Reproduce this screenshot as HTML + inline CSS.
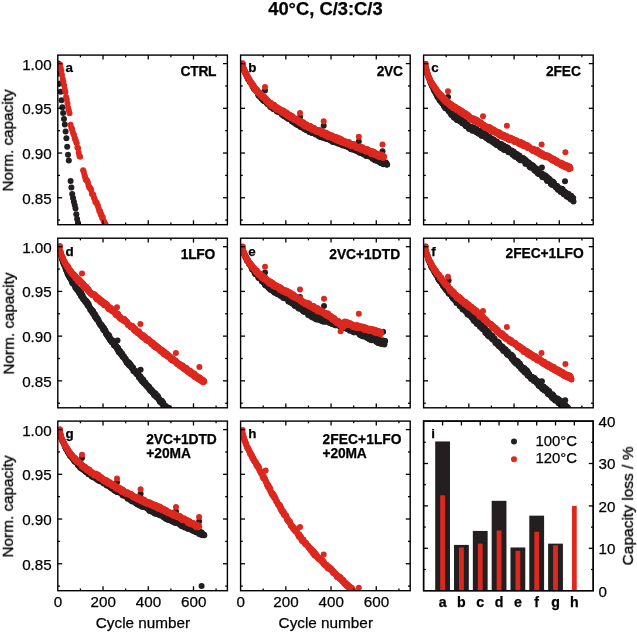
<!DOCTYPE html>
<html><head><meta charset="utf-8"><style>
html,body{margin:0;padding:0;background:#fff;}
svg{display:block;filter:blur(0.35px);}
text{will-change:transform;}
text{font-family:"Liberation Sans",sans-serif;fill:#000;stroke:#000;stroke-width:0.25px;}
</style></head><body>
<svg width="637" height="632" viewBox="0 0 637 632">
<rect width="637" height="632" fill="#fff"/>
<defs><clipPath id="cp00"><rect x="57.80" y="55.10" width="169.60" height="169.60"/></clipPath><clipPath id="cp01"><rect x="240.60" y="55.10" width="169.60" height="169.60"/></clipPath><clipPath id="cp02"><rect x="423.60" y="55.10" width="169.60" height="169.60"/></clipPath><clipPath id="cp10"><rect x="57.80" y="238.20" width="169.60" height="169.60"/></clipPath><clipPath id="cp11"><rect x="240.60" y="238.20" width="169.60" height="169.60"/></clipPath><clipPath id="cp12"><rect x="423.60" y="238.20" width="169.60" height="169.60"/></clipPath><clipPath id="cp20"><rect x="57.80" y="421.10" width="169.60" height="169.60"/></clipPath><clipPath id="cp21"><rect x="240.60" y="421.10" width="169.60" height="169.60"/></clipPath><clipPath id="cp22"><rect x="423.60" y="421.10" width="169.60" height="169.60"/></clipPath></defs>
<g clip-path="url(#cp00)"><g fill="#231f20"><circle cx="58.3" cy="63.6" r="3.00"/><circle cx="59.1" cy="73.4" r="3.00"/><circle cx="59.9" cy="83.4" r="3.00"/><circle cx="60.7" cy="91.7" r="3.00"/><circle cx="61.5" cy="100.2" r="3.00"/><circle cx="62.3" cy="107.3" r="3.00"/><circle cx="63.1" cy="113.0" r="3.00"/><circle cx="64.0" cy="119.1" r="3.00"/><circle cx="64.8" cy="124.6" r="3.00"/><circle cx="65.6" cy="131.6" r="3.00"/><circle cx="66.4" cy="138.3" r="3.00"/><circle cx="67.2" cy="146.7" r="3.00"/><circle cx="68.0" cy="154.7" r="3.00"/><circle cx="68.8" cy="160.5" r="3.00"/><circle cx="70.6" cy="180.9" r="3.00"/><circle cx="71.4" cy="187.5" r="3.00"/><circle cx="72.2" cy="193.9" r="3.00"/><circle cx="73.0" cy="197.9" r="3.00"/><circle cx="73.9" cy="201.8" r="3.00"/><circle cx="74.7" cy="205.1" r="3.00"/><circle cx="75.5" cy="208.5" r="3.00"/><circle cx="76.3" cy="214.3" r="3.00"/><circle cx="77.1" cy="219.0" r="3.00"/><circle cx="77.9" cy="222.8" r="3.00"/><circle cx="78.7" cy="227.5" r="3.00"/><circle cx="79.6" cy="232.7" r="3.00"/><circle cx="80.4" cy="237.6" r="3.00"/></g><g fill="#dc2920"><circle cx="60.0" cy="64.4" r="3.00"/><circle cx="60.7" cy="68.1" r="3.00"/><circle cx="61.4" cy="70.8" r="3.00"/><circle cx="62.0" cy="74.9" r="3.00"/><circle cx="62.7" cy="78.9" r="3.00"/><circle cx="63.4" cy="81.8" r="3.00"/><circle cx="64.1" cy="85.2" r="3.00"/><circle cx="64.7" cy="88.9" r="3.00"/><circle cx="65.4" cy="92.0" r="3.00"/><circle cx="66.1" cy="97.0" r="3.00"/><circle cx="66.8" cy="99.7" r="3.00"/><circle cx="67.5" cy="103.4" r="3.00"/><circle cx="68.1" cy="107.7" r="3.00"/><circle cx="68.8" cy="110.2" r="3.00"/><circle cx="69.5" cy="113.3" r="3.00"/><circle cx="70.6" cy="124.7" r="3.00"/><circle cx="71.3" cy="127.7" r="3.00"/><circle cx="72.0" cy="128.7" r="3.00"/><circle cx="72.6" cy="131.6" r="3.00"/><circle cx="73.3" cy="133.7" r="3.00"/><circle cx="74.0" cy="135.0" r="3.00"/><circle cx="74.7" cy="138.4" r="3.00"/><circle cx="75.3" cy="138.7" r="3.00"/><circle cx="76.0" cy="141.2" r="3.00"/><circle cx="76.7" cy="143.3" r="3.00"/><circle cx="77.4" cy="147.4" r="3.00"/><circle cx="78.1" cy="148.3" r="3.00"/><circle cx="78.7" cy="152.8" r="3.00"/><circle cx="79.4" cy="156.0" r="3.00"/><circle cx="80.1" cy="156.7" r="3.00"/><circle cx="83.1" cy="170.2" r="3.00"/><circle cx="83.8" cy="172.0" r="3.00"/><circle cx="84.5" cy="175.0" r="3.00"/><circle cx="85.1" cy="177.3" r="3.00"/><circle cx="85.8" cy="179.8" r="3.00"/><circle cx="86.5" cy="179.7" r="3.00"/><circle cx="87.2" cy="181.1" r="3.00"/><circle cx="87.9" cy="182.5" r="3.00"/><circle cx="88.5" cy="185.6" r="3.00"/><circle cx="89.2" cy="187.4" r="3.00"/><circle cx="89.9" cy="187.7" r="3.00"/><circle cx="90.6" cy="188.8" r="3.00"/><circle cx="91.2" cy="189.9" r="3.00"/><circle cx="91.9" cy="193.8" r="3.00"/><circle cx="92.6" cy="194.4" r="3.00"/><circle cx="93.3" cy="194.8" r="3.00"/><circle cx="94.0" cy="197.7" r="3.00"/><circle cx="94.6" cy="198.9" r="3.00"/><circle cx="95.3" cy="202.1" r="3.00"/><circle cx="96.0" cy="201.9" r="3.00"/><circle cx="96.7" cy="202.8" r="3.00"/><circle cx="97.4" cy="204.8" r="3.00"/><circle cx="98.0" cy="206.2" r="3.00"/><circle cx="98.7" cy="208.5" r="3.00"/><circle cx="99.4" cy="211.2" r="3.00"/><circle cx="100.1" cy="211.3" r="3.00"/><circle cx="100.7" cy="214.4" r="3.00"/><circle cx="101.4" cy="214.2" r="3.00"/><circle cx="102.1" cy="217.9" r="3.00"/><circle cx="102.8" cy="217.3" r="3.00"/><circle cx="103.5" cy="220.7" r="3.00"/><circle cx="104.1" cy="221.7" r="3.00"/><circle cx="104.8" cy="223.5" r="3.00"/><circle cx="105.5" cy="224.1" r="3.00"/><circle cx="106.2" cy="227.3" r="3.00"/><circle cx="106.8" cy="228.4" r="3.00"/><circle cx="107.5" cy="231.3" r="3.00"/></g></g>
<g clip-path="url(#cp01)"><g fill="#231f20"><circle cx="242.6" cy="63.9" r="3.00"/><circle cx="243.0" cy="66.6" r="3.00"/><circle cx="243.3" cy="68.3" r="3.00"/><circle cx="243.7" cy="68.6" r="3.00"/><circle cx="244.0" cy="69.9" r="3.00"/><circle cx="244.3" cy="70.2" r="3.00"/><circle cx="244.7" cy="71.1" r="3.00"/><circle cx="245.0" cy="72.1" r="3.00"/><circle cx="245.3" cy="72.2" r="3.00"/><circle cx="245.7" cy="73.2" r="3.00"/><circle cx="246.0" cy="73.6" r="3.00"/><circle cx="246.4" cy="75.1" r="3.00"/><circle cx="246.7" cy="75.4" r="3.00"/><circle cx="247.0" cy="76.6" r="3.00"/><circle cx="247.4" cy="75.9" r="3.00"/><circle cx="247.7" cy="77.9" r="3.00"/><circle cx="248.1" cy="78.5" r="3.00"/><circle cx="248.4" cy="79.4" r="3.00"/><circle cx="248.7" cy="79.7" r="3.00"/><circle cx="249.1" cy="79.3" r="3.00"/><circle cx="249.4" cy="80.0" r="3.00"/><circle cx="249.8" cy="81.8" r="3.00"/><circle cx="250.1" cy="81.9" r="3.00"/><circle cx="250.4" cy="82.3" r="3.00"/><circle cx="250.8" cy="82.4" r="3.00"/><circle cx="251.1" cy="83.4" r="3.00"/><circle cx="251.5" cy="83.6" r="3.00"/><circle cx="251.8" cy="83.6" r="3.00"/><circle cx="252.1" cy="84.4" r="3.00"/><circle cx="252.5" cy="85.8" r="3.00"/><circle cx="252.8" cy="86.1" r="3.00"/><circle cx="253.2" cy="86.9" r="3.00"/><circle cx="253.5" cy="88.0" r="3.00"/><circle cx="253.8" cy="88.3" r="3.00"/><circle cx="254.2" cy="88.6" r="3.00"/><circle cx="254.5" cy="89.1" r="3.00"/><circle cx="254.8" cy="89.6" r="3.00"/><circle cx="255.2" cy="89.3" r="3.00"/><circle cx="255.5" cy="88.7" r="3.00"/><circle cx="255.9" cy="89.7" r="3.00"/><circle cx="256.2" cy="90.1" r="3.00"/><circle cx="256.5" cy="90.7" r="3.00"/><circle cx="256.9" cy="91.6" r="3.00"/><circle cx="257.2" cy="91.1" r="3.00"/><circle cx="257.6" cy="92.2" r="3.00"/><circle cx="257.9" cy="93.2" r="3.00"/><circle cx="258.2" cy="95.0" r="3.00"/><circle cx="258.6" cy="94.1" r="3.00"/><circle cx="258.9" cy="95.5" r="3.00"/><circle cx="259.3" cy="96.2" r="3.00"/><circle cx="259.6" cy="95.3" r="3.00"/><circle cx="259.9" cy="94.7" r="3.00"/><circle cx="260.3" cy="96.8" r="3.00"/><circle cx="260.6" cy="95.5" r="3.00"/><circle cx="261.0" cy="96.8" r="3.00"/><circle cx="261.3" cy="98.5" r="3.00"/><circle cx="261.6" cy="95.9" r="3.00"/><circle cx="262.0" cy="98.3" r="3.00"/><circle cx="262.3" cy="99.0" r="3.00"/><circle cx="262.6" cy="97.4" r="3.00"/><circle cx="263.0" cy="100.3" r="3.00"/><circle cx="263.3" cy="98.5" r="3.00"/><circle cx="263.7" cy="100.7" r="3.00"/><circle cx="264.0" cy="100.3" r="3.00"/><circle cx="264.3" cy="101.2" r="3.00"/><circle cx="264.7" cy="99.4" r="3.00"/><circle cx="265.0" cy="101.3" r="3.00"/><circle cx="265.4" cy="99.5" r="3.00"/><circle cx="265.7" cy="101.0" r="3.00"/><circle cx="266.0" cy="101.1" r="3.00"/><circle cx="266.4" cy="102.0" r="3.00"/><circle cx="266.7" cy="103.0" r="3.00"/><circle cx="267.1" cy="103.0" r="3.00"/><circle cx="267.4" cy="101.3" r="3.00"/><circle cx="267.7" cy="104.3" r="3.00"/><circle cx="268.1" cy="101.7" r="3.00"/><circle cx="268.4" cy="102.8" r="3.00"/><circle cx="268.8" cy="104.5" r="3.00"/><circle cx="269.1" cy="103.8" r="3.00"/><circle cx="269.4" cy="105.0" r="3.00"/><circle cx="269.8" cy="105.2" r="3.00"/><circle cx="270.1" cy="105.0" r="3.00"/><circle cx="270.4" cy="107.0" r="3.00"/><circle cx="270.8" cy="105.6" r="3.00"/><circle cx="271.1" cy="104.1" r="3.00"/><circle cx="271.5" cy="106.8" r="3.00"/><circle cx="271.8" cy="105.4" r="3.00"/><circle cx="272.1" cy="106.7" r="3.00"/><circle cx="272.5" cy="107.8" r="3.00"/><circle cx="272.8" cy="105.6" r="3.00"/><circle cx="273.2" cy="109.0" r="3.00"/><circle cx="273.5" cy="108.2" r="3.00"/><circle cx="273.8" cy="106.0" r="3.00"/><circle cx="274.2" cy="108.8" r="3.00"/><circle cx="274.5" cy="107.0" r="3.00"/><circle cx="274.9" cy="108.1" r="3.00"/><circle cx="275.2" cy="107.6" r="3.00"/><circle cx="275.5" cy="108.4" r="3.00"/><circle cx="275.9" cy="109.6" r="3.00"/><circle cx="276.2" cy="108.4" r="3.00"/><circle cx="276.6" cy="111.3" r="3.00"/><circle cx="276.9" cy="110.0" r="3.00"/><circle cx="277.2" cy="110.5" r="3.00"/><circle cx="277.6" cy="110.4" r="3.00"/><circle cx="277.9" cy="111.8" r="3.00"/><circle cx="278.3" cy="111.7" r="3.00"/><circle cx="278.6" cy="110.7" r="3.00"/><circle cx="278.9" cy="111.6" r="3.00"/><circle cx="279.3" cy="110.4" r="3.00"/><circle cx="279.6" cy="111.2" r="3.00"/><circle cx="279.9" cy="110.6" r="3.00"/><circle cx="280.3" cy="111.2" r="3.00"/><circle cx="280.6" cy="111.9" r="3.00"/><circle cx="281.0" cy="113.3" r="3.00"/><circle cx="281.3" cy="111.7" r="3.00"/><circle cx="281.6" cy="113.8" r="3.00"/><circle cx="282.0" cy="114.7" r="3.00"/><circle cx="282.3" cy="111.7" r="3.00"/><circle cx="282.7" cy="113.5" r="3.00"/><circle cx="283.0" cy="112.9" r="3.00"/><circle cx="283.3" cy="114.0" r="3.00"/><circle cx="283.7" cy="113.9" r="3.00"/><circle cx="284.0" cy="116.2" r="3.00"/><circle cx="284.4" cy="115.8" r="3.00"/><circle cx="284.7" cy="114.3" r="3.00"/><circle cx="285.0" cy="114.9" r="3.00"/><circle cx="285.4" cy="116.6" r="3.00"/><circle cx="285.7" cy="114.0" r="3.00"/><circle cx="286.1" cy="117.1" r="3.00"/><circle cx="286.4" cy="116.0" r="3.00"/><circle cx="286.7" cy="117.5" r="3.00"/><circle cx="287.1" cy="115.7" r="3.00"/><circle cx="287.4" cy="117.5" r="3.00"/><circle cx="287.7" cy="118.2" r="3.00"/><circle cx="288.1" cy="118.8" r="3.00"/><circle cx="288.4" cy="118.5" r="3.00"/><circle cx="288.8" cy="118.7" r="3.00"/><circle cx="289.1" cy="117.7" r="3.00"/><circle cx="289.4" cy="118.2" r="3.00"/><circle cx="289.8" cy="116.6" r="3.00"/><circle cx="290.1" cy="116.9" r="3.00"/><circle cx="290.5" cy="117.7" r="3.00"/><circle cx="290.8" cy="118.3" r="3.00"/><circle cx="291.1" cy="117.9" r="3.00"/><circle cx="291.5" cy="117.8" r="3.00"/><circle cx="291.8" cy="121.3" r="3.00"/><circle cx="292.2" cy="121.2" r="3.00"/><circle cx="292.5" cy="120.6" r="3.00"/><circle cx="292.8" cy="121.8" r="3.00"/><circle cx="293.2" cy="120.2" r="3.00"/><circle cx="293.5" cy="121.6" r="3.00"/><circle cx="293.9" cy="121.8" r="3.00"/><circle cx="294.2" cy="121.9" r="3.00"/><circle cx="294.5" cy="122.9" r="3.00"/><circle cx="294.9" cy="120.8" r="3.00"/><circle cx="295.2" cy="121.3" r="3.00"/><circle cx="295.6" cy="121.7" r="3.00"/><circle cx="295.9" cy="124.0" r="3.00"/><circle cx="296.2" cy="122.8" r="3.00"/><circle cx="296.6" cy="122.1" r="3.00"/><circle cx="296.9" cy="124.2" r="3.00"/><circle cx="297.2" cy="123.6" r="3.00"/><circle cx="297.6" cy="125.1" r="3.00"/><circle cx="297.9" cy="125.1" r="3.00"/><circle cx="298.3" cy="124.8" r="3.00"/><circle cx="298.6" cy="124.3" r="3.00"/><circle cx="298.9" cy="124.4" r="3.00"/><circle cx="299.3" cy="123.1" r="3.00"/><circle cx="299.6" cy="125.3" r="3.00"/><circle cx="300.0" cy="126.6" r="3.00"/><circle cx="300.3" cy="123.9" r="3.00"/><circle cx="300.6" cy="126.8" r="3.00"/><circle cx="301.0" cy="126.9" r="3.00"/><circle cx="301.3" cy="124.0" r="3.00"/><circle cx="301.7" cy="125.0" r="3.00"/><circle cx="302.0" cy="126.6" r="3.00"/><circle cx="302.3" cy="127.6" r="3.00"/><circle cx="302.7" cy="126.9" r="3.00"/><circle cx="303.0" cy="127.2" r="3.00"/><circle cx="303.4" cy="125.5" r="3.00"/><circle cx="303.7" cy="127.3" r="3.00"/><circle cx="304.0" cy="128.7" r="3.00"/><circle cx="304.4" cy="125.9" r="3.00"/><circle cx="304.7" cy="127.2" r="3.00"/><circle cx="305.0" cy="129.2" r="3.00"/><circle cx="305.4" cy="129.4" r="3.00"/><circle cx="305.7" cy="128.3" r="3.00"/><circle cx="306.1" cy="129.8" r="3.00"/><circle cx="306.4" cy="128.1" r="3.00"/><circle cx="306.7" cy="128.3" r="3.00"/><circle cx="307.1" cy="130.6" r="3.00"/><circle cx="307.4" cy="128.0" r="3.00"/><circle cx="307.8" cy="128.3" r="3.00"/><circle cx="308.1" cy="128.0" r="3.00"/><circle cx="308.4" cy="129.0" r="3.00"/><circle cx="308.8" cy="129.1" r="3.00"/><circle cx="309.1" cy="131.2" r="3.00"/><circle cx="309.5" cy="131.9" r="3.00"/><circle cx="309.8" cy="131.9" r="3.00"/><circle cx="310.1" cy="128.8" r="3.00"/><circle cx="310.5" cy="130.1" r="3.00"/><circle cx="310.8" cy="129.2" r="3.00"/><circle cx="311.2" cy="131.5" r="3.00"/><circle cx="311.5" cy="130.3" r="3.00"/><circle cx="311.8" cy="132.9" r="3.00"/><circle cx="312.2" cy="132.7" r="3.00"/><circle cx="312.5" cy="132.4" r="3.00"/><circle cx="312.8" cy="131.6" r="3.00"/><circle cx="313.2" cy="131.8" r="3.00"/><circle cx="313.5" cy="132.1" r="3.00"/><circle cx="313.9" cy="132.6" r="3.00"/><circle cx="314.2" cy="132.2" r="3.00"/><circle cx="314.5" cy="130.9" r="3.00"/><circle cx="314.9" cy="132.9" r="3.00"/><circle cx="315.2" cy="131.7" r="3.00"/><circle cx="315.6" cy="134.6" r="3.00"/><circle cx="315.9" cy="133.6" r="3.00"/><circle cx="316.2" cy="133.1" r="3.00"/><circle cx="316.6" cy="133.1" r="3.00"/><circle cx="316.9" cy="134.5" r="3.00"/><circle cx="317.3" cy="134.1" r="3.00"/><circle cx="317.6" cy="132.3" r="3.00"/><circle cx="317.9" cy="133.5" r="3.00"/><circle cx="318.3" cy="133.9" r="3.00"/><circle cx="318.6" cy="135.9" r="3.00"/><circle cx="319.0" cy="136.1" r="3.00"/><circle cx="319.3" cy="135.7" r="3.00"/><circle cx="319.6" cy="136.1" r="3.00"/><circle cx="320.0" cy="133.2" r="3.00"/><circle cx="320.3" cy="136.9" r="3.00"/><circle cx="320.7" cy="135.7" r="3.00"/><circle cx="321.0" cy="136.9" r="3.00"/><circle cx="321.3" cy="135.0" r="3.00"/><circle cx="321.7" cy="137.3" r="3.00"/><circle cx="322.0" cy="137.3" r="3.00"/><circle cx="322.3" cy="137.4" r="3.00"/><circle cx="322.7" cy="136.9" r="3.00"/><circle cx="323.0" cy="135.9" r="3.00"/><circle cx="323.4" cy="135.3" r="3.00"/><circle cx="323.7" cy="137.3" r="3.00"/><circle cx="324.0" cy="137.4" r="3.00"/><circle cx="324.4" cy="135.6" r="3.00"/><circle cx="324.7" cy="136.0" r="3.00"/><circle cx="325.1" cy="138.4" r="3.00"/><circle cx="325.4" cy="136.1" r="3.00"/><circle cx="325.7" cy="136.1" r="3.00"/><circle cx="326.1" cy="138.6" r="3.00"/><circle cx="326.4" cy="137.2" r="3.00"/><circle cx="326.8" cy="138.8" r="3.00"/><circle cx="327.1" cy="138.8" r="3.00"/><circle cx="327.4" cy="138.0" r="3.00"/><circle cx="327.8" cy="138.1" r="3.00"/><circle cx="328.1" cy="138.4" r="3.00"/><circle cx="328.5" cy="138.3" r="3.00"/><circle cx="328.8" cy="139.6" r="3.00"/><circle cx="329.1" cy="137.7" r="3.00"/><circle cx="329.5" cy="139.6" r="3.00"/><circle cx="329.8" cy="137.5" r="3.00"/><circle cx="330.1" cy="139.1" r="3.00"/><circle cx="330.5" cy="140.0" r="3.00"/><circle cx="330.8" cy="140.6" r="3.00"/><circle cx="331.2" cy="139.6" r="3.00"/><circle cx="331.5" cy="140.1" r="3.00"/><circle cx="331.8" cy="139.4" r="3.00"/><circle cx="332.2" cy="139.9" r="3.00"/><circle cx="332.5" cy="141.7" r="3.00"/><circle cx="332.9" cy="139.0" r="3.00"/><circle cx="333.2" cy="142.0" r="3.00"/><circle cx="333.5" cy="139.3" r="3.00"/><circle cx="333.9" cy="139.5" r="3.00"/><circle cx="334.2" cy="139.2" r="3.00"/><circle cx="334.6" cy="140.3" r="3.00"/><circle cx="334.9" cy="142.2" r="3.00"/><circle cx="335.2" cy="141.4" r="3.00"/><circle cx="335.6" cy="141.5" r="3.00"/><circle cx="335.9" cy="140.9" r="3.00"/><circle cx="336.3" cy="142.0" r="3.00"/><circle cx="336.6" cy="141.0" r="3.00"/><circle cx="336.9" cy="142.9" r="3.00"/><circle cx="337.3" cy="142.5" r="3.00"/><circle cx="337.6" cy="141.9" r="3.00"/><circle cx="338.0" cy="142.5" r="3.00"/><circle cx="338.3" cy="143.7" r="3.00"/><circle cx="338.6" cy="140.8" r="3.00"/><circle cx="339.0" cy="141.9" r="3.00"/><circle cx="339.3" cy="141.5" r="3.00"/><circle cx="339.6" cy="143.4" r="3.00"/><circle cx="340.0" cy="141.4" r="3.00"/><circle cx="340.3" cy="142.0" r="3.00"/><circle cx="340.7" cy="141.5" r="3.00"/><circle cx="341.0" cy="144.5" r="3.00"/><circle cx="341.3" cy="143.6" r="3.00"/><circle cx="341.7" cy="144.0" r="3.00"/><circle cx="342.0" cy="143.4" r="3.00"/><circle cx="342.4" cy="144.8" r="3.00"/><circle cx="342.7" cy="145.5" r="3.00"/><circle cx="343.0" cy="144.3" r="3.00"/><circle cx="343.4" cy="143.8" r="3.00"/><circle cx="343.7" cy="144.8" r="3.00"/><circle cx="344.1" cy="142.8" r="3.00"/><circle cx="344.4" cy="145.0" r="3.00"/><circle cx="344.7" cy="145.6" r="3.00"/><circle cx="345.1" cy="143.8" r="3.00"/><circle cx="345.4" cy="145.2" r="3.00"/><circle cx="345.8" cy="146.1" r="3.00"/><circle cx="346.1" cy="146.1" r="3.00"/><circle cx="346.4" cy="143.9" r="3.00"/><circle cx="346.8" cy="144.0" r="3.00"/><circle cx="347.1" cy="145.3" r="3.00"/><circle cx="347.4" cy="146.7" r="3.00"/><circle cx="347.8" cy="145.3" r="3.00"/><circle cx="348.1" cy="147.2" r="3.00"/><circle cx="348.5" cy="147.0" r="3.00"/><circle cx="348.8" cy="146.3" r="3.00"/><circle cx="349.1" cy="147.0" r="3.00"/><circle cx="349.5" cy="147.3" r="3.00"/><circle cx="349.8" cy="145.2" r="3.00"/><circle cx="350.2" cy="148.2" r="3.00"/><circle cx="350.5" cy="146.8" r="3.00"/><circle cx="350.8" cy="149.0" r="3.00"/><circle cx="351.2" cy="148.9" r="3.00"/><circle cx="351.5" cy="148.6" r="3.00"/><circle cx="351.9" cy="146.0" r="3.00"/><circle cx="352.2" cy="147.1" r="3.00"/><circle cx="352.5" cy="146.7" r="3.00"/><circle cx="352.9" cy="149.8" r="3.00"/><circle cx="353.2" cy="147.7" r="3.00"/><circle cx="353.6" cy="148.7" r="3.00"/><circle cx="353.9" cy="148.9" r="3.00"/><circle cx="354.2" cy="148.0" r="3.00"/><circle cx="354.6" cy="149.6" r="3.00"/><circle cx="354.9" cy="149.0" r="3.00"/><circle cx="355.2" cy="150.1" r="3.00"/><circle cx="355.6" cy="149.8" r="3.00"/><circle cx="355.9" cy="149.4" r="3.00"/><circle cx="356.3" cy="150.9" r="3.00"/><circle cx="356.6" cy="150.6" r="3.00"/><circle cx="356.9" cy="150.2" r="3.00"/><circle cx="357.3" cy="150.2" r="3.00"/><circle cx="357.6" cy="149.2" r="3.00"/><circle cx="358.0" cy="149.9" r="3.00"/><circle cx="358.3" cy="150.3" r="3.00"/><circle cx="358.6" cy="149.4" r="3.00"/><circle cx="359.0" cy="152.0" r="3.00"/><circle cx="359.3" cy="152.4" r="3.00"/><circle cx="359.7" cy="151.6" r="3.00"/><circle cx="360.0" cy="152.6" r="3.00"/><circle cx="360.3" cy="151.3" r="3.00"/><circle cx="360.7" cy="151.4" r="3.00"/><circle cx="361.0" cy="153.1" r="3.00"/><circle cx="361.4" cy="151.2" r="3.00"/><circle cx="361.7" cy="151.9" r="3.00"/><circle cx="362.0" cy="152.6" r="3.00"/><circle cx="362.4" cy="150.9" r="3.00"/><circle cx="362.7" cy="151.3" r="3.00"/><circle cx="363.1" cy="153.8" r="3.00"/><circle cx="363.4" cy="154.1" r="3.00"/><circle cx="363.7" cy="151.6" r="3.00"/><circle cx="364.1" cy="154.5" r="3.00"/><circle cx="364.4" cy="152.5" r="3.00"/><circle cx="364.7" cy="154.2" r="3.00"/><circle cx="365.1" cy="154.2" r="3.00"/><circle cx="365.4" cy="153.7" r="3.00"/><circle cx="365.8" cy="152.5" r="3.00"/><circle cx="366.1" cy="156.0" r="3.00"/><circle cx="366.4" cy="155.6" r="3.00"/><circle cx="366.8" cy="153.7" r="3.00"/><circle cx="367.1" cy="155.1" r="3.00"/><circle cx="367.5" cy="155.6" r="3.00"/><circle cx="367.8" cy="153.4" r="3.00"/><circle cx="368.1" cy="156.0" r="3.00"/><circle cx="368.5" cy="154.6" r="3.00"/><circle cx="368.8" cy="153.8" r="3.00"/><circle cx="369.2" cy="154.7" r="3.00"/><circle cx="369.5" cy="155.1" r="3.00"/><circle cx="369.8" cy="155.2" r="3.00"/><circle cx="370.2" cy="155.1" r="3.00"/><circle cx="370.5" cy="157.1" r="3.00"/><circle cx="370.9" cy="156.0" r="3.00"/><circle cx="371.2" cy="155.6" r="3.00"/><circle cx="371.5" cy="155.4" r="3.00"/><circle cx="371.9" cy="155.5" r="3.00"/><circle cx="372.2" cy="155.7" r="3.00"/><circle cx="372.5" cy="158.8" r="3.00"/><circle cx="372.9" cy="157.9" r="3.00"/><circle cx="373.2" cy="157.8" r="3.00"/><circle cx="373.6" cy="156.4" r="3.00"/><circle cx="373.9" cy="158.3" r="3.00"/><circle cx="374.2" cy="159.0" r="3.00"/><circle cx="374.6" cy="160.0" r="3.00"/><circle cx="374.9" cy="159.2" r="3.00"/><circle cx="375.3" cy="157.6" r="3.00"/><circle cx="375.6" cy="160.5" r="3.00"/><circle cx="375.9" cy="160.2" r="3.00"/><circle cx="376.3" cy="159.8" r="3.00"/><circle cx="376.6" cy="159.2" r="3.00"/><circle cx="377.0" cy="160.0" r="3.00"/><circle cx="377.3" cy="158.3" r="3.00"/><circle cx="377.6" cy="160.9" r="3.00"/><circle cx="378.0" cy="159.8" r="3.00"/><circle cx="378.3" cy="159.2" r="3.00"/><circle cx="378.7" cy="158.8" r="3.00"/><circle cx="379.0" cy="159.2" r="3.00"/><circle cx="379.3" cy="162.0" r="3.00"/><circle cx="379.7" cy="159.8" r="3.00"/><circle cx="380.0" cy="160.4" r="3.00"/><circle cx="380.4" cy="161.5" r="3.00"/><circle cx="380.7" cy="163.0" r="3.00"/><circle cx="381.0" cy="162.7" r="3.00"/><circle cx="381.4" cy="160.8" r="3.00"/><circle cx="381.7" cy="163.3" r="3.00"/><circle cx="382.0" cy="162.7" r="3.00"/><circle cx="382.4" cy="163.1" r="3.00"/><circle cx="382.7" cy="161.5" r="3.00"/><circle cx="383.1" cy="163.0" r="3.00"/><circle cx="383.4" cy="164.2" r="3.00"/><circle cx="383.7" cy="163.3" r="3.00"/><circle cx="384.1" cy="163.6" r="3.00"/><circle cx="384.4" cy="162.4" r="3.00"/><circle cx="384.8" cy="164.0" r="3.00"/><circle cx="385.1" cy="162.8" r="3.00"/><circle cx="385.4" cy="163.6" r="3.00"/><circle cx="385.8" cy="162.5" r="3.00"/><circle cx="386.1" cy="163.2" r="3.00"/><circle cx="386.5" cy="164.5" r="3.00"/><circle cx="386.8" cy="164.4" r="3.00"/><circle cx="387.1" cy="164.6" r="3.00"/></g><g fill="#231f20"><circle cx="265.0" cy="90.6" r="3.00"/><circle cx="300.0" cy="116.9" r="3.00"/><circle cx="323.7" cy="125.7" r="3.00"/><circle cx="358.8" cy="141.6" r="3.00"/><circle cx="382.5" cy="151.2" r="3.00"/></g><g fill="#dc2920"><circle cx="242.6" cy="63.2" r="3.00"/><circle cx="243.0" cy="67.0" r="3.00"/><circle cx="243.3" cy="68.1" r="3.00"/><circle cx="243.7" cy="69.0" r="3.00"/><circle cx="244.0" cy="70.0" r="3.00"/><circle cx="244.3" cy="70.7" r="3.00"/><circle cx="244.7" cy="71.6" r="3.00"/><circle cx="245.0" cy="72.4" r="3.00"/><circle cx="245.3" cy="72.8" r="3.00"/><circle cx="245.7" cy="74.0" r="3.00"/><circle cx="246.0" cy="74.3" r="3.00"/><circle cx="246.4" cy="74.7" r="3.00"/><circle cx="246.7" cy="76.3" r="3.00"/><circle cx="247.0" cy="76.6" r="3.00"/><circle cx="247.4" cy="76.3" r="3.00"/><circle cx="247.7" cy="76.8" r="3.00"/><circle cx="248.1" cy="77.4" r="3.00"/><circle cx="248.4" cy="79.6" r="3.00"/><circle cx="248.7" cy="78.8" r="3.00"/><circle cx="249.1" cy="79.1" r="3.00"/><circle cx="249.4" cy="79.7" r="3.00"/><circle cx="249.8" cy="80.6" r="3.00"/><circle cx="250.1" cy="81.2" r="3.00"/><circle cx="250.4" cy="81.6" r="3.00"/><circle cx="250.8" cy="82.4" r="3.00"/><circle cx="251.1" cy="82.5" r="3.00"/><circle cx="251.5" cy="83.6" r="3.00"/><circle cx="251.8" cy="84.6" r="3.00"/><circle cx="252.1" cy="85.4" r="3.00"/><circle cx="252.5" cy="84.1" r="3.00"/><circle cx="252.8" cy="84.9" r="3.00"/><circle cx="253.2" cy="86.6" r="3.00"/><circle cx="253.5" cy="85.6" r="3.00"/><circle cx="253.8" cy="87.2" r="3.00"/><circle cx="254.2" cy="86.8" r="3.00"/><circle cx="254.5" cy="88.0" r="3.00"/><circle cx="254.8" cy="88.7" r="3.00"/><circle cx="255.2" cy="89.3" r="3.00"/><circle cx="255.5" cy="90.0" r="3.00"/><circle cx="255.9" cy="90.4" r="3.00"/><circle cx="256.2" cy="90.8" r="3.00"/><circle cx="256.5" cy="91.2" r="3.00"/><circle cx="256.9" cy="89.6" r="3.00"/><circle cx="257.2" cy="90.9" r="3.00"/><circle cx="257.6" cy="92.4" r="3.00"/><circle cx="257.9" cy="91.7" r="3.00"/><circle cx="258.2" cy="92.0" r="3.00"/><circle cx="258.6" cy="92.5" r="3.00"/><circle cx="258.9" cy="93.8" r="3.00"/><circle cx="259.3" cy="93.5" r="3.00"/><circle cx="259.6" cy="92.6" r="3.00"/><circle cx="259.9" cy="94.4" r="3.00"/><circle cx="260.3" cy="94.5" r="3.00"/><circle cx="260.6" cy="93.5" r="3.00"/><circle cx="261.0" cy="96.1" r="3.00"/><circle cx="261.3" cy="94.8" r="3.00"/><circle cx="261.6" cy="96.0" r="3.00"/><circle cx="262.0" cy="95.4" r="3.00"/><circle cx="262.3" cy="97.1" r="3.00"/><circle cx="262.6" cy="96.8" r="3.00"/><circle cx="263.0" cy="97.7" r="3.00"/><circle cx="263.3" cy="96.5" r="3.00"/><circle cx="263.7" cy="96.6" r="3.00"/><circle cx="264.0" cy="97.9" r="3.00"/><circle cx="264.3" cy="97.1" r="3.00"/><circle cx="264.7" cy="98.2" r="3.00"/><circle cx="265.0" cy="98.2" r="3.00"/><circle cx="265.4" cy="98.3" r="3.00"/><circle cx="265.7" cy="100.6" r="3.00"/><circle cx="266.0" cy="98.6" r="3.00"/><circle cx="266.4" cy="100.8" r="3.00"/><circle cx="266.7" cy="100.8" r="3.00"/><circle cx="267.1" cy="102.1" r="3.00"/><circle cx="267.4" cy="100.3" r="3.00"/><circle cx="267.7" cy="102.2" r="3.00"/><circle cx="268.1" cy="101.3" r="3.00"/><circle cx="268.4" cy="103.1" r="3.00"/><circle cx="268.8" cy="103.0" r="3.00"/><circle cx="269.1" cy="103.1" r="3.00"/><circle cx="269.4" cy="103.9" r="3.00"/><circle cx="269.8" cy="104.8" r="3.00"/><circle cx="270.1" cy="102.7" r="3.00"/><circle cx="270.4" cy="102.4" r="3.00"/><circle cx="270.8" cy="105.0" r="3.00"/><circle cx="271.1" cy="105.4" r="3.00"/><circle cx="271.5" cy="105.1" r="3.00"/><circle cx="271.8" cy="106.2" r="3.00"/><circle cx="272.1" cy="104.6" r="3.00"/><circle cx="272.5" cy="105.7" r="3.00"/><circle cx="272.8" cy="105.3" r="3.00"/><circle cx="273.2" cy="104.5" r="3.00"/><circle cx="273.5" cy="104.9" r="3.00"/><circle cx="273.8" cy="104.9" r="3.00"/><circle cx="274.2" cy="105.1" r="3.00"/><circle cx="274.5" cy="106.4" r="3.00"/><circle cx="274.9" cy="106.9" r="3.00"/><circle cx="275.2" cy="108.6" r="3.00"/><circle cx="275.5" cy="108.7" r="3.00"/><circle cx="275.9" cy="107.5" r="3.00"/><circle cx="276.2" cy="106.7" r="3.00"/><circle cx="276.6" cy="108.2" r="3.00"/><circle cx="276.9" cy="109.8" r="3.00"/><circle cx="277.2" cy="109.4" r="3.00"/><circle cx="277.6" cy="107.8" r="3.00"/><circle cx="277.9" cy="110.0" r="3.00"/><circle cx="278.3" cy="110.1" r="3.00"/><circle cx="278.6" cy="110.0" r="3.00"/><circle cx="278.9" cy="109.2" r="3.00"/><circle cx="279.3" cy="108.6" r="3.00"/><circle cx="279.6" cy="110.8" r="3.00"/><circle cx="279.9" cy="109.8" r="3.00"/><circle cx="280.3" cy="110.3" r="3.00"/><circle cx="280.6" cy="110.7" r="3.00"/><circle cx="281.0" cy="110.5" r="3.00"/><circle cx="281.3" cy="110.0" r="3.00"/><circle cx="281.6" cy="112.1" r="3.00"/><circle cx="282.0" cy="111.4" r="3.00"/><circle cx="282.3" cy="112.9" r="3.00"/><circle cx="282.7" cy="111.8" r="3.00"/><circle cx="283.0" cy="111.1" r="3.00"/><circle cx="283.3" cy="110.6" r="3.00"/><circle cx="283.7" cy="112.5" r="3.00"/><circle cx="284.0" cy="113.3" r="3.00"/><circle cx="284.4" cy="112.6" r="3.00"/><circle cx="284.7" cy="113.5" r="3.00"/><circle cx="285.0" cy="114.5" r="3.00"/><circle cx="285.4" cy="113.4" r="3.00"/><circle cx="285.7" cy="112.7" r="3.00"/><circle cx="286.1" cy="112.6" r="3.00"/><circle cx="286.4" cy="112.5" r="3.00"/><circle cx="286.7" cy="114.7" r="3.00"/><circle cx="287.1" cy="115.3" r="3.00"/><circle cx="287.4" cy="115.9" r="3.00"/><circle cx="287.7" cy="115.1" r="3.00"/><circle cx="288.1" cy="114.1" r="3.00"/><circle cx="288.4" cy="116.2" r="3.00"/><circle cx="288.8" cy="114.4" r="3.00"/><circle cx="289.1" cy="115.0" r="3.00"/><circle cx="289.4" cy="116.9" r="3.00"/><circle cx="289.8" cy="115.7" r="3.00"/><circle cx="290.1" cy="115.3" r="3.00"/><circle cx="290.5" cy="115.2" r="3.00"/><circle cx="290.8" cy="117.9" r="3.00"/><circle cx="291.1" cy="115.9" r="3.00"/><circle cx="291.5" cy="116.3" r="3.00"/><circle cx="291.8" cy="118.2" r="3.00"/><circle cx="292.2" cy="118.3" r="3.00"/><circle cx="292.5" cy="116.3" r="3.00"/><circle cx="292.8" cy="118.5" r="3.00"/><circle cx="293.2" cy="118.9" r="3.00"/><circle cx="293.5" cy="117.7" r="3.00"/><circle cx="293.9" cy="119.8" r="3.00"/><circle cx="294.2" cy="118.9" r="3.00"/><circle cx="294.5" cy="119.5" r="3.00"/><circle cx="294.9" cy="119.1" r="3.00"/><circle cx="295.2" cy="119.1" r="3.00"/><circle cx="295.6" cy="119.2" r="3.00"/><circle cx="295.9" cy="120.1" r="3.00"/><circle cx="296.2" cy="118.8" r="3.00"/><circle cx="296.6" cy="119.2" r="3.00"/><circle cx="296.9" cy="119.1" r="3.00"/><circle cx="297.2" cy="120.8" r="3.00"/><circle cx="297.6" cy="120.1" r="3.00"/><circle cx="297.9" cy="121.3" r="3.00"/><circle cx="298.3" cy="122.0" r="3.00"/><circle cx="298.6" cy="121.0" r="3.00"/><circle cx="298.9" cy="120.2" r="3.00"/><circle cx="299.3" cy="120.9" r="3.00"/><circle cx="299.6" cy="122.7" r="3.00"/><circle cx="300.0" cy="123.1" r="3.00"/><circle cx="300.3" cy="121.5" r="3.00"/><circle cx="300.6" cy="121.9" r="3.00"/><circle cx="301.0" cy="121.6" r="3.00"/><circle cx="301.3" cy="124.1" r="3.00"/><circle cx="301.7" cy="122.0" r="3.00"/><circle cx="302.0" cy="123.5" r="3.00"/><circle cx="302.3" cy="124.2" r="3.00"/><circle cx="302.7" cy="124.2" r="3.00"/><circle cx="303.0" cy="122.3" r="3.00"/><circle cx="303.4" cy="122.6" r="3.00"/><circle cx="303.7" cy="125.5" r="3.00"/><circle cx="304.0" cy="125.0" r="3.00"/><circle cx="304.4" cy="123.8" r="3.00"/><circle cx="304.7" cy="126.2" r="3.00"/><circle cx="305.0" cy="126.4" r="3.00"/><circle cx="305.4" cy="126.5" r="3.00"/><circle cx="305.7" cy="124.0" r="3.00"/><circle cx="306.1" cy="125.9" r="3.00"/><circle cx="306.4" cy="126.2" r="3.00"/><circle cx="306.7" cy="124.8" r="3.00"/><circle cx="307.1" cy="126.5" r="3.00"/><circle cx="307.4" cy="125.3" r="3.00"/><circle cx="307.8" cy="126.7" r="3.00"/><circle cx="308.1" cy="127.1" r="3.00"/><circle cx="308.4" cy="126.9" r="3.00"/><circle cx="308.8" cy="127.8" r="3.00"/><circle cx="309.1" cy="128.3" r="3.00"/><circle cx="309.5" cy="125.9" r="3.00"/><circle cx="309.8" cy="126.0" r="3.00"/><circle cx="310.1" cy="127.5" r="3.00"/><circle cx="310.5" cy="126.9" r="3.00"/><circle cx="310.8" cy="126.5" r="3.00"/><circle cx="311.2" cy="128.2" r="3.00"/><circle cx="311.5" cy="127.3" r="3.00"/><circle cx="311.8" cy="127.4" r="3.00"/><circle cx="312.2" cy="129.7" r="3.00"/><circle cx="312.5" cy="129.7" r="3.00"/><circle cx="312.8" cy="127.8" r="3.00"/><circle cx="313.2" cy="128.1" r="3.00"/><circle cx="313.5" cy="130.0" r="3.00"/><circle cx="313.9" cy="128.1" r="3.00"/><circle cx="314.2" cy="128.3" r="3.00"/><circle cx="314.5" cy="130.0" r="3.00"/><circle cx="314.9" cy="130.1" r="3.00"/><circle cx="315.2" cy="131.0" r="3.00"/><circle cx="315.6" cy="130.1" r="3.00"/><circle cx="315.9" cy="131.3" r="3.00"/><circle cx="316.2" cy="130.0" r="3.00"/><circle cx="316.6" cy="129.9" r="3.00"/><circle cx="316.9" cy="130.2" r="3.00"/><circle cx="317.3" cy="132.0" r="3.00"/><circle cx="317.6" cy="130.4" r="3.00"/><circle cx="317.9" cy="130.1" r="3.00"/><circle cx="318.3" cy="132.2" r="3.00"/><circle cx="318.6" cy="130.9" r="3.00"/><circle cx="319.0" cy="130.4" r="3.00"/><circle cx="319.3" cy="132.5" r="3.00"/><circle cx="319.6" cy="130.4" r="3.00"/><circle cx="320.0" cy="130.3" r="3.00"/><circle cx="320.3" cy="131.3" r="3.00"/><circle cx="320.7" cy="130.9" r="3.00"/><circle cx="321.0" cy="133.0" r="3.00"/><circle cx="321.3" cy="131.9" r="3.00"/><circle cx="321.7" cy="131.2" r="3.00"/><circle cx="322.0" cy="134.2" r="3.00"/><circle cx="322.3" cy="131.9" r="3.00"/><circle cx="322.7" cy="133.9" r="3.00"/><circle cx="323.0" cy="132.2" r="3.00"/><circle cx="323.4" cy="132.9" r="3.00"/><circle cx="323.7" cy="132.5" r="3.00"/><circle cx="324.0" cy="133.9" r="3.00"/><circle cx="324.4" cy="133.9" r="3.00"/><circle cx="324.7" cy="132.6" r="3.00"/><circle cx="325.1" cy="135.4" r="3.00"/><circle cx="325.4" cy="135.3" r="3.00"/><circle cx="325.7" cy="132.8" r="3.00"/><circle cx="326.1" cy="133.2" r="3.00"/><circle cx="326.4" cy="135.8" r="3.00"/><circle cx="326.8" cy="133.3" r="3.00"/><circle cx="327.1" cy="135.7" r="3.00"/><circle cx="327.4" cy="133.8" r="3.00"/><circle cx="327.8" cy="133.9" r="3.00"/><circle cx="328.1" cy="136.9" r="3.00"/><circle cx="328.5" cy="137.1" r="3.00"/><circle cx="328.8" cy="136.2" r="3.00"/><circle cx="329.1" cy="134.4" r="3.00"/><circle cx="329.5" cy="135.0" r="3.00"/><circle cx="329.8" cy="136.5" r="3.00"/><circle cx="330.1" cy="135.1" r="3.00"/><circle cx="330.5" cy="137.0" r="3.00"/><circle cx="330.8" cy="137.0" r="3.00"/><circle cx="331.2" cy="137.7" r="3.00"/><circle cx="331.5" cy="135.3" r="3.00"/><circle cx="331.8" cy="136.0" r="3.00"/><circle cx="332.2" cy="137.2" r="3.00"/><circle cx="332.5" cy="138.0" r="3.00"/><circle cx="332.9" cy="135.9" r="3.00"/><circle cx="333.2" cy="137.8" r="3.00"/><circle cx="333.5" cy="138.6" r="3.00"/><circle cx="333.9" cy="138.0" r="3.00"/><circle cx="334.2" cy="137.2" r="3.00"/><circle cx="334.6" cy="137.2" r="3.00"/><circle cx="334.9" cy="139.4" r="3.00"/><circle cx="335.2" cy="136.9" r="3.00"/><circle cx="335.6" cy="137.9" r="3.00"/><circle cx="335.9" cy="140.0" r="3.00"/><circle cx="336.3" cy="137.6" r="3.00"/><circle cx="336.6" cy="137.3" r="3.00"/><circle cx="336.9" cy="137.9" r="3.00"/><circle cx="337.3" cy="140.7" r="3.00"/><circle cx="337.6" cy="139.3" r="3.00"/><circle cx="338.0" cy="139.1" r="3.00"/><circle cx="338.3" cy="138.3" r="3.00"/><circle cx="338.6" cy="139.7" r="3.00"/><circle cx="339.0" cy="141.2" r="3.00"/><circle cx="339.3" cy="138.5" r="3.00"/><circle cx="339.6" cy="138.6" r="3.00"/><circle cx="340.0" cy="140.2" r="3.00"/><circle cx="340.3" cy="141.8" r="3.00"/><circle cx="340.7" cy="139.4" r="3.00"/><circle cx="341.0" cy="139.8" r="3.00"/><circle cx="341.3" cy="139.2" r="3.00"/><circle cx="341.7" cy="142.4" r="3.00"/><circle cx="342.0" cy="141.2" r="3.00"/><circle cx="342.4" cy="141.8" r="3.00"/><circle cx="342.7" cy="142.5" r="3.00"/><circle cx="343.0" cy="140.6" r="3.00"/><circle cx="343.4" cy="142.0" r="3.00"/><circle cx="343.7" cy="143.1" r="3.00"/><circle cx="344.1" cy="142.9" r="3.00"/><circle cx="344.4" cy="140.9" r="3.00"/><circle cx="344.7" cy="141.6" r="3.00"/><circle cx="345.1" cy="143.0" r="3.00"/><circle cx="345.4" cy="141.6" r="3.00"/><circle cx="345.8" cy="143.6" r="3.00"/><circle cx="346.1" cy="141.9" r="3.00"/><circle cx="346.4" cy="142.1" r="3.00"/><circle cx="346.8" cy="144.3" r="3.00"/><circle cx="347.1" cy="142.8" r="3.00"/><circle cx="347.4" cy="142.3" r="3.00"/><circle cx="347.8" cy="142.3" r="3.00"/><circle cx="348.1" cy="142.6" r="3.00"/><circle cx="348.5" cy="142.1" r="3.00"/><circle cx="348.8" cy="142.7" r="3.00"/><circle cx="349.1" cy="142.3" r="3.00"/><circle cx="349.5" cy="144.0" r="3.00"/><circle cx="349.8" cy="145.4" r="3.00"/><circle cx="350.2" cy="145.1" r="3.00"/><circle cx="350.5" cy="144.8" r="3.00"/><circle cx="350.8" cy="145.8" r="3.00"/><circle cx="351.2" cy="145.7" r="3.00"/><circle cx="351.5" cy="144.5" r="3.00"/><circle cx="351.9" cy="145.5" r="3.00"/><circle cx="352.2" cy="145.5" r="3.00"/><circle cx="352.5" cy="144.2" r="3.00"/><circle cx="352.9" cy="143.9" r="3.00"/><circle cx="353.2" cy="144.0" r="3.00"/><circle cx="353.6" cy="145.7" r="3.00"/><circle cx="353.9" cy="144.8" r="3.00"/><circle cx="354.2" cy="144.4" r="3.00"/><circle cx="354.6" cy="146.8" r="3.00"/><circle cx="354.9" cy="146.8" r="3.00"/><circle cx="355.2" cy="145.5" r="3.00"/><circle cx="355.6" cy="146.9" r="3.00"/><circle cx="355.9" cy="147.2" r="3.00"/><circle cx="356.3" cy="146.8" r="3.00"/><circle cx="356.6" cy="148.1" r="3.00"/><circle cx="356.9" cy="146.8" r="3.00"/><circle cx="357.3" cy="148.2" r="3.00"/><circle cx="357.6" cy="147.7" r="3.00"/><circle cx="358.0" cy="147.9" r="3.00"/><circle cx="358.3" cy="147.7" r="3.00"/><circle cx="358.6" cy="148.5" r="3.00"/><circle cx="359.0" cy="147.5" r="3.00"/><circle cx="359.3" cy="147.0" r="3.00"/><circle cx="359.7" cy="148.2" r="3.00"/><circle cx="360.0" cy="146.5" r="3.00"/><circle cx="360.3" cy="146.8" r="3.00"/><circle cx="360.7" cy="148.7" r="3.00"/><circle cx="361.0" cy="149.7" r="3.00"/><circle cx="361.4" cy="147.5" r="3.00"/><circle cx="361.7" cy="149.4" r="3.00"/><circle cx="362.0" cy="149.2" r="3.00"/><circle cx="362.4" cy="148.5" r="3.00"/><circle cx="362.7" cy="147.3" r="3.00"/><circle cx="363.1" cy="149.7" r="3.00"/><circle cx="363.4" cy="149.3" r="3.00"/><circle cx="363.7" cy="148.9" r="3.00"/><circle cx="364.1" cy="148.9" r="3.00"/><circle cx="364.4" cy="150.5" r="3.00"/><circle cx="364.7" cy="149.4" r="3.00"/><circle cx="365.1" cy="149.7" r="3.00"/><circle cx="365.4" cy="149.5" r="3.00"/><circle cx="365.8" cy="151.4" r="3.00"/><circle cx="366.1" cy="151.5" r="3.00"/><circle cx="366.4" cy="148.9" r="3.00"/><circle cx="366.8" cy="149.5" r="3.00"/><circle cx="367.1" cy="149.7" r="3.00"/><circle cx="367.5" cy="149.5" r="3.00"/><circle cx="367.8" cy="149.5" r="3.00"/><circle cx="368.1" cy="151.5" r="3.00"/><circle cx="368.5" cy="150.4" r="3.00"/><circle cx="368.8" cy="150.9" r="3.00"/><circle cx="369.2" cy="151.3" r="3.00"/><circle cx="369.5" cy="151.1" r="3.00"/><circle cx="369.8" cy="152.4" r="3.00"/><circle cx="370.2" cy="150.8" r="3.00"/><circle cx="370.5" cy="152.4" r="3.00"/><circle cx="370.9" cy="153.4" r="3.00"/><circle cx="371.2" cy="153.9" r="3.00"/><circle cx="371.5" cy="152.1" r="3.00"/><circle cx="371.9" cy="153.5" r="3.00"/><circle cx="372.2" cy="151.3" r="3.00"/><circle cx="372.5" cy="153.9" r="3.00"/><circle cx="372.9" cy="153.6" r="3.00"/><circle cx="373.2" cy="151.6" r="3.00"/><circle cx="373.6" cy="153.3" r="3.00"/><circle cx="373.9" cy="152.1" r="3.00"/><circle cx="374.2" cy="152.7" r="3.00"/><circle cx="374.6" cy="155.0" r="3.00"/><circle cx="374.9" cy="154.8" r="3.00"/><circle cx="375.3" cy="154.4" r="3.00"/><circle cx="375.6" cy="152.9" r="3.00"/><circle cx="375.9" cy="154.8" r="3.00"/><circle cx="376.3" cy="154.5" r="3.00"/><circle cx="376.6" cy="154.6" r="3.00"/><circle cx="377.0" cy="155.2" r="3.00"/><circle cx="377.3" cy="153.9" r="3.00"/><circle cx="377.6" cy="156.4" r="3.00"/><circle cx="378.0" cy="156.0" r="3.00"/><circle cx="378.3" cy="154.2" r="3.00"/><circle cx="378.7" cy="155.0" r="3.00"/><circle cx="379.0" cy="155.4" r="3.00"/><circle cx="379.3" cy="156.0" r="3.00"/><circle cx="379.7" cy="156.9" r="3.00"/><circle cx="380.0" cy="156.0" r="3.00"/><circle cx="380.4" cy="154.4" r="3.00"/><circle cx="380.7" cy="155.8" r="3.00"/><circle cx="381.0" cy="156.0" r="3.00"/><circle cx="381.4" cy="154.8" r="3.00"/><circle cx="381.7" cy="155.3" r="3.00"/><circle cx="382.0" cy="155.0" r="3.00"/><circle cx="382.4" cy="155.3" r="3.00"/><circle cx="382.7" cy="156.4" r="3.00"/><circle cx="383.1" cy="157.7" r="3.00"/><circle cx="383.4" cy="156.7" r="3.00"/><circle cx="383.7" cy="157.8" r="3.00"/><circle cx="384.1" cy="156.4" r="3.00"/></g><g fill="#dc2920"><circle cx="265.0" cy="86.9" r="3.00"/><circle cx="300.0" cy="113.1" r="3.00"/><circle cx="323.7" cy="121.3" r="3.00"/><circle cx="358.8" cy="136.8" r="3.00"/><circle cx="382.5" cy="144.4" r="3.00"/></g></g>
<g clip-path="url(#cp02)"><g fill="#231f20"><circle cx="425.6" cy="64.1" r="3.00"/><circle cx="426.0" cy="67.8" r="3.00"/><circle cx="426.3" cy="69.1" r="3.00"/><circle cx="426.7" cy="71.1" r="3.00"/><circle cx="427.0" cy="72.1" r="3.00"/><circle cx="427.3" cy="74.0" r="3.00"/><circle cx="427.7" cy="74.8" r="3.00"/><circle cx="428.0" cy="74.6" r="3.00"/><circle cx="428.3" cy="76.1" r="3.00"/><circle cx="428.7" cy="77.5" r="3.00"/><circle cx="429.0" cy="78.2" r="3.00"/><circle cx="429.4" cy="78.5" r="3.00"/><circle cx="429.7" cy="79.3" r="3.00"/><circle cx="430.0" cy="80.1" r="3.00"/><circle cx="430.4" cy="82.0" r="3.00"/><circle cx="430.7" cy="82.9" r="3.00"/><circle cx="431.1" cy="82.8" r="3.00"/><circle cx="431.4" cy="83.9" r="3.00"/><circle cx="431.7" cy="84.5" r="3.00"/><circle cx="432.1" cy="86.1" r="3.00"/><circle cx="432.4" cy="86.6" r="3.00"/><circle cx="432.8" cy="86.2" r="3.00"/><circle cx="433.1" cy="87.9" r="3.00"/><circle cx="433.4" cy="87.6" r="3.00"/><circle cx="433.8" cy="90.1" r="3.00"/><circle cx="434.1" cy="88.3" r="3.00"/><circle cx="434.5" cy="91.0" r="3.00"/><circle cx="434.8" cy="90.9" r="3.00"/><circle cx="435.1" cy="90.2" r="3.00"/><circle cx="435.5" cy="92.8" r="3.00"/><circle cx="435.8" cy="93.5" r="3.00"/><circle cx="436.2" cy="91.8" r="3.00"/><circle cx="436.5" cy="92.6" r="3.00"/><circle cx="436.8" cy="94.3" r="3.00"/><circle cx="437.2" cy="96.4" r="3.00"/><circle cx="437.5" cy="95.2" r="3.00"/><circle cx="437.8" cy="96.9" r="3.00"/><circle cx="438.2" cy="97.5" r="3.00"/><circle cx="438.5" cy="95.6" r="3.00"/><circle cx="438.9" cy="97.2" r="3.00"/><circle cx="439.2" cy="98.3" r="3.00"/><circle cx="439.5" cy="100.2" r="3.00"/><circle cx="439.9" cy="99.6" r="3.00"/><circle cx="440.2" cy="98.2" r="3.00"/><circle cx="440.6" cy="100.8" r="3.00"/><circle cx="440.9" cy="101.2" r="3.00"/><circle cx="441.2" cy="100.6" r="3.00"/><circle cx="441.6" cy="102.4" r="3.00"/><circle cx="441.9" cy="101.7" r="3.00"/><circle cx="442.3" cy="101.3" r="3.00"/><circle cx="442.6" cy="103.7" r="3.00"/><circle cx="442.9" cy="103.3" r="3.00"/><circle cx="443.3" cy="103.3" r="3.00"/><circle cx="443.6" cy="104.7" r="3.00"/><circle cx="444.0" cy="105.7" r="3.00"/><circle cx="444.3" cy="106.6" r="3.00"/><circle cx="444.6" cy="105.1" r="3.00"/><circle cx="445.0" cy="103.9" r="3.00"/><circle cx="445.3" cy="108.2" r="3.00"/><circle cx="445.6" cy="105.0" r="3.00"/><circle cx="446.0" cy="105.0" r="3.00"/><circle cx="446.3" cy="107.2" r="3.00"/><circle cx="446.7" cy="105.7" r="3.00"/><circle cx="447.0" cy="107.3" r="3.00"/><circle cx="447.3" cy="108.3" r="3.00"/><circle cx="447.7" cy="109.1" r="3.00"/><circle cx="448.0" cy="109.4" r="3.00"/><circle cx="448.4" cy="108.9" r="3.00"/><circle cx="448.7" cy="111.2" r="3.00"/><circle cx="449.0" cy="109.5" r="3.00"/><circle cx="449.4" cy="110.8" r="3.00"/><circle cx="449.7" cy="110.4" r="3.00"/><circle cx="450.1" cy="109.6" r="3.00"/><circle cx="450.4" cy="113.0" r="3.00"/><circle cx="450.7" cy="112.6" r="3.00"/><circle cx="451.1" cy="113.5" r="3.00"/><circle cx="451.4" cy="114.9" r="3.00"/><circle cx="451.8" cy="112.8" r="3.00"/><circle cx="452.1" cy="113.1" r="3.00"/><circle cx="452.4" cy="111.8" r="3.00"/><circle cx="452.8" cy="113.9" r="3.00"/><circle cx="453.1" cy="115.1" r="3.00"/><circle cx="453.4" cy="113.2" r="3.00"/><circle cx="453.8" cy="117.4" r="3.00"/><circle cx="454.1" cy="116.5" r="3.00"/><circle cx="454.5" cy="114.9" r="3.00"/><circle cx="454.8" cy="117.7" r="3.00"/><circle cx="455.1" cy="117.2" r="3.00"/><circle cx="455.5" cy="115.4" r="3.00"/><circle cx="455.8" cy="117.9" r="3.00"/><circle cx="456.2" cy="118.6" r="3.00"/><circle cx="456.5" cy="116.1" r="3.00"/><circle cx="456.8" cy="119.9" r="3.00"/><circle cx="457.2" cy="116.8" r="3.00"/><circle cx="457.5" cy="119.5" r="3.00"/><circle cx="457.9" cy="120.2" r="3.00"/><circle cx="458.2" cy="119.3" r="3.00"/><circle cx="458.5" cy="119.6" r="3.00"/><circle cx="458.9" cy="117.8" r="3.00"/><circle cx="459.2" cy="119.0" r="3.00"/><circle cx="459.6" cy="120.5" r="3.00"/><circle cx="459.9" cy="120.3" r="3.00"/><circle cx="460.2" cy="121.6" r="3.00"/><circle cx="460.6" cy="119.0" r="3.00"/><circle cx="460.9" cy="121.8" r="3.00"/><circle cx="461.3" cy="119.9" r="3.00"/><circle cx="461.6" cy="121.2" r="3.00"/><circle cx="461.9" cy="120.3" r="3.00"/><circle cx="462.3" cy="123.0" r="3.00"/><circle cx="462.6" cy="122.9" r="3.00"/><circle cx="462.9" cy="123.4" r="3.00"/><circle cx="463.3" cy="121.6" r="3.00"/><circle cx="463.6" cy="121.3" r="3.00"/><circle cx="464.0" cy="122.1" r="3.00"/><circle cx="464.3" cy="123.9" r="3.00"/><circle cx="464.6" cy="122.5" r="3.00"/><circle cx="465.0" cy="123.2" r="3.00"/><circle cx="465.3" cy="124.3" r="3.00"/><circle cx="465.7" cy="126.0" r="3.00"/><circle cx="466.0" cy="125.9" r="3.00"/><circle cx="466.3" cy="124.2" r="3.00"/><circle cx="466.7" cy="126.5" r="3.00"/><circle cx="467.0" cy="125.2" r="3.00"/><circle cx="467.4" cy="124.4" r="3.00"/><circle cx="467.7" cy="125.2" r="3.00"/><circle cx="468.0" cy="125.6" r="3.00"/><circle cx="468.4" cy="127.3" r="3.00"/><circle cx="468.7" cy="128.1" r="3.00"/><circle cx="469.1" cy="128.7" r="3.00"/><circle cx="469.4" cy="128.9" r="3.00"/><circle cx="469.7" cy="128.3" r="3.00"/><circle cx="470.1" cy="127.1" r="3.00"/><circle cx="470.4" cy="127.8" r="3.00"/><circle cx="470.7" cy="129.0" r="3.00"/><circle cx="471.1" cy="128.8" r="3.00"/><circle cx="471.4" cy="128.3" r="3.00"/><circle cx="471.8" cy="127.0" r="3.00"/><circle cx="472.1" cy="127.8" r="3.00"/><circle cx="472.4" cy="130.7" r="3.00"/><circle cx="472.8" cy="129.0" r="3.00"/><circle cx="473.1" cy="130.5" r="3.00"/><circle cx="473.5" cy="127.8" r="3.00"/><circle cx="473.8" cy="127.8" r="3.00"/><circle cx="474.1" cy="129.5" r="3.00"/><circle cx="474.5" cy="128.9" r="3.00"/><circle cx="474.8" cy="129.3" r="3.00"/><circle cx="475.2" cy="128.9" r="3.00"/><circle cx="475.5" cy="131.4" r="3.00"/><circle cx="475.8" cy="131.8" r="3.00"/><circle cx="476.2" cy="129.8" r="3.00"/><circle cx="476.5" cy="129.1" r="3.00"/><circle cx="476.9" cy="132.4" r="3.00"/><circle cx="477.2" cy="131.2" r="3.00"/><circle cx="477.5" cy="131.5" r="3.00"/><circle cx="477.9" cy="132.4" r="3.00"/><circle cx="478.2" cy="131.0" r="3.00"/><circle cx="478.6" cy="133.8" r="3.00"/><circle cx="478.9" cy="133.0" r="3.00"/><circle cx="479.2" cy="132.9" r="3.00"/><circle cx="479.6" cy="130.9" r="3.00"/><circle cx="479.9" cy="132.3" r="3.00"/><circle cx="480.2" cy="132.3" r="3.00"/><circle cx="480.6" cy="131.3" r="3.00"/><circle cx="480.9" cy="134.8" r="3.00"/><circle cx="481.3" cy="133.4" r="3.00"/><circle cx="481.6" cy="135.7" r="3.00"/><circle cx="481.9" cy="135.7" r="3.00"/><circle cx="482.3" cy="133.6" r="3.00"/><circle cx="482.6" cy="133.2" r="3.00"/><circle cx="483.0" cy="134.3" r="3.00"/><circle cx="483.3" cy="134.7" r="3.00"/><circle cx="483.6" cy="134.0" r="3.00"/><circle cx="484.0" cy="133.5" r="3.00"/><circle cx="484.3" cy="133.8" r="3.00"/><circle cx="484.7" cy="134.5" r="3.00"/><circle cx="485.0" cy="136.4" r="3.00"/><circle cx="485.3" cy="135.1" r="3.00"/><circle cx="485.7" cy="137.6" r="3.00"/><circle cx="486.0" cy="135.0" r="3.00"/><circle cx="486.4" cy="137.8" r="3.00"/><circle cx="486.7" cy="135.0" r="3.00"/><circle cx="487.0" cy="138.2" r="3.00"/><circle cx="487.4" cy="138.5" r="3.00"/><circle cx="487.7" cy="138.4" r="3.00"/><circle cx="488.0" cy="138.0" r="3.00"/><circle cx="488.4" cy="139.4" r="3.00"/><circle cx="488.7" cy="139.4" r="3.00"/><circle cx="489.1" cy="136.9" r="3.00"/><circle cx="489.4" cy="136.9" r="3.00"/><circle cx="489.7" cy="140.5" r="3.00"/><circle cx="490.1" cy="139.4" r="3.00"/><circle cx="490.4" cy="139.7" r="3.00"/><circle cx="490.8" cy="138.2" r="3.00"/><circle cx="491.1" cy="139.1" r="3.00"/><circle cx="491.4" cy="140.4" r="3.00"/><circle cx="491.8" cy="139.0" r="3.00"/><circle cx="492.1" cy="140.0" r="3.00"/><circle cx="492.5" cy="141.9" r="3.00"/><circle cx="492.8" cy="139.6" r="3.00"/><circle cx="493.1" cy="141.2" r="3.00"/><circle cx="493.5" cy="139.6" r="3.00"/><circle cx="493.8" cy="140.8" r="3.00"/><circle cx="494.2" cy="143.2" r="3.00"/><circle cx="494.5" cy="140.8" r="3.00"/><circle cx="494.8" cy="141.8" r="3.00"/><circle cx="495.2" cy="142.1" r="3.00"/><circle cx="495.5" cy="142.9" r="3.00"/><circle cx="495.8" cy="142.0" r="3.00"/><circle cx="496.2" cy="144.8" r="3.00"/><circle cx="496.5" cy="143.1" r="3.00"/><circle cx="496.9" cy="141.5" r="3.00"/><circle cx="497.2" cy="144.8" r="3.00"/><circle cx="497.5" cy="145.3" r="3.00"/><circle cx="497.9" cy="144.4" r="3.00"/><circle cx="498.2" cy="144.1" r="3.00"/><circle cx="498.6" cy="144.9" r="3.00"/><circle cx="498.9" cy="144.7" r="3.00"/><circle cx="499.2" cy="144.0" r="3.00"/><circle cx="499.6" cy="143.7" r="3.00"/><circle cx="499.9" cy="147.1" r="3.00"/><circle cx="500.3" cy="145.9" r="3.00"/><circle cx="500.6" cy="145.1" r="3.00"/><circle cx="500.9" cy="147.9" r="3.00"/><circle cx="501.3" cy="144.1" r="3.00"/><circle cx="501.6" cy="145.6" r="3.00"/><circle cx="502.0" cy="146.5" r="3.00"/><circle cx="502.3" cy="146.8" r="3.00"/><circle cx="502.6" cy="148.3" r="3.00"/><circle cx="503.0" cy="148.9" r="3.00"/><circle cx="503.3" cy="146.5" r="3.00"/><circle cx="503.7" cy="145.6" r="3.00"/><circle cx="504.0" cy="146.4" r="3.00"/><circle cx="504.3" cy="149.9" r="3.00"/><circle cx="504.7" cy="150.0" r="3.00"/><circle cx="505.0" cy="148.2" r="3.00"/><circle cx="505.3" cy="148.1" r="3.00"/><circle cx="505.7" cy="148.2" r="3.00"/><circle cx="506.0" cy="147.2" r="3.00"/><circle cx="506.4" cy="147.4" r="3.00"/><circle cx="506.7" cy="147.2" r="3.00"/><circle cx="507.0" cy="150.2" r="3.00"/><circle cx="507.4" cy="149.8" r="3.00"/><circle cx="507.7" cy="147.8" r="3.00"/><circle cx="508.1" cy="149.2" r="3.00"/><circle cx="508.4" cy="152.2" r="3.00"/><circle cx="508.7" cy="148.8" r="3.00"/><circle cx="509.1" cy="150.2" r="3.00"/><circle cx="509.4" cy="152.3" r="3.00"/><circle cx="509.8" cy="151.8" r="3.00"/><circle cx="510.1" cy="151.0" r="3.00"/><circle cx="510.4" cy="150.9" r="3.00"/><circle cx="510.8" cy="152.2" r="3.00"/><circle cx="511.1" cy="151.0" r="3.00"/><circle cx="511.5" cy="152.1" r="3.00"/><circle cx="511.8" cy="150.4" r="3.00"/><circle cx="512.1" cy="151.2" r="3.00"/><circle cx="512.5" cy="154.4" r="3.00"/><circle cx="512.8" cy="154.8" r="3.00"/><circle cx="513.1" cy="151.8" r="3.00"/><circle cx="513.5" cy="153.1" r="3.00"/><circle cx="513.8" cy="151.7" r="3.00"/><circle cx="514.2" cy="154.3" r="3.00"/><circle cx="514.5" cy="155.6" r="3.00"/><circle cx="514.8" cy="156.4" r="3.00"/><circle cx="515.2" cy="153.5" r="3.00"/><circle cx="515.5" cy="156.7" r="3.00"/><circle cx="515.9" cy="154.5" r="3.00"/><circle cx="516.2" cy="155.1" r="3.00"/><circle cx="516.5" cy="154.5" r="3.00"/><circle cx="516.9" cy="153.9" r="3.00"/><circle cx="517.2" cy="157.1" r="3.00"/><circle cx="517.6" cy="156.3" r="3.00"/><circle cx="517.9" cy="155.4" r="3.00"/><circle cx="518.2" cy="158.0" r="3.00"/><circle cx="518.6" cy="158.7" r="3.00"/><circle cx="518.9" cy="158.7" r="3.00"/><circle cx="519.3" cy="155.5" r="3.00"/><circle cx="519.6" cy="156.4" r="3.00"/><circle cx="519.9" cy="159.1" r="3.00"/><circle cx="520.3" cy="160.2" r="3.00"/><circle cx="520.6" cy="157.7" r="3.00"/><circle cx="521.0" cy="159.3" r="3.00"/><circle cx="521.3" cy="160.0" r="3.00"/><circle cx="521.6" cy="160.3" r="3.00"/><circle cx="522.0" cy="159.4" r="3.00"/><circle cx="522.3" cy="160.2" r="3.00"/><circle cx="522.6" cy="157.9" r="3.00"/><circle cx="523.0" cy="159.7" r="3.00"/><circle cx="523.3" cy="158.5" r="3.00"/><circle cx="523.7" cy="158.6" r="3.00"/><circle cx="524.0" cy="159.0" r="3.00"/><circle cx="524.3" cy="161.0" r="3.00"/><circle cx="524.7" cy="160.8" r="3.00"/><circle cx="525.0" cy="161.3" r="3.00"/><circle cx="525.4" cy="163.8" r="3.00"/><circle cx="525.7" cy="160.0" r="3.00"/><circle cx="526.0" cy="163.7" r="3.00"/><circle cx="526.4" cy="162.2" r="3.00"/><circle cx="526.7" cy="161.9" r="3.00"/><circle cx="527.1" cy="161.7" r="3.00"/><circle cx="527.4" cy="163.0" r="3.00"/><circle cx="527.7" cy="162.8" r="3.00"/><circle cx="528.1" cy="162.3" r="3.00"/><circle cx="528.4" cy="163.3" r="3.00"/><circle cx="528.8" cy="163.5" r="3.00"/><circle cx="529.1" cy="162.9" r="3.00"/><circle cx="529.4" cy="166.5" r="3.00"/><circle cx="529.8" cy="164.9" r="3.00"/><circle cx="530.1" cy="167.3" r="3.00"/><circle cx="530.4" cy="167.0" r="3.00"/><circle cx="530.8" cy="167.8" r="3.00"/><circle cx="531.1" cy="164.4" r="3.00"/><circle cx="531.5" cy="167.0" r="3.00"/><circle cx="531.8" cy="166.4" r="3.00"/><circle cx="532.1" cy="165.6" r="3.00"/><circle cx="532.5" cy="166.2" r="3.00"/><circle cx="532.8" cy="165.5" r="3.00"/><circle cx="533.2" cy="167.6" r="3.00"/><circle cx="533.5" cy="167.0" r="3.00"/><circle cx="533.8" cy="166.6" r="3.00"/><circle cx="534.2" cy="170.1" r="3.00"/><circle cx="534.5" cy="168.8" r="3.00"/><circle cx="534.9" cy="170.7" r="3.00"/><circle cx="535.2" cy="169.0" r="3.00"/><circle cx="535.5" cy="170.3" r="3.00"/><circle cx="535.9" cy="168.3" r="3.00"/><circle cx="536.2" cy="170.2" r="3.00"/><circle cx="536.6" cy="171.8" r="3.00"/><circle cx="536.9" cy="169.0" r="3.00"/><circle cx="537.2" cy="171.2" r="3.00"/><circle cx="537.6" cy="173.2" r="3.00"/><circle cx="537.9" cy="172.4" r="3.00"/><circle cx="538.2" cy="172.2" r="3.00"/><circle cx="538.6" cy="174.0" r="3.00"/><circle cx="538.9" cy="173.8" r="3.00"/><circle cx="539.3" cy="173.4" r="3.00"/><circle cx="539.6" cy="173.5" r="3.00"/><circle cx="539.9" cy="173.3" r="3.00"/><circle cx="540.3" cy="174.2" r="3.00"/><circle cx="540.6" cy="174.4" r="3.00"/><circle cx="541.0" cy="174.1" r="3.00"/><circle cx="541.3" cy="174.8" r="3.00"/><circle cx="541.6" cy="173.4" r="3.00"/><circle cx="542.0" cy="173.5" r="3.00"/><circle cx="542.3" cy="177.1" r="3.00"/><circle cx="542.7" cy="176.8" r="3.00"/><circle cx="543.0" cy="177.3" r="3.00"/><circle cx="543.3" cy="176.5" r="3.00"/><circle cx="543.7" cy="176.8" r="3.00"/><circle cx="544.0" cy="175.4" r="3.00"/><circle cx="544.4" cy="175.7" r="3.00"/><circle cx="544.7" cy="175.3" r="3.00"/><circle cx="545.0" cy="176.5" r="3.00"/><circle cx="545.4" cy="177.1" r="3.00"/><circle cx="545.7" cy="175.7" r="3.00"/><circle cx="546.1" cy="177.5" r="3.00"/><circle cx="546.4" cy="178.9" r="3.00"/><circle cx="546.7" cy="179.5" r="3.00"/><circle cx="547.1" cy="180.9" r="3.00"/><circle cx="547.4" cy="177.3" r="3.00"/><circle cx="547.7" cy="178.4" r="3.00"/><circle cx="548.1" cy="180.3" r="3.00"/><circle cx="548.4" cy="178.4" r="3.00"/><circle cx="548.8" cy="179.2" r="3.00"/><circle cx="549.1" cy="180.8" r="3.00"/><circle cx="549.4" cy="178.9" r="3.00"/><circle cx="549.8" cy="179.5" r="3.00"/><circle cx="550.1" cy="181.7" r="3.00"/><circle cx="550.5" cy="182.0" r="3.00"/><circle cx="550.8" cy="183.5" r="3.00"/><circle cx="551.1" cy="184.0" r="3.00"/><circle cx="551.5" cy="183.1" r="3.00"/><circle cx="551.8" cy="184.0" r="3.00"/><circle cx="552.2" cy="184.9" r="3.00"/><circle cx="552.5" cy="182.3" r="3.00"/><circle cx="552.8" cy="181.6" r="3.00"/><circle cx="553.2" cy="183.1" r="3.00"/><circle cx="553.5" cy="182.4" r="3.00"/><circle cx="553.9" cy="182.9" r="3.00"/><circle cx="554.2" cy="184.1" r="3.00"/><circle cx="554.5" cy="184.9" r="3.00"/><circle cx="554.9" cy="185.9" r="3.00"/><circle cx="555.2" cy="185.5" r="3.00"/><circle cx="555.5" cy="186.6" r="3.00"/><circle cx="555.9" cy="187.5" r="3.00"/><circle cx="556.2" cy="186.4" r="3.00"/><circle cx="556.6" cy="185.9" r="3.00"/><circle cx="556.9" cy="186.5" r="3.00"/><circle cx="557.2" cy="186.1" r="3.00"/><circle cx="557.6" cy="188.1" r="3.00"/><circle cx="557.9" cy="189.8" r="3.00"/><circle cx="558.3" cy="189.2" r="3.00"/><circle cx="558.6" cy="189.1" r="3.00"/><circle cx="558.9" cy="188.2" r="3.00"/><circle cx="559.3" cy="189.2" r="3.00"/><circle cx="559.6" cy="188.3" r="3.00"/><circle cx="560.0" cy="190.4" r="3.00"/><circle cx="560.3" cy="189.7" r="3.00"/><circle cx="560.6" cy="191.9" r="3.00"/><circle cx="561.0" cy="189.2" r="3.00"/><circle cx="561.3" cy="188.7" r="3.00"/><circle cx="561.7" cy="189.0" r="3.00"/><circle cx="562.0" cy="189.2" r="3.00"/><circle cx="562.3" cy="192.4" r="3.00"/><circle cx="562.7" cy="189.3" r="3.00"/><circle cx="563.0" cy="191.4" r="3.00"/><circle cx="563.4" cy="193.2" r="3.00"/><circle cx="563.7" cy="193.9" r="3.00"/><circle cx="564.0" cy="194.2" r="3.00"/><circle cx="564.4" cy="192.1" r="3.00"/><circle cx="564.7" cy="192.3" r="3.00"/><circle cx="565.0" cy="191.9" r="3.00"/><circle cx="565.4" cy="192.7" r="3.00"/><circle cx="565.7" cy="193.6" r="3.00"/><circle cx="566.1" cy="195.4" r="3.00"/><circle cx="566.4" cy="193.2" r="3.00"/><circle cx="566.7" cy="196.6" r="3.00"/><circle cx="567.1" cy="194.0" r="3.00"/><circle cx="567.4" cy="196.4" r="3.00"/><circle cx="567.8" cy="196.7" r="3.00"/><circle cx="568.1" cy="193.7" r="3.00"/><circle cx="568.4" cy="193.9" r="3.00"/><circle cx="568.8" cy="195.0" r="3.00"/><circle cx="569.1" cy="197.4" r="3.00"/><circle cx="569.5" cy="196.6" r="3.00"/><circle cx="569.8" cy="197.4" r="3.00"/><circle cx="570.1" cy="198.6" r="3.00"/><circle cx="570.5" cy="198.3" r="3.00"/><circle cx="570.8" cy="199.4" r="3.00"/><circle cx="571.2" cy="195.7" r="3.00"/><circle cx="571.5" cy="199.1" r="3.00"/><circle cx="571.8" cy="198.7" r="3.00"/><circle cx="572.2" cy="199.5" r="3.00"/><circle cx="572.5" cy="198.1" r="3.00"/><circle cx="572.8" cy="198.7" r="3.00"/><circle cx="573.2" cy="198.1" r="3.00"/><circle cx="573.5" cy="201.5" r="3.00"/></g><g fill="#231f20"><circle cx="448.0" cy="96.9" r="3.00"/><circle cx="541.9" cy="167.5" r="3.00"/><circle cx="565.0" cy="181.3" r="3.00"/></g><g fill="#dc2920"><circle cx="425.6" cy="63.9" r="3.00"/><circle cx="426.0" cy="67.7" r="3.00"/><circle cx="426.3" cy="69.5" r="3.00"/><circle cx="426.7" cy="70.6" r="3.00"/><circle cx="427.0" cy="72.6" r="3.00"/><circle cx="427.3" cy="73.4" r="3.00"/><circle cx="427.7" cy="74.3" r="3.00"/><circle cx="428.0" cy="75.1" r="3.00"/><circle cx="428.3" cy="76.2" r="3.00"/><circle cx="428.7" cy="76.5" r="3.00"/><circle cx="429.0" cy="78.1" r="3.00"/><circle cx="429.4" cy="79.0" r="3.00"/><circle cx="429.7" cy="79.3" r="3.00"/><circle cx="430.0" cy="80.4" r="3.00"/><circle cx="430.4" cy="80.6" r="3.00"/><circle cx="430.7" cy="81.0" r="3.00"/><circle cx="431.1" cy="82.5" r="3.00"/><circle cx="431.4" cy="82.5" r="3.00"/><circle cx="431.7" cy="83.0" r="3.00"/><circle cx="432.1" cy="83.6" r="3.00"/><circle cx="432.4" cy="85.1" r="3.00"/><circle cx="432.8" cy="84.4" r="3.00"/><circle cx="433.1" cy="85.0" r="3.00"/><circle cx="433.4" cy="86.4" r="3.00"/><circle cx="433.8" cy="86.6" r="3.00"/><circle cx="434.1" cy="86.6" r="3.00"/><circle cx="434.5" cy="87.0" r="3.00"/><circle cx="434.8" cy="88.6" r="3.00"/><circle cx="435.1" cy="88.1" r="3.00"/><circle cx="435.5" cy="89.3" r="3.00"/><circle cx="435.8" cy="88.7" r="3.00"/><circle cx="436.2" cy="89.3" r="3.00"/><circle cx="436.5" cy="90.9" r="3.00"/><circle cx="436.8" cy="91.3" r="3.00"/><circle cx="437.2" cy="91.5" r="3.00"/><circle cx="437.5" cy="90.9" r="3.00"/><circle cx="437.8" cy="93.2" r="3.00"/><circle cx="438.2" cy="92.7" r="3.00"/><circle cx="438.5" cy="92.9" r="3.00"/><circle cx="438.9" cy="93.1" r="3.00"/><circle cx="439.2" cy="95.1" r="3.00"/><circle cx="439.5" cy="94.2" r="3.00"/><circle cx="439.9" cy="95.0" r="3.00"/><circle cx="440.2" cy="95.7" r="3.00"/><circle cx="440.6" cy="94.4" r="3.00"/><circle cx="440.9" cy="97.1" r="3.00"/><circle cx="441.2" cy="95.8" r="3.00"/><circle cx="441.6" cy="97.5" r="3.00"/><circle cx="441.9" cy="95.8" r="3.00"/><circle cx="442.3" cy="97.4" r="3.00"/><circle cx="442.6" cy="97.9" r="3.00"/><circle cx="442.9" cy="98.9" r="3.00"/><circle cx="443.3" cy="98.4" r="3.00"/><circle cx="443.6" cy="97.7" r="3.00"/><circle cx="444.0" cy="100.4" r="3.00"/><circle cx="444.3" cy="99.0" r="3.00"/><circle cx="444.6" cy="100.8" r="3.00"/><circle cx="445.0" cy="100.9" r="3.00"/><circle cx="445.3" cy="99.3" r="3.00"/><circle cx="445.6" cy="102.0" r="3.00"/><circle cx="446.0" cy="100.3" r="3.00"/><circle cx="446.3" cy="102.6" r="3.00"/><circle cx="446.7" cy="101.5" r="3.00"/><circle cx="447.0" cy="101.5" r="3.00"/><circle cx="447.3" cy="103.2" r="3.00"/><circle cx="447.7" cy="101.5" r="3.00"/><circle cx="448.0" cy="103.6" r="3.00"/><circle cx="448.4" cy="103.1" r="3.00"/><circle cx="448.7" cy="104.1" r="3.00"/><circle cx="449.0" cy="102.7" r="3.00"/><circle cx="449.4" cy="104.6" r="3.00"/><circle cx="449.7" cy="104.8" r="3.00"/><circle cx="450.1" cy="105.8" r="3.00"/><circle cx="450.4" cy="103.4" r="3.00"/><circle cx="450.7" cy="106.3" r="3.00"/><circle cx="451.1" cy="105.7" r="3.00"/><circle cx="451.4" cy="104.9" r="3.00"/><circle cx="451.8" cy="106.1" r="3.00"/><circle cx="452.1" cy="105.6" r="3.00"/><circle cx="452.4" cy="106.5" r="3.00"/><circle cx="452.8" cy="105.2" r="3.00"/><circle cx="453.1" cy="107.7" r="3.00"/><circle cx="453.4" cy="108.3" r="3.00"/><circle cx="453.8" cy="108.3" r="3.00"/><circle cx="454.1" cy="107.3" r="3.00"/><circle cx="454.5" cy="107.3" r="3.00"/><circle cx="454.8" cy="106.8" r="3.00"/><circle cx="455.1" cy="106.7" r="3.00"/><circle cx="455.5" cy="108.6" r="3.00"/><circle cx="455.8" cy="107.5" r="3.00"/><circle cx="456.2" cy="109.0" r="3.00"/><circle cx="456.5" cy="109.4" r="3.00"/><circle cx="456.8" cy="110.3" r="3.00"/><circle cx="457.2" cy="108.3" r="3.00"/><circle cx="457.5" cy="110.2" r="3.00"/><circle cx="457.9" cy="109.4" r="3.00"/><circle cx="458.2" cy="110.0" r="3.00"/><circle cx="458.5" cy="108.8" r="3.00"/><circle cx="458.9" cy="111.3" r="3.00"/><circle cx="459.2" cy="110.6" r="3.00"/><circle cx="459.6" cy="110.1" r="3.00"/><circle cx="459.9" cy="112.1" r="3.00"/><circle cx="460.2" cy="110.4" r="3.00"/><circle cx="460.6" cy="111.4" r="3.00"/><circle cx="460.9" cy="113.0" r="3.00"/><circle cx="461.3" cy="110.6" r="3.00"/><circle cx="461.6" cy="112.5" r="3.00"/><circle cx="461.9" cy="112.5" r="3.00"/><circle cx="462.3" cy="111.8" r="3.00"/><circle cx="462.6" cy="111.5" r="3.00"/><circle cx="462.9" cy="113.9" r="3.00"/><circle cx="463.3" cy="114.4" r="3.00"/><circle cx="463.6" cy="112.8" r="3.00"/><circle cx="464.0" cy="113.2" r="3.00"/><circle cx="464.3" cy="114.1" r="3.00"/><circle cx="464.6" cy="113.7" r="3.00"/><circle cx="465.0" cy="113.0" r="3.00"/><circle cx="465.3" cy="113.5" r="3.00"/><circle cx="465.7" cy="114.5" r="3.00"/><circle cx="466.0" cy="113.7" r="3.00"/><circle cx="466.3" cy="113.9" r="3.00"/><circle cx="466.7" cy="114.5" r="3.00"/><circle cx="467.0" cy="116.7" r="3.00"/><circle cx="467.4" cy="115.6" r="3.00"/><circle cx="467.7" cy="115.6" r="3.00"/><circle cx="468.0" cy="115.0" r="3.00"/><circle cx="468.4" cy="116.3" r="3.00"/><circle cx="468.7" cy="116.2" r="3.00"/><circle cx="469.1" cy="116.1" r="3.00"/><circle cx="469.4" cy="118.2" r="3.00"/><circle cx="469.7" cy="118.5" r="3.00"/><circle cx="470.1" cy="118.8" r="3.00"/><circle cx="470.4" cy="118.8" r="3.00"/><circle cx="470.7" cy="118.5" r="3.00"/><circle cx="471.1" cy="119.4" r="3.00"/><circle cx="471.4" cy="117.9" r="3.00"/><circle cx="471.8" cy="118.2" r="3.00"/><circle cx="472.1" cy="118.7" r="3.00"/><circle cx="472.4" cy="120.3" r="3.00"/><circle cx="472.8" cy="118.9" r="3.00"/><circle cx="473.1" cy="120.3" r="3.00"/><circle cx="473.5" cy="120.9" r="3.00"/><circle cx="473.8" cy="118.7" r="3.00"/><circle cx="474.1" cy="118.5" r="3.00"/><circle cx="474.5" cy="121.3" r="3.00"/><circle cx="474.8" cy="119.7" r="3.00"/><circle cx="475.2" cy="121.7" r="3.00"/><circle cx="475.5" cy="120.3" r="3.00"/><circle cx="475.8" cy="120.4" r="3.00"/><circle cx="476.2" cy="120.7" r="3.00"/><circle cx="476.5" cy="119.7" r="3.00"/><circle cx="476.9" cy="121.0" r="3.00"/><circle cx="477.2" cy="122.6" r="3.00"/><circle cx="477.5" cy="120.4" r="3.00"/><circle cx="477.9" cy="122.6" r="3.00"/><circle cx="478.2" cy="122.0" r="3.00"/><circle cx="478.6" cy="122.6" r="3.00"/><circle cx="478.9" cy="121.6" r="3.00"/><circle cx="479.2" cy="124.0" r="3.00"/><circle cx="479.6" cy="123.4" r="3.00"/><circle cx="479.9" cy="123.3" r="3.00"/><circle cx="480.2" cy="123.1" r="3.00"/><circle cx="480.6" cy="122.3" r="3.00"/><circle cx="480.9" cy="124.4" r="3.00"/><circle cx="481.3" cy="124.4" r="3.00"/><circle cx="481.6" cy="123.6" r="3.00"/><circle cx="481.9" cy="125.2" r="3.00"/><circle cx="482.3" cy="124.5" r="3.00"/><circle cx="482.6" cy="125.3" r="3.00"/><circle cx="483.0" cy="124.6" r="3.00"/><circle cx="483.3" cy="124.9" r="3.00"/><circle cx="483.6" cy="124.8" r="3.00"/><circle cx="484.0" cy="125.8" r="3.00"/><circle cx="484.3" cy="126.5" r="3.00"/><circle cx="484.7" cy="127.4" r="3.00"/><circle cx="485.0" cy="125.8" r="3.00"/><circle cx="485.3" cy="127.2" r="3.00"/><circle cx="485.7" cy="128.0" r="3.00"/><circle cx="486.0" cy="127.1" r="3.00"/><circle cx="486.4" cy="127.6" r="3.00"/><circle cx="486.7" cy="126.5" r="3.00"/><circle cx="487.0" cy="127.9" r="3.00"/><circle cx="487.4" cy="127.9" r="3.00"/><circle cx="487.7" cy="127.0" r="3.00"/><circle cx="488.0" cy="127.3" r="3.00"/><circle cx="488.4" cy="129.1" r="3.00"/><circle cx="488.7" cy="128.0" r="3.00"/><circle cx="489.1" cy="127.1" r="3.00"/><circle cx="489.4" cy="127.4" r="3.00"/><circle cx="489.7" cy="127.8" r="3.00"/><circle cx="490.1" cy="129.7" r="3.00"/><circle cx="490.4" cy="127.8" r="3.00"/><circle cx="490.8" cy="130.3" r="3.00"/><circle cx="491.1" cy="129.9" r="3.00"/><circle cx="491.4" cy="130.9" r="3.00"/><circle cx="491.8" cy="129.7" r="3.00"/><circle cx="492.1" cy="129.5" r="3.00"/><circle cx="492.5" cy="129.7" r="3.00"/><circle cx="492.8" cy="132.0" r="3.00"/><circle cx="493.1" cy="129.2" r="3.00"/><circle cx="493.5" cy="131.4" r="3.00"/><circle cx="493.8" cy="130.3" r="3.00"/><circle cx="494.2" cy="129.9" r="3.00"/><circle cx="494.5" cy="130.6" r="3.00"/><circle cx="494.8" cy="131.5" r="3.00"/><circle cx="495.2" cy="131.6" r="3.00"/><circle cx="495.5" cy="133.0" r="3.00"/><circle cx="495.8" cy="132.5" r="3.00"/><circle cx="496.2" cy="131.3" r="3.00"/><circle cx="496.5" cy="131.9" r="3.00"/><circle cx="496.9" cy="132.1" r="3.00"/><circle cx="497.2" cy="132.3" r="3.00"/><circle cx="497.5" cy="133.5" r="3.00"/><circle cx="497.9" cy="131.7" r="3.00"/><circle cx="498.2" cy="133.8" r="3.00"/><circle cx="498.6" cy="134.5" r="3.00"/><circle cx="498.9" cy="133.2" r="3.00"/><circle cx="499.2" cy="134.9" r="3.00"/><circle cx="499.6" cy="132.6" r="3.00"/><circle cx="499.9" cy="134.0" r="3.00"/><circle cx="500.3" cy="135.5" r="3.00"/><circle cx="500.6" cy="136.0" r="3.00"/><circle cx="500.9" cy="134.4" r="3.00"/><circle cx="501.3" cy="136.2" r="3.00"/><circle cx="501.6" cy="136.4" r="3.00"/><circle cx="502.0" cy="135.4" r="3.00"/><circle cx="502.3" cy="135.5" r="3.00"/><circle cx="502.6" cy="134.5" r="3.00"/><circle cx="503.0" cy="136.8" r="3.00"/><circle cx="503.3" cy="134.7" r="3.00"/><circle cx="503.7" cy="136.3" r="3.00"/><circle cx="504.0" cy="135.0" r="3.00"/><circle cx="504.3" cy="137.3" r="3.00"/><circle cx="504.7" cy="137.8" r="3.00"/><circle cx="505.0" cy="136.8" r="3.00"/><circle cx="505.3" cy="137.6" r="3.00"/><circle cx="505.7" cy="137.0" r="3.00"/><circle cx="506.0" cy="136.1" r="3.00"/><circle cx="506.4" cy="136.0" r="3.00"/><circle cx="506.7" cy="138.6" r="3.00"/><circle cx="507.0" cy="138.3" r="3.00"/><circle cx="507.4" cy="138.3" r="3.00"/><circle cx="507.7" cy="138.8" r="3.00"/><circle cx="508.1" cy="138.1" r="3.00"/><circle cx="508.4" cy="139.5" r="3.00"/><circle cx="508.7" cy="139.2" r="3.00"/><circle cx="509.1" cy="139.7" r="3.00"/><circle cx="509.4" cy="138.7" r="3.00"/><circle cx="509.8" cy="137.4" r="3.00"/><circle cx="510.1" cy="139.9" r="3.00"/><circle cx="510.4" cy="137.8" r="3.00"/><circle cx="510.8" cy="139.7" r="3.00"/><circle cx="511.1" cy="138.6" r="3.00"/><circle cx="511.5" cy="138.4" r="3.00"/><circle cx="511.8" cy="139.3" r="3.00"/><circle cx="512.1" cy="139.1" r="3.00"/><circle cx="512.5" cy="139.5" r="3.00"/><circle cx="512.8" cy="138.7" r="3.00"/><circle cx="513.1" cy="139.4" r="3.00"/><circle cx="513.5" cy="140.6" r="3.00"/><circle cx="513.8" cy="141.1" r="3.00"/><circle cx="514.2" cy="141.7" r="3.00"/><circle cx="514.5" cy="140.8" r="3.00"/><circle cx="514.8" cy="141.8" r="3.00"/><circle cx="515.2" cy="141.9" r="3.00"/><circle cx="515.5" cy="140.1" r="3.00"/><circle cx="515.9" cy="140.8" r="3.00"/><circle cx="516.2" cy="141.4" r="3.00"/><circle cx="516.5" cy="140.6" r="3.00"/><circle cx="516.9" cy="141.7" r="3.00"/><circle cx="517.2" cy="142.3" r="3.00"/><circle cx="517.6" cy="141.5" r="3.00"/><circle cx="517.9" cy="141.9" r="3.00"/><circle cx="518.2" cy="143.3" r="3.00"/><circle cx="518.6" cy="143.1" r="3.00"/><circle cx="518.9" cy="142.5" r="3.00"/><circle cx="519.3" cy="143.7" r="3.00"/><circle cx="519.6" cy="141.7" r="3.00"/><circle cx="519.9" cy="144.5" r="3.00"/><circle cx="520.3" cy="142.2" r="3.00"/><circle cx="520.6" cy="142.0" r="3.00"/><circle cx="521.0" cy="143.2" r="3.00"/><circle cx="521.3" cy="144.6" r="3.00"/><circle cx="521.6" cy="143.0" r="3.00"/><circle cx="522.0" cy="144.2" r="3.00"/><circle cx="522.3" cy="143.6" r="3.00"/><circle cx="522.6" cy="144.9" r="3.00"/><circle cx="523.0" cy="145.4" r="3.00"/><circle cx="523.3" cy="143.3" r="3.00"/><circle cx="523.7" cy="146.1" r="3.00"/><circle cx="524.0" cy="146.3" r="3.00"/><circle cx="524.3" cy="144.3" r="3.00"/><circle cx="524.7" cy="144.4" r="3.00"/><circle cx="525.0" cy="146.0" r="3.00"/><circle cx="525.4" cy="146.0" r="3.00"/><circle cx="525.7" cy="145.2" r="3.00"/><circle cx="526.0" cy="145.6" r="3.00"/><circle cx="526.4" cy="145.6" r="3.00"/><circle cx="526.7" cy="146.5" r="3.00"/><circle cx="527.1" cy="145.0" r="3.00"/><circle cx="527.4" cy="147.7" r="3.00"/><circle cx="527.7" cy="146.4" r="3.00"/><circle cx="528.1" cy="147.8" r="3.00"/><circle cx="528.4" cy="147.6" r="3.00"/><circle cx="528.8" cy="147.9" r="3.00"/><circle cx="529.1" cy="146.4" r="3.00"/><circle cx="529.4" cy="147.4" r="3.00"/><circle cx="529.8" cy="148.3" r="3.00"/><circle cx="530.1" cy="147.8" r="3.00"/><circle cx="530.4" cy="148.2" r="3.00"/><circle cx="530.8" cy="148.2" r="3.00"/><circle cx="531.1" cy="149.3" r="3.00"/><circle cx="531.5" cy="149.0" r="3.00"/><circle cx="531.8" cy="148.9" r="3.00"/><circle cx="532.1" cy="150.2" r="3.00"/><circle cx="532.5" cy="150.6" r="3.00"/><circle cx="532.8" cy="149.0" r="3.00"/><circle cx="533.2" cy="150.4" r="3.00"/><circle cx="533.5" cy="148.8" r="3.00"/><circle cx="533.8" cy="151.3" r="3.00"/><circle cx="534.2" cy="150.9" r="3.00"/><circle cx="534.5" cy="149.8" r="3.00"/><circle cx="534.9" cy="151.5" r="3.00"/><circle cx="535.2" cy="150.8" r="3.00"/><circle cx="535.5" cy="151.3" r="3.00"/><circle cx="535.9" cy="151.6" r="3.00"/><circle cx="536.2" cy="151.9" r="3.00"/><circle cx="536.6" cy="149.8" r="3.00"/><circle cx="536.9" cy="152.0" r="3.00"/><circle cx="537.2" cy="152.8" r="3.00"/><circle cx="537.6" cy="150.5" r="3.00"/><circle cx="537.9" cy="153.0" r="3.00"/><circle cx="538.2" cy="151.4" r="3.00"/><circle cx="538.6" cy="151.8" r="3.00"/><circle cx="538.9" cy="151.8" r="3.00"/><circle cx="539.3" cy="151.9" r="3.00"/><circle cx="539.6" cy="153.8" r="3.00"/><circle cx="539.9" cy="154.5" r="3.00"/><circle cx="540.3" cy="153.4" r="3.00"/><circle cx="540.6" cy="153.6" r="3.00"/><circle cx="541.0" cy="154.4" r="3.00"/><circle cx="541.3" cy="152.8" r="3.00"/><circle cx="541.6" cy="155.1" r="3.00"/><circle cx="542.0" cy="154.1" r="3.00"/><circle cx="542.3" cy="154.2" r="3.00"/><circle cx="542.7" cy="156.0" r="3.00"/><circle cx="543.0" cy="153.7" r="3.00"/><circle cx="543.3" cy="155.3" r="3.00"/><circle cx="543.7" cy="155.1" r="3.00"/><circle cx="544.0" cy="156.2" r="3.00"/><circle cx="544.4" cy="155.7" r="3.00"/><circle cx="544.7" cy="155.7" r="3.00"/><circle cx="545.0" cy="155.4" r="3.00"/><circle cx="545.4" cy="157.3" r="3.00"/><circle cx="545.7" cy="156.3" r="3.00"/><circle cx="546.1" cy="156.3" r="3.00"/><circle cx="546.4" cy="155.0" r="3.00"/><circle cx="546.7" cy="156.3" r="3.00"/><circle cx="547.1" cy="156.2" r="3.00"/><circle cx="547.4" cy="157.1" r="3.00"/><circle cx="547.7" cy="157.1" r="3.00"/><circle cx="548.1" cy="155.8" r="3.00"/><circle cx="548.4" cy="157.7" r="3.00"/><circle cx="548.8" cy="156.2" r="3.00"/><circle cx="549.1" cy="157.5" r="3.00"/><circle cx="549.4" cy="156.7" r="3.00"/><circle cx="549.8" cy="157.9" r="3.00"/><circle cx="550.1" cy="157.4" r="3.00"/><circle cx="550.5" cy="157.5" r="3.00"/><circle cx="550.8" cy="159.0" r="3.00"/><circle cx="551.1" cy="159.4" r="3.00"/><circle cx="551.5" cy="157.7" r="3.00"/><circle cx="551.8" cy="159.7" r="3.00"/><circle cx="552.2" cy="158.5" r="3.00"/><circle cx="552.5" cy="160.5" r="3.00"/><circle cx="552.8" cy="159.8" r="3.00"/><circle cx="553.2" cy="160.3" r="3.00"/><circle cx="553.5" cy="160.8" r="3.00"/><circle cx="553.9" cy="161.1" r="3.00"/><circle cx="554.2" cy="159.0" r="3.00"/><circle cx="554.5" cy="160.1" r="3.00"/><circle cx="554.9" cy="160.9" r="3.00"/><circle cx="555.2" cy="160.7" r="3.00"/><circle cx="555.5" cy="160.1" r="3.00"/><circle cx="555.9" cy="160.7" r="3.00"/><circle cx="556.2" cy="162.6" r="3.00"/><circle cx="556.6" cy="162.5" r="3.00"/><circle cx="556.9" cy="160.6" r="3.00"/><circle cx="557.2" cy="161.8" r="3.00"/><circle cx="557.6" cy="161.9" r="3.00"/><circle cx="557.9" cy="163.3" r="3.00"/><circle cx="558.3" cy="163.6" r="3.00"/><circle cx="558.6" cy="163.5" r="3.00"/><circle cx="558.9" cy="163.3" r="3.00"/><circle cx="559.3" cy="162.8" r="3.00"/><circle cx="559.6" cy="163.5" r="3.00"/><circle cx="560.0" cy="162.8" r="3.00"/><circle cx="560.3" cy="163.7" r="3.00"/><circle cx="560.6" cy="163.6" r="3.00"/><circle cx="561.0" cy="162.4" r="3.00"/><circle cx="561.3" cy="165.4" r="3.00"/><circle cx="561.7" cy="163.7" r="3.00"/><circle cx="562.0" cy="163.6" r="3.00"/><circle cx="562.3" cy="165.5" r="3.00"/><circle cx="562.7" cy="163.6" r="3.00"/><circle cx="563.0" cy="166.0" r="3.00"/><circle cx="563.4" cy="164.0" r="3.00"/><circle cx="563.7" cy="166.1" r="3.00"/><circle cx="564.0" cy="165.5" r="3.00"/><circle cx="564.4" cy="165.8" r="3.00"/><circle cx="564.7" cy="165.4" r="3.00"/><circle cx="565.0" cy="165.4" r="3.00"/><circle cx="565.4" cy="167.4" r="3.00"/><circle cx="565.7" cy="165.2" r="3.00"/><circle cx="566.1" cy="166.2" r="3.00"/><circle cx="566.4" cy="165.2" r="3.00"/><circle cx="566.7" cy="167.6" r="3.00"/><circle cx="567.1" cy="167.0" r="3.00"/><circle cx="567.4" cy="165.6" r="3.00"/><circle cx="567.8" cy="166.7" r="3.00"/><circle cx="568.1" cy="167.3" r="3.00"/><circle cx="568.4" cy="167.5" r="3.00"/><circle cx="568.8" cy="166.3" r="3.00"/><circle cx="569.1" cy="169.3" r="3.00"/><circle cx="569.5" cy="166.4" r="3.00"/><circle cx="569.8" cy="168.2" r="3.00"/><circle cx="570.1" cy="167.3" r="3.00"/><circle cx="570.5" cy="168.5" r="3.00"/></g><g fill="#dc2920"><circle cx="448.0" cy="91.2" r="3.00"/><circle cx="483.0" cy="116.3" r="3.00"/><circle cx="506.9" cy="125.7" r="3.00"/><circle cx="541.6" cy="144.6" r="3.00"/><circle cx="565.4" cy="152.2" r="3.00"/></g></g>
<g clip-path="url(#cp10)"><g fill="#231f20"><circle cx="59.8" cy="246.3" r="3.00"/><circle cx="60.2" cy="251.5" r="3.00"/><circle cx="60.5" cy="253.1" r="3.00"/><circle cx="60.9" cy="254.2" r="3.00"/><circle cx="61.2" cy="255.2" r="3.00"/><circle cx="61.5" cy="257.0" r="3.00"/><circle cx="61.9" cy="258.7" r="3.00"/><circle cx="62.2" cy="258.9" r="3.00"/><circle cx="62.5" cy="260.0" r="3.00"/><circle cx="62.9" cy="261.7" r="3.00"/><circle cx="63.2" cy="262.6" r="3.00"/><circle cx="63.6" cy="263.1" r="3.00"/><circle cx="63.9" cy="264.5" r="3.00"/><circle cx="64.2" cy="264.2" r="3.00"/><circle cx="64.6" cy="265.0" r="3.00"/><circle cx="64.9" cy="266.2" r="3.00"/><circle cx="65.3" cy="266.9" r="3.00"/><circle cx="65.6" cy="268.6" r="3.00"/><circle cx="65.9" cy="269.8" r="3.00"/><circle cx="66.3" cy="269.5" r="3.00"/><circle cx="66.6" cy="270.1" r="3.00"/><circle cx="67.0" cy="271.1" r="3.00"/><circle cx="67.3" cy="272.8" r="3.00"/><circle cx="67.6" cy="273.8" r="3.00"/><circle cx="68.0" cy="273.5" r="3.00"/><circle cx="68.3" cy="275.1" r="3.00"/><circle cx="68.7" cy="275.5" r="3.00"/><circle cx="69.0" cy="275.7" r="3.00"/><circle cx="69.3" cy="276.9" r="3.00"/><circle cx="69.7" cy="276.1" r="3.00"/><circle cx="70.0" cy="278.0" r="3.00"/><circle cx="70.4" cy="278.1" r="3.00"/><circle cx="70.7" cy="277.8" r="3.00"/><circle cx="71.0" cy="279.1" r="3.00"/><circle cx="71.4" cy="280.4" r="3.00"/><circle cx="71.7" cy="280.0" r="3.00"/><circle cx="72.0" cy="282.0" r="3.00"/><circle cx="72.4" cy="282.8" r="3.00"/><circle cx="72.7" cy="283.5" r="3.00"/><circle cx="73.1" cy="282.5" r="3.00"/><circle cx="73.4" cy="283.0" r="3.00"/><circle cx="73.7" cy="283.5" r="3.00"/><circle cx="74.1" cy="284.0" r="3.00"/><circle cx="74.4" cy="284.8" r="3.00"/><circle cx="74.8" cy="284.3" r="3.00"/><circle cx="75.1" cy="286.2" r="3.00"/><circle cx="75.4" cy="287.7" r="3.00"/><circle cx="75.8" cy="287.8" r="3.00"/><circle cx="76.1" cy="287.9" r="3.00"/><circle cx="76.5" cy="287.7" r="3.00"/><circle cx="76.8" cy="289.0" r="3.00"/><circle cx="77.1" cy="289.3" r="3.00"/><circle cx="77.5" cy="290.2" r="3.00"/><circle cx="77.8" cy="289.3" r="3.00"/><circle cx="78.2" cy="289.4" r="3.00"/><circle cx="78.5" cy="291.5" r="3.00"/><circle cx="78.8" cy="290.5" r="3.00"/><circle cx="79.2" cy="293.0" r="3.00"/><circle cx="79.5" cy="290.9" r="3.00"/><circle cx="79.8" cy="293.4" r="3.00"/><circle cx="80.2" cy="292.9" r="3.00"/><circle cx="80.5" cy="293.6" r="3.00"/><circle cx="80.9" cy="295.7" r="3.00"/><circle cx="81.2" cy="294.6" r="3.00"/><circle cx="81.5" cy="296.8" r="3.00"/><circle cx="81.9" cy="295.9" r="3.00"/><circle cx="82.2" cy="296.2" r="3.00"/><circle cx="82.6" cy="295.4" r="3.00"/><circle cx="82.9" cy="298.3" r="3.00"/><circle cx="83.2" cy="299.3" r="3.00"/><circle cx="83.6" cy="297.9" r="3.00"/><circle cx="83.9" cy="299.4" r="3.00"/><circle cx="84.3" cy="299.1" r="3.00"/><circle cx="84.6" cy="300.6" r="3.00"/><circle cx="84.9" cy="299.7" r="3.00"/><circle cx="85.3" cy="302.0" r="3.00"/><circle cx="85.6" cy="301.2" r="3.00"/><circle cx="86.0" cy="300.9" r="3.00"/><circle cx="86.3" cy="301.0" r="3.00"/><circle cx="86.6" cy="303.3" r="3.00"/><circle cx="87.0" cy="303.1" r="3.00"/><circle cx="87.3" cy="302.3" r="3.00"/><circle cx="87.6" cy="305.5" r="3.00"/><circle cx="88.0" cy="303.8" r="3.00"/><circle cx="88.3" cy="304.6" r="3.00"/><circle cx="88.7" cy="304.3" r="3.00"/><circle cx="89.0" cy="306.4" r="3.00"/><circle cx="89.3" cy="307.0" r="3.00"/><circle cx="89.7" cy="307.2" r="3.00"/><circle cx="90.0" cy="308.4" r="3.00"/><circle cx="90.4" cy="309.9" r="3.00"/><circle cx="90.7" cy="308.7" r="3.00"/><circle cx="91.0" cy="309.8" r="3.00"/><circle cx="91.4" cy="310.0" r="3.00"/><circle cx="91.7" cy="309.9" r="3.00"/><circle cx="92.1" cy="311.4" r="3.00"/><circle cx="92.4" cy="312.7" r="3.00"/><circle cx="92.7" cy="311.0" r="3.00"/><circle cx="93.1" cy="311.2" r="3.00"/><circle cx="93.4" cy="314.0" r="3.00"/><circle cx="93.8" cy="313.3" r="3.00"/><circle cx="94.1" cy="314.6" r="3.00"/><circle cx="94.4" cy="314.1" r="3.00"/><circle cx="94.8" cy="316.7" r="3.00"/><circle cx="95.1" cy="314.5" r="3.00"/><circle cx="95.5" cy="315.2" r="3.00"/><circle cx="95.8" cy="318.0" r="3.00"/><circle cx="96.1" cy="317.0" r="3.00"/><circle cx="96.5" cy="318.5" r="3.00"/><circle cx="96.8" cy="319.4" r="3.00"/><circle cx="97.1" cy="317.9" r="3.00"/><circle cx="97.5" cy="318.7" r="3.00"/><circle cx="97.8" cy="319.8" r="3.00"/><circle cx="98.2" cy="320.2" r="3.00"/><circle cx="98.5" cy="319.9" r="3.00"/><circle cx="98.8" cy="322.2" r="3.00"/><circle cx="99.2" cy="322.2" r="3.00"/><circle cx="99.5" cy="323.6" r="3.00"/><circle cx="99.9" cy="323.4" r="3.00"/><circle cx="100.2" cy="324.8" r="3.00"/><circle cx="100.5" cy="324.8" r="3.00"/><circle cx="100.9" cy="324.3" r="3.00"/><circle cx="101.2" cy="326.0" r="3.00"/><circle cx="101.6" cy="325.3" r="3.00"/><circle cx="101.9" cy="325.4" r="3.00"/><circle cx="102.2" cy="326.4" r="3.00"/><circle cx="102.6" cy="327.4" r="3.00"/><circle cx="102.9" cy="328.2" r="3.00"/><circle cx="103.3" cy="329.7" r="3.00"/><circle cx="103.6" cy="328.0" r="3.00"/><circle cx="103.9" cy="327.9" r="3.00"/><circle cx="104.3" cy="330.7" r="3.00"/><circle cx="104.6" cy="329.8" r="3.00"/><circle cx="104.9" cy="330.6" r="3.00"/><circle cx="105.3" cy="330.4" r="3.00"/><circle cx="105.6" cy="331.3" r="3.00"/><circle cx="106.0" cy="333.4" r="3.00"/><circle cx="106.3" cy="334.1" r="3.00"/><circle cx="106.6" cy="333.9" r="3.00"/><circle cx="107.0" cy="334.9" r="3.00"/><circle cx="107.3" cy="334.1" r="3.00"/><circle cx="107.7" cy="336.2" r="3.00"/><circle cx="108.0" cy="334.8" r="3.00"/><circle cx="108.3" cy="335.0" r="3.00"/><circle cx="108.7" cy="337.8" r="3.00"/><circle cx="109.0" cy="335.6" r="3.00"/><circle cx="109.4" cy="336.3" r="3.00"/><circle cx="109.7" cy="339.3" r="3.00"/><circle cx="110.0" cy="338.2" r="3.00"/><circle cx="110.4" cy="340.3" r="3.00"/><circle cx="110.7" cy="339.4" r="3.00"/><circle cx="111.1" cy="341.1" r="3.00"/><circle cx="111.4" cy="340.0" r="3.00"/><circle cx="111.7" cy="342.1" r="3.00"/><circle cx="112.1" cy="342.5" r="3.00"/><circle cx="112.4" cy="340.2" r="3.00"/><circle cx="112.8" cy="341.2" r="3.00"/><circle cx="113.1" cy="342.1" r="3.00"/><circle cx="113.4" cy="342.2" r="3.00"/><circle cx="113.8" cy="344.5" r="3.00"/><circle cx="114.1" cy="345.4" r="3.00"/><circle cx="114.4" cy="345.1" r="3.00"/><circle cx="114.8" cy="344.2" r="3.00"/><circle cx="115.1" cy="344.7" r="3.00"/><circle cx="115.5" cy="345.3" r="3.00"/><circle cx="115.8" cy="346.7" r="3.00"/><circle cx="116.1" cy="346.9" r="3.00"/><circle cx="116.5" cy="346.6" r="3.00"/><circle cx="116.8" cy="347.6" r="3.00"/><circle cx="117.2" cy="349.2" r="3.00"/><circle cx="117.5" cy="348.9" r="3.00"/><circle cx="117.8" cy="347.8" r="3.00"/><circle cx="118.2" cy="348.2" r="3.00"/><circle cx="118.5" cy="351.5" r="3.00"/><circle cx="118.9" cy="351.9" r="3.00"/><circle cx="119.2" cy="352.5" r="3.00"/><circle cx="119.5" cy="351.5" r="3.00"/><circle cx="119.9" cy="350.7" r="3.00"/><circle cx="120.2" cy="352.4" r="3.00"/><circle cx="120.6" cy="353.5" r="3.00"/><circle cx="120.9" cy="352.2" r="3.00"/><circle cx="121.2" cy="354.7" r="3.00"/><circle cx="121.6" cy="354.1" r="3.00"/><circle cx="121.9" cy="353.5" r="3.00"/><circle cx="122.2" cy="354.0" r="3.00"/><circle cx="122.6" cy="356.8" r="3.00"/><circle cx="122.9" cy="356.7" r="3.00"/><circle cx="123.3" cy="356.8" r="3.00"/><circle cx="123.6" cy="356.1" r="3.00"/><circle cx="123.9" cy="356.8" r="3.00"/><circle cx="124.3" cy="357.8" r="3.00"/><circle cx="124.6" cy="358.7" r="3.00"/><circle cx="125.0" cy="359.4" r="3.00"/><circle cx="125.3" cy="358.9" r="3.00"/><circle cx="125.6" cy="358.7" r="3.00"/><circle cx="126.0" cy="360.6" r="3.00"/><circle cx="126.3" cy="361.2" r="3.00"/><circle cx="126.7" cy="362.5" r="3.00"/><circle cx="127.0" cy="362.6" r="3.00"/><circle cx="127.3" cy="363.0" r="3.00"/><circle cx="127.7" cy="362.5" r="3.00"/><circle cx="128.0" cy="361.8" r="3.00"/><circle cx="128.4" cy="363.4" r="3.00"/><circle cx="128.7" cy="364.7" r="3.00"/><circle cx="129.0" cy="365.1" r="3.00"/><circle cx="129.4" cy="363.0" r="3.00"/><circle cx="129.7" cy="364.5" r="3.00"/><circle cx="130.0" cy="365.9" r="3.00"/><circle cx="130.4" cy="364.6" r="3.00"/><circle cx="130.7" cy="364.7" r="3.00"/><circle cx="131.1" cy="366.4" r="3.00"/><circle cx="131.4" cy="367.1" r="3.00"/><circle cx="131.7" cy="367.8" r="3.00"/><circle cx="132.1" cy="368.2" r="3.00"/><circle cx="132.4" cy="367.1" r="3.00"/><circle cx="132.8" cy="368.0" r="3.00"/><circle cx="133.1" cy="367.7" r="3.00"/><circle cx="133.4" cy="371.0" r="3.00"/><circle cx="133.8" cy="371.1" r="3.00"/><circle cx="134.1" cy="370.2" r="3.00"/><circle cx="134.5" cy="370.4" r="3.00"/><circle cx="134.8" cy="371.4" r="3.00"/><circle cx="135.1" cy="371.5" r="3.00"/><circle cx="135.5" cy="370.7" r="3.00"/><circle cx="135.8" cy="372.2" r="3.00"/><circle cx="136.2" cy="373.5" r="3.00"/><circle cx="136.5" cy="373.2" r="3.00"/><circle cx="136.8" cy="374.2" r="3.00"/><circle cx="137.2" cy="373.6" r="3.00"/><circle cx="137.5" cy="374.1" r="3.00"/><circle cx="137.9" cy="374.1" r="3.00"/><circle cx="138.2" cy="373.7" r="3.00"/><circle cx="138.5" cy="375.6" r="3.00"/><circle cx="138.9" cy="377.5" r="3.00"/><circle cx="139.2" cy="376.4" r="3.00"/><circle cx="139.5" cy="376.8" r="3.00"/><circle cx="139.9" cy="376.3" r="3.00"/><circle cx="140.2" cy="376.2" r="3.00"/><circle cx="140.6" cy="379.1" r="3.00"/><circle cx="140.9" cy="377.2" r="3.00"/><circle cx="141.2" cy="379.9" r="3.00"/><circle cx="141.6" cy="378.9" r="3.00"/><circle cx="141.9" cy="381.2" r="3.00"/><circle cx="142.3" cy="378.9" r="3.00"/><circle cx="142.6" cy="380.7" r="3.00"/><circle cx="142.9" cy="381.7" r="3.00"/><circle cx="143.3" cy="379.7" r="3.00"/><circle cx="143.6" cy="382.9" r="3.00"/><circle cx="144.0" cy="382.4" r="3.00"/><circle cx="144.3" cy="382.4" r="3.00"/><circle cx="144.6" cy="383.5" r="3.00"/><circle cx="145.0" cy="383.6" r="3.00"/><circle cx="145.3" cy="382.4" r="3.00"/><circle cx="145.7" cy="384.9" r="3.00"/><circle cx="146.0" cy="384.1" r="3.00"/><circle cx="146.3" cy="385.6" r="3.00"/><circle cx="146.7" cy="384.7" r="3.00"/><circle cx="147.0" cy="386.2" r="3.00"/><circle cx="147.3" cy="386.4" r="3.00"/><circle cx="147.7" cy="386.1" r="3.00"/><circle cx="148.0" cy="387.4" r="3.00"/><circle cx="148.4" cy="386.2" r="3.00"/><circle cx="148.7" cy="388.3" r="3.00"/><circle cx="149.0" cy="386.7" r="3.00"/><circle cx="149.4" cy="387.5" r="3.00"/><circle cx="149.7" cy="389.7" r="3.00"/><circle cx="150.1" cy="388.8" r="3.00"/><circle cx="150.4" cy="390.7" r="3.00"/><circle cx="150.7" cy="390.7" r="3.00"/><circle cx="151.1" cy="390.7" r="3.00"/><circle cx="151.4" cy="389.8" r="3.00"/><circle cx="151.8" cy="390.4" r="3.00"/><circle cx="152.1" cy="391.1" r="3.00"/><circle cx="152.4" cy="392.6" r="3.00"/><circle cx="152.8" cy="392.6" r="3.00"/><circle cx="153.1" cy="391.7" r="3.00"/><circle cx="153.5" cy="392.8" r="3.00"/><circle cx="153.8" cy="393.7" r="3.00"/><circle cx="154.1" cy="394.9" r="3.00"/><circle cx="154.5" cy="395.3" r="3.00"/><circle cx="154.8" cy="392.9" r="3.00"/><circle cx="155.2" cy="394.9" r="3.00"/><circle cx="155.5" cy="393.7" r="3.00"/><circle cx="155.8" cy="396.2" r="3.00"/><circle cx="156.2" cy="395.5" r="3.00"/><circle cx="156.5" cy="396.9" r="3.00"/><circle cx="156.8" cy="395.3" r="3.00"/><circle cx="157.2" cy="397.8" r="3.00"/><circle cx="157.5" cy="397.2" r="3.00"/><circle cx="157.9" cy="396.2" r="3.00"/><circle cx="158.2" cy="397.3" r="3.00"/><circle cx="158.5" cy="398.3" r="3.00"/><circle cx="158.9" cy="399.3" r="3.00"/><circle cx="159.2" cy="399.1" r="3.00"/><circle cx="159.6" cy="401.2" r="3.00"/><circle cx="159.9" cy="401.2" r="3.00"/><circle cx="160.2" cy="401.1" r="3.00"/><circle cx="160.6" cy="402.2" r="3.00"/><circle cx="160.9" cy="401.9" r="3.00"/><circle cx="161.3" cy="401.7" r="3.00"/><circle cx="161.6" cy="400.7" r="3.00"/><circle cx="161.9" cy="400.9" r="3.00"/><circle cx="162.3" cy="404.2" r="3.00"/><circle cx="162.6" cy="403.1" r="3.00"/><circle cx="163.0" cy="402.8" r="3.00"/><circle cx="163.3" cy="403.0" r="3.00"/><circle cx="163.6" cy="405.2" r="3.00"/><circle cx="164.0" cy="406.1" r="3.00"/><circle cx="164.3" cy="405.7" r="3.00"/><circle cx="164.6" cy="405.9" r="3.00"/><circle cx="165.0" cy="406.7" r="3.00"/><circle cx="165.3" cy="406.9" r="3.00"/><circle cx="165.7" cy="405.9" r="3.00"/><circle cx="166.0" cy="407.7" r="3.00"/><circle cx="166.3" cy="408.2" r="3.00"/><circle cx="166.7" cy="408.3" r="3.00"/><circle cx="167.0" cy="408.0" r="3.00"/><circle cx="167.4" cy="409.2" r="3.00"/><circle cx="167.7" cy="408.7" r="3.00"/><circle cx="168.0" cy="407.6" r="3.00"/><circle cx="168.4" cy="408.4" r="3.00"/><circle cx="168.7" cy="409.0" r="3.00"/><circle cx="169.1" cy="408.7" r="3.00"/><circle cx="169.4" cy="409.1" r="3.00"/><circle cx="169.7" cy="410.7" r="3.00"/><circle cx="170.1" cy="410.6" r="3.00"/><circle cx="170.4" cy="412.1" r="3.00"/><circle cx="170.8" cy="411.9" r="3.00"/></g><g fill="#231f20"><circle cx="117.5" cy="340.6" r="3.00"/><circle cx="140.6" cy="369.8" r="3.00"/><circle cx="81.4" cy="293.0" r="3.00"/></g><g fill="#dc2920"><circle cx="59.8" cy="246.3" r="3.00"/><circle cx="60.2" cy="250.4" r="3.00"/><circle cx="60.5" cy="252.0" r="3.00"/><circle cx="60.9" cy="253.0" r="3.00"/><circle cx="61.2" cy="254.2" r="3.00"/><circle cx="61.5" cy="255.6" r="3.00"/><circle cx="61.9" cy="256.2" r="3.00"/><circle cx="62.2" cy="257.3" r="3.00"/><circle cx="62.5" cy="257.1" r="3.00"/><circle cx="62.9" cy="258.0" r="3.00"/><circle cx="63.2" cy="259.1" r="3.00"/><circle cx="63.6" cy="260.3" r="3.00"/><circle cx="63.9" cy="261.0" r="3.00"/><circle cx="64.2" cy="261.4" r="3.00"/><circle cx="64.6" cy="261.6" r="3.00"/><circle cx="64.9" cy="262.9" r="3.00"/><circle cx="65.3" cy="263.1" r="3.00"/><circle cx="65.6" cy="264.0" r="3.00"/><circle cx="65.9" cy="264.7" r="3.00"/><circle cx="66.3" cy="265.3" r="3.00"/><circle cx="66.6" cy="265.9" r="3.00"/><circle cx="67.0" cy="265.2" r="3.00"/><circle cx="67.3" cy="266.9" r="3.00"/><circle cx="67.6" cy="267.6" r="3.00"/><circle cx="68.0" cy="266.7" r="3.00"/><circle cx="68.3" cy="267.0" r="3.00"/><circle cx="68.7" cy="267.9" r="3.00"/><circle cx="69.0" cy="269.8" r="3.00"/><circle cx="69.3" cy="270.1" r="3.00"/><circle cx="69.7" cy="270.6" r="3.00"/><circle cx="70.0" cy="271.2" r="3.00"/><circle cx="70.4" cy="270.9" r="3.00"/><circle cx="70.7" cy="272.3" r="3.00"/><circle cx="71.0" cy="271.1" r="3.00"/><circle cx="71.4" cy="272.4" r="3.00"/><circle cx="71.7" cy="273.4" r="3.00"/><circle cx="72.0" cy="274.1" r="3.00"/><circle cx="72.4" cy="273.4" r="3.00"/><circle cx="72.7" cy="273.3" r="3.00"/><circle cx="73.1" cy="274.2" r="3.00"/><circle cx="73.4" cy="275.5" r="3.00"/><circle cx="73.7" cy="274.4" r="3.00"/><circle cx="74.1" cy="275.6" r="3.00"/><circle cx="74.4" cy="275.8" r="3.00"/><circle cx="74.8" cy="275.3" r="3.00"/><circle cx="75.1" cy="276.3" r="3.00"/><circle cx="75.4" cy="278.2" r="3.00"/><circle cx="75.8" cy="277.0" r="3.00"/><circle cx="76.1" cy="278.5" r="3.00"/><circle cx="76.5" cy="277.4" r="3.00"/><circle cx="76.8" cy="278.4" r="3.00"/><circle cx="77.1" cy="278.9" r="3.00"/><circle cx="77.5" cy="280.4" r="3.00"/><circle cx="77.8" cy="281.1" r="3.00"/><circle cx="78.2" cy="278.6" r="3.00"/><circle cx="78.5" cy="281.8" r="3.00"/><circle cx="78.8" cy="282.1" r="3.00"/><circle cx="79.2" cy="281.2" r="3.00"/><circle cx="79.5" cy="280.1" r="3.00"/><circle cx="79.8" cy="281.7" r="3.00"/><circle cx="80.2" cy="280.7" r="3.00"/><circle cx="80.5" cy="281.8" r="3.00"/><circle cx="80.9" cy="281.9" r="3.00"/><circle cx="81.2" cy="282.2" r="3.00"/><circle cx="81.5" cy="282.2" r="3.00"/><circle cx="81.9" cy="282.4" r="3.00"/><circle cx="82.2" cy="284.7" r="3.00"/><circle cx="82.6" cy="283.9" r="3.00"/><circle cx="82.9" cy="284.8" r="3.00"/><circle cx="83.2" cy="283.7" r="3.00"/><circle cx="83.6" cy="285.2" r="3.00"/><circle cx="83.9" cy="286.2" r="3.00"/><circle cx="84.3" cy="287.6" r="3.00"/><circle cx="84.6" cy="285.8" r="3.00"/><circle cx="84.9" cy="288.3" r="3.00"/><circle cx="85.3" cy="286.7" r="3.00"/><circle cx="85.6" cy="288.2" r="3.00"/><circle cx="86.0" cy="287.3" r="3.00"/><circle cx="86.3" cy="286.7" r="3.00"/><circle cx="86.6" cy="288.9" r="3.00"/><circle cx="87.0" cy="288.6" r="3.00"/><circle cx="87.3" cy="289.0" r="3.00"/><circle cx="87.6" cy="290.5" r="3.00"/><circle cx="88.0" cy="289.0" r="3.00"/><circle cx="88.3" cy="289.5" r="3.00"/><circle cx="88.7" cy="289.6" r="3.00"/><circle cx="89.0" cy="291.6" r="3.00"/><circle cx="89.3" cy="292.3" r="3.00"/><circle cx="89.7" cy="291.7" r="3.00"/><circle cx="90.0" cy="292.8" r="3.00"/><circle cx="90.4" cy="292.6" r="3.00"/><circle cx="90.7" cy="293.7" r="3.00"/><circle cx="91.0" cy="292.9" r="3.00"/><circle cx="91.4" cy="293.3" r="3.00"/><circle cx="91.7" cy="293.7" r="3.00"/><circle cx="92.1" cy="293.9" r="3.00"/><circle cx="92.4" cy="295.2" r="3.00"/><circle cx="92.7" cy="294.3" r="3.00"/><circle cx="93.1" cy="294.0" r="3.00"/><circle cx="93.4" cy="295.3" r="3.00"/><circle cx="93.8" cy="294.8" r="3.00"/><circle cx="94.1" cy="294.4" r="3.00"/><circle cx="94.4" cy="295.6" r="3.00"/><circle cx="94.8" cy="294.6" r="3.00"/><circle cx="95.1" cy="295.4" r="3.00"/><circle cx="95.5" cy="296.4" r="3.00"/><circle cx="95.8" cy="298.1" r="3.00"/><circle cx="96.1" cy="297.2" r="3.00"/><circle cx="96.5" cy="298.9" r="3.00"/><circle cx="96.8" cy="296.4" r="3.00"/><circle cx="97.1" cy="299.4" r="3.00"/><circle cx="97.5" cy="299.2" r="3.00"/><circle cx="97.8" cy="299.6" r="3.00"/><circle cx="98.2" cy="297.8" r="3.00"/><circle cx="98.5" cy="298.0" r="3.00"/><circle cx="98.8" cy="298.8" r="3.00"/><circle cx="99.2" cy="298.7" r="3.00"/><circle cx="99.5" cy="300.8" r="3.00"/><circle cx="99.9" cy="299.2" r="3.00"/><circle cx="100.2" cy="301.9" r="3.00"/><circle cx="100.5" cy="301.5" r="3.00"/><circle cx="100.9" cy="300.1" r="3.00"/><circle cx="101.2" cy="300.9" r="3.00"/><circle cx="101.6" cy="300.5" r="3.00"/><circle cx="101.9" cy="301.0" r="3.00"/><circle cx="102.2" cy="303.2" r="3.00"/><circle cx="102.6" cy="302.8" r="3.00"/><circle cx="102.9" cy="301.4" r="3.00"/><circle cx="103.3" cy="302.5" r="3.00"/><circle cx="103.6" cy="302.5" r="3.00"/><circle cx="103.9" cy="305.0" r="3.00"/><circle cx="104.3" cy="302.6" r="3.00"/><circle cx="104.6" cy="304.1" r="3.00"/><circle cx="104.9" cy="305.6" r="3.00"/><circle cx="105.3" cy="304.6" r="3.00"/><circle cx="105.6" cy="303.8" r="3.00"/><circle cx="106.0" cy="305.2" r="3.00"/><circle cx="106.3" cy="304.1" r="3.00"/><circle cx="106.6" cy="304.6" r="3.00"/><circle cx="107.0" cy="306.1" r="3.00"/><circle cx="107.3" cy="305.0" r="3.00"/><circle cx="107.7" cy="305.9" r="3.00"/><circle cx="108.0" cy="307.7" r="3.00"/><circle cx="108.3" cy="308.5" r="3.00"/><circle cx="108.7" cy="309.0" r="3.00"/><circle cx="109.0" cy="307.7" r="3.00"/><circle cx="109.4" cy="307.3" r="3.00"/><circle cx="109.7" cy="309.5" r="3.00"/><circle cx="110.0" cy="309.5" r="3.00"/><circle cx="110.4" cy="307.5" r="3.00"/><circle cx="110.7" cy="308.2" r="3.00"/><circle cx="111.1" cy="310.0" r="3.00"/><circle cx="111.4" cy="308.4" r="3.00"/><circle cx="111.7" cy="310.1" r="3.00"/><circle cx="112.1" cy="311.0" r="3.00"/><circle cx="112.4" cy="311.0" r="3.00"/><circle cx="112.8" cy="311.5" r="3.00"/><circle cx="113.1" cy="310.5" r="3.00"/><circle cx="113.4" cy="311.8" r="3.00"/><circle cx="113.8" cy="311.4" r="3.00"/><circle cx="114.1" cy="311.6" r="3.00"/><circle cx="114.4" cy="312.2" r="3.00"/><circle cx="114.8" cy="312.7" r="3.00"/><circle cx="115.1" cy="313.2" r="3.00"/><circle cx="115.5" cy="313.9" r="3.00"/><circle cx="115.8" cy="314.6" r="3.00"/><circle cx="116.1" cy="313.0" r="3.00"/><circle cx="116.5" cy="315.4" r="3.00"/><circle cx="116.8" cy="313.5" r="3.00"/><circle cx="117.2" cy="313.7" r="3.00"/><circle cx="117.5" cy="313.8" r="3.00"/><circle cx="117.8" cy="314.6" r="3.00"/><circle cx="118.2" cy="313.9" r="3.00"/><circle cx="118.5" cy="315.9" r="3.00"/><circle cx="118.9" cy="316.0" r="3.00"/><circle cx="119.2" cy="316.8" r="3.00"/><circle cx="119.5" cy="317.9" r="3.00"/><circle cx="119.9" cy="316.9" r="3.00"/><circle cx="120.2" cy="317.0" r="3.00"/><circle cx="120.6" cy="317.4" r="3.00"/><circle cx="120.9" cy="319.0" r="3.00"/><circle cx="121.2" cy="318.9" r="3.00"/><circle cx="121.6" cy="318.8" r="3.00"/><circle cx="121.9" cy="318.7" r="3.00"/><circle cx="122.2" cy="319.6" r="3.00"/><circle cx="122.6" cy="319.4" r="3.00"/><circle cx="122.9" cy="319.9" r="3.00"/><circle cx="123.3" cy="320.8" r="3.00"/><circle cx="123.6" cy="318.7" r="3.00"/><circle cx="123.9" cy="319.8" r="3.00"/><circle cx="124.3" cy="319.0" r="3.00"/><circle cx="124.6" cy="320.4" r="3.00"/><circle cx="125.0" cy="320.7" r="3.00"/><circle cx="125.3" cy="321.7" r="3.00"/><circle cx="125.6" cy="320.7" r="3.00"/><circle cx="126.0" cy="322.0" r="3.00"/><circle cx="126.3" cy="321.2" r="3.00"/><circle cx="126.7" cy="322.6" r="3.00"/><circle cx="127.0" cy="322.0" r="3.00"/><circle cx="127.3" cy="322.5" r="3.00"/><circle cx="127.7" cy="323.6" r="3.00"/><circle cx="128.0" cy="324.9" r="3.00"/><circle cx="128.4" cy="324.7" r="3.00"/><circle cx="128.7" cy="324.4" r="3.00"/><circle cx="129.0" cy="324.6" r="3.00"/><circle cx="129.4" cy="325.6" r="3.00"/><circle cx="129.7" cy="325.8" r="3.00"/><circle cx="130.0" cy="325.9" r="3.00"/><circle cx="130.4" cy="325.5" r="3.00"/><circle cx="130.7" cy="327.2" r="3.00"/><circle cx="131.1" cy="326.5" r="3.00"/><circle cx="131.4" cy="325.9" r="3.00"/><circle cx="131.7" cy="325.8" r="3.00"/><circle cx="132.1" cy="327.0" r="3.00"/><circle cx="132.4" cy="326.0" r="3.00"/><circle cx="132.8" cy="326.9" r="3.00"/><circle cx="133.1" cy="327.0" r="3.00"/><circle cx="133.4" cy="329.3" r="3.00"/><circle cx="133.8" cy="328.5" r="3.00"/><circle cx="134.1" cy="330.2" r="3.00"/><circle cx="134.5" cy="328.6" r="3.00"/><circle cx="134.8" cy="329.9" r="3.00"/><circle cx="135.1" cy="328.5" r="3.00"/><circle cx="135.5" cy="331.1" r="3.00"/><circle cx="135.8" cy="331.5" r="3.00"/><circle cx="136.2" cy="330.8" r="3.00"/><circle cx="136.5" cy="331.8" r="3.00"/><circle cx="136.8" cy="330.9" r="3.00"/><circle cx="137.2" cy="331.6" r="3.00"/><circle cx="137.5" cy="333.1" r="3.00"/><circle cx="137.9" cy="332.7" r="3.00"/><circle cx="138.2" cy="333.3" r="3.00"/><circle cx="138.5" cy="333.5" r="3.00"/><circle cx="138.9" cy="331.3" r="3.00"/><circle cx="139.2" cy="332.8" r="3.00"/><circle cx="139.5" cy="332.5" r="3.00"/><circle cx="139.9" cy="334.0" r="3.00"/><circle cx="140.2" cy="334.9" r="3.00"/><circle cx="140.6" cy="334.7" r="3.00"/><circle cx="140.9" cy="333.9" r="3.00"/><circle cx="141.2" cy="335.0" r="3.00"/><circle cx="141.6" cy="336.5" r="3.00"/><circle cx="141.9" cy="335.1" r="3.00"/><circle cx="142.3" cy="335.6" r="3.00"/><circle cx="142.6" cy="335.3" r="3.00"/><circle cx="142.9" cy="337.6" r="3.00"/><circle cx="143.3" cy="335.2" r="3.00"/><circle cx="143.6" cy="336.8" r="3.00"/><circle cx="144.0" cy="337.4" r="3.00"/><circle cx="144.3" cy="337.9" r="3.00"/><circle cx="144.6" cy="336.5" r="3.00"/><circle cx="145.0" cy="338.5" r="3.00"/><circle cx="145.3" cy="338.7" r="3.00"/><circle cx="145.7" cy="337.2" r="3.00"/><circle cx="146.0" cy="338.7" r="3.00"/><circle cx="146.3" cy="340.3" r="3.00"/><circle cx="146.7" cy="340.3" r="3.00"/><circle cx="147.0" cy="338.7" r="3.00"/><circle cx="147.3" cy="340.3" r="3.00"/><circle cx="147.7" cy="340.6" r="3.00"/><circle cx="148.0" cy="340.9" r="3.00"/><circle cx="148.4" cy="339.1" r="3.00"/><circle cx="148.7" cy="340.9" r="3.00"/><circle cx="149.0" cy="339.9" r="3.00"/><circle cx="149.4" cy="340.5" r="3.00"/><circle cx="149.7" cy="340.8" r="3.00"/><circle cx="150.1" cy="341.1" r="3.00"/><circle cx="150.4" cy="342.8" r="3.00"/><circle cx="150.7" cy="341.5" r="3.00"/><circle cx="151.1" cy="342.8" r="3.00"/><circle cx="151.4" cy="344.0" r="3.00"/><circle cx="151.8" cy="344.0" r="3.00"/><circle cx="152.1" cy="343.5" r="3.00"/><circle cx="152.4" cy="343.9" r="3.00"/><circle cx="152.8" cy="342.6" r="3.00"/><circle cx="153.1" cy="344.0" r="3.00"/><circle cx="153.5" cy="344.3" r="3.00"/><circle cx="153.8" cy="346.3" r="3.00"/><circle cx="154.1" cy="346.5" r="3.00"/><circle cx="154.5" cy="346.1" r="3.00"/><circle cx="154.8" cy="345.9" r="3.00"/><circle cx="155.2" cy="344.7" r="3.00"/><circle cx="155.5" cy="347.6" r="3.00"/><circle cx="155.8" cy="345.8" r="3.00"/><circle cx="156.2" cy="346.4" r="3.00"/><circle cx="156.5" cy="347.8" r="3.00"/><circle cx="156.8" cy="346.1" r="3.00"/><circle cx="157.2" cy="348.0" r="3.00"/><circle cx="157.5" cy="346.8" r="3.00"/><circle cx="157.9" cy="348.8" r="3.00"/><circle cx="158.2" cy="348.2" r="3.00"/><circle cx="158.5" cy="347.8" r="3.00"/><circle cx="158.9" cy="347.8" r="3.00"/><circle cx="159.2" cy="349.6" r="3.00"/><circle cx="159.6" cy="350.3" r="3.00"/><circle cx="159.9" cy="349.2" r="3.00"/><circle cx="160.2" cy="349.6" r="3.00"/><circle cx="160.6" cy="351.6" r="3.00"/><circle cx="160.9" cy="350.2" r="3.00"/><circle cx="161.3" cy="349.4" r="3.00"/><circle cx="161.6" cy="351.8" r="3.00"/><circle cx="161.9" cy="350.9" r="3.00"/><circle cx="162.3" cy="350.3" r="3.00"/><circle cx="162.6" cy="352.2" r="3.00"/><circle cx="163.0" cy="351.1" r="3.00"/><circle cx="163.3" cy="351.1" r="3.00"/><circle cx="163.6" cy="354.0" r="3.00"/><circle cx="164.0" cy="353.5" r="3.00"/><circle cx="164.3" cy="353.9" r="3.00"/><circle cx="164.6" cy="352.1" r="3.00"/><circle cx="165.0" cy="353.3" r="3.00"/><circle cx="165.3" cy="355.1" r="3.00"/><circle cx="165.7" cy="354.5" r="3.00"/><circle cx="166.0" cy="355.1" r="3.00"/><circle cx="166.3" cy="353.2" r="3.00"/><circle cx="166.7" cy="353.8" r="3.00"/><circle cx="167.0" cy="354.1" r="3.00"/><circle cx="167.4" cy="356.6" r="3.00"/><circle cx="167.7" cy="356.1" r="3.00"/><circle cx="168.0" cy="356.2" r="3.00"/><circle cx="168.4" cy="356.8" r="3.00"/><circle cx="168.7" cy="355.3" r="3.00"/><circle cx="169.1" cy="356.9" r="3.00"/><circle cx="169.4" cy="356.2" r="3.00"/><circle cx="169.7" cy="357.0" r="3.00"/><circle cx="170.1" cy="357.8" r="3.00"/><circle cx="170.4" cy="359.0" r="3.00"/><circle cx="170.8" cy="356.9" r="3.00"/><circle cx="171.1" cy="358.3" r="3.00"/><circle cx="171.4" cy="359.8" r="3.00"/><circle cx="171.8" cy="358.8" r="3.00"/><circle cx="172.1" cy="360.4" r="3.00"/><circle cx="172.4" cy="359.8" r="3.00"/><circle cx="172.8" cy="358.3" r="3.00"/><circle cx="173.1" cy="360.3" r="3.00"/><circle cx="173.5" cy="360.6" r="3.00"/><circle cx="173.8" cy="360.9" r="3.00"/><circle cx="174.1" cy="360.3" r="3.00"/><circle cx="174.5" cy="360.8" r="3.00"/><circle cx="174.8" cy="361.4" r="3.00"/><circle cx="175.2" cy="360.2" r="3.00"/><circle cx="175.5" cy="361.7" r="3.00"/><circle cx="175.8" cy="360.8" r="3.00"/><circle cx="176.2" cy="362.4" r="3.00"/><circle cx="176.5" cy="362.8" r="3.00"/><circle cx="176.9" cy="363.5" r="3.00"/><circle cx="177.2" cy="364.1" r="3.00"/><circle cx="177.5" cy="362.8" r="3.00"/><circle cx="177.9" cy="363.7" r="3.00"/><circle cx="178.2" cy="364.6" r="3.00"/><circle cx="178.6" cy="363.7" r="3.00"/><circle cx="178.9" cy="363.4" r="3.00"/><circle cx="179.2" cy="363.9" r="3.00"/><circle cx="179.6" cy="366.0" r="3.00"/><circle cx="179.9" cy="365.2" r="3.00"/><circle cx="180.3" cy="364.5" r="3.00"/><circle cx="180.6" cy="365.6" r="3.00"/><circle cx="180.9" cy="365.7" r="3.00"/><circle cx="181.3" cy="364.9" r="3.00"/><circle cx="181.6" cy="367.1" r="3.00"/><circle cx="181.9" cy="367.3" r="3.00"/><circle cx="182.3" cy="365.7" r="3.00"/><circle cx="182.6" cy="365.5" r="3.00"/><circle cx="183.0" cy="368.1" r="3.00"/><circle cx="183.3" cy="368.6" r="3.00"/><circle cx="183.6" cy="366.6" r="3.00"/><circle cx="184.0" cy="367.6" r="3.00"/><circle cx="184.3" cy="368.8" r="3.00"/><circle cx="184.7" cy="369.6" r="3.00"/><circle cx="185.0" cy="368.4" r="3.00"/><circle cx="185.3" cy="369.8" r="3.00"/><circle cx="185.7" cy="367.8" r="3.00"/><circle cx="186.0" cy="368.0" r="3.00"/><circle cx="186.4" cy="368.8" r="3.00"/><circle cx="186.7" cy="368.3" r="3.00"/><circle cx="187.0" cy="370.6" r="3.00"/><circle cx="187.4" cy="371.4" r="3.00"/><circle cx="187.7" cy="370.0" r="3.00"/><circle cx="188.1" cy="371.5" r="3.00"/><circle cx="188.4" cy="370.4" r="3.00"/><circle cx="188.7" cy="372.5" r="3.00"/><circle cx="189.1" cy="371.9" r="3.00"/><circle cx="189.4" cy="371.2" r="3.00"/><circle cx="189.7" cy="370.6" r="3.00"/><circle cx="190.1" cy="373.4" r="3.00"/><circle cx="190.4" cy="372.6" r="3.00"/><circle cx="190.8" cy="371.3" r="3.00"/><circle cx="191.1" cy="374.3" r="3.00"/><circle cx="191.4" cy="373.3" r="3.00"/><circle cx="191.8" cy="372.7" r="3.00"/><circle cx="192.1" cy="373.7" r="3.00"/><circle cx="192.5" cy="372.8" r="3.00"/><circle cx="192.8" cy="374.4" r="3.00"/><circle cx="193.1" cy="375.0" r="3.00"/><circle cx="193.5" cy="376.1" r="3.00"/><circle cx="193.8" cy="374.9" r="3.00"/><circle cx="194.2" cy="373.6" r="3.00"/><circle cx="194.5" cy="374.1" r="3.00"/><circle cx="194.8" cy="377.1" r="3.00"/><circle cx="195.2" cy="377.3" r="3.00"/><circle cx="195.5" cy="377.4" r="3.00"/><circle cx="195.9" cy="375.2" r="3.00"/><circle cx="196.2" cy="377.0" r="3.00"/><circle cx="196.5" cy="377.5" r="3.00"/><circle cx="196.9" cy="376.3" r="3.00"/><circle cx="197.2" cy="377.8" r="3.00"/><circle cx="197.6" cy="377.9" r="3.00"/><circle cx="197.9" cy="377.2" r="3.00"/><circle cx="198.2" cy="376.8" r="3.00"/><circle cx="198.6" cy="379.2" r="3.00"/><circle cx="198.9" cy="379.4" r="3.00"/><circle cx="199.2" cy="379.6" r="3.00"/><circle cx="199.6" cy="377.6" r="3.00"/><circle cx="199.9" cy="379.0" r="3.00"/><circle cx="200.3" cy="378.4" r="3.00"/><circle cx="200.6" cy="380.6" r="3.00"/><circle cx="200.9" cy="378.8" r="3.00"/><circle cx="201.3" cy="380.8" r="3.00"/><circle cx="201.6" cy="380.0" r="3.00"/><circle cx="202.0" cy="381.5" r="3.00"/><circle cx="202.3" cy="380.8" r="3.00"/><circle cx="202.6" cy="380.3" r="3.00"/><circle cx="203.0" cy="382.3" r="3.00"/><circle cx="203.3" cy="380.1" r="3.00"/><circle cx="203.7" cy="380.7" r="3.00"/><circle cx="204.0" cy="381.4" r="3.00"/><circle cx="204.3" cy="381.5" r="3.00"/></g><g fill="#dc2920"><circle cx="82.0" cy="273.6" r="3.00"/><circle cx="117.0" cy="307.3" r="3.00"/><circle cx="140.4" cy="324.1" r="3.00"/><circle cx="175.9" cy="352.9" r="3.00"/><circle cx="199.4" cy="366.9" r="3.00"/></g></g>
<g clip-path="url(#cp11)"><g fill="#231f20"><circle cx="242.6" cy="247.0" r="3.00"/><circle cx="243.0" cy="250.5" r="3.00"/><circle cx="243.3" cy="251.5" r="3.00"/><circle cx="243.7" cy="252.9" r="3.00"/><circle cx="244.0" cy="253.5" r="3.00"/><circle cx="244.3" cy="253.6" r="3.00"/><circle cx="244.7" cy="255.5" r="3.00"/><circle cx="245.0" cy="256.5" r="3.00"/><circle cx="245.3" cy="255.8" r="3.00"/><circle cx="245.7" cy="256.2" r="3.00"/><circle cx="246.0" cy="258.0" r="3.00"/><circle cx="246.4" cy="259.1" r="3.00"/><circle cx="246.7" cy="258.3" r="3.00"/><circle cx="247.0" cy="260.8" r="3.00"/><circle cx="247.4" cy="260.8" r="3.00"/><circle cx="247.7" cy="260.3" r="3.00"/><circle cx="248.1" cy="261.1" r="3.00"/><circle cx="248.4" cy="261.6" r="3.00"/><circle cx="248.7" cy="262.9" r="3.00"/><circle cx="249.1" cy="262.9" r="3.00"/><circle cx="249.4" cy="264.5" r="3.00"/><circle cx="249.8" cy="263.5" r="3.00"/><circle cx="250.1" cy="264.3" r="3.00"/><circle cx="250.4" cy="264.3" r="3.00"/><circle cx="250.8" cy="265.4" r="3.00"/><circle cx="251.1" cy="266.0" r="3.00"/><circle cx="251.5" cy="268.1" r="3.00"/><circle cx="251.8" cy="267.5" r="3.00"/><circle cx="252.1" cy="269.5" r="3.00"/><circle cx="252.5" cy="267.3" r="3.00"/><circle cx="252.8" cy="268.2" r="3.00"/><circle cx="253.2" cy="269.5" r="3.00"/><circle cx="253.5" cy="269.0" r="3.00"/><circle cx="253.8" cy="269.3" r="3.00"/><circle cx="254.2" cy="271.5" r="3.00"/><circle cx="254.5" cy="270.8" r="3.00"/><circle cx="254.8" cy="273.2" r="3.00"/><circle cx="255.2" cy="273.9" r="3.00"/><circle cx="255.5" cy="271.7" r="3.00"/><circle cx="255.9" cy="274.2" r="3.00"/><circle cx="256.2" cy="273.9" r="3.00"/><circle cx="256.5" cy="274.0" r="3.00"/><circle cx="256.9" cy="272.6" r="3.00"/><circle cx="257.2" cy="273.6" r="3.00"/><circle cx="257.6" cy="274.9" r="3.00"/><circle cx="257.9" cy="274.2" r="3.00"/><circle cx="258.2" cy="276.9" r="3.00"/><circle cx="258.6" cy="278.0" r="3.00"/><circle cx="258.9" cy="277.6" r="3.00"/><circle cx="259.3" cy="276.5" r="3.00"/><circle cx="259.6" cy="278.0" r="3.00"/><circle cx="259.9" cy="275.5" r="3.00"/><circle cx="260.3" cy="277.8" r="3.00"/><circle cx="260.6" cy="278.0" r="3.00"/><circle cx="261.0" cy="277.6" r="3.00"/><circle cx="261.3" cy="279.0" r="3.00"/><circle cx="261.6" cy="280.9" r="3.00"/><circle cx="262.0" cy="281.1" r="3.00"/><circle cx="262.3" cy="280.2" r="3.00"/><circle cx="262.6" cy="281.5" r="3.00"/><circle cx="263.0" cy="282.0" r="3.00"/><circle cx="263.3" cy="281.6" r="3.00"/><circle cx="263.7" cy="279.9" r="3.00"/><circle cx="264.0" cy="279.9" r="3.00"/><circle cx="264.3" cy="283.1" r="3.00"/><circle cx="264.7" cy="283.7" r="3.00"/><circle cx="265.0" cy="284.7" r="3.00"/><circle cx="265.4" cy="285.2" r="3.00"/><circle cx="265.7" cy="283.8" r="3.00"/><circle cx="266.0" cy="285.0" r="3.00"/><circle cx="266.4" cy="283.8" r="3.00"/><circle cx="266.7" cy="285.9" r="3.00"/><circle cx="267.1" cy="283.9" r="3.00"/><circle cx="267.4" cy="284.5" r="3.00"/><circle cx="267.7" cy="283.1" r="3.00"/><circle cx="268.1" cy="283.9" r="3.00"/><circle cx="268.4" cy="287.4" r="3.00"/><circle cx="268.8" cy="285.7" r="3.00"/><circle cx="269.1" cy="286.9" r="3.00"/><circle cx="269.4" cy="288.7" r="3.00"/><circle cx="269.8" cy="286.6" r="3.00"/><circle cx="270.1" cy="284.9" r="3.00"/><circle cx="270.4" cy="289.0" r="3.00"/><circle cx="270.8" cy="290.0" r="3.00"/><circle cx="271.1" cy="289.3" r="3.00"/><circle cx="271.5" cy="288.5" r="3.00"/><circle cx="271.8" cy="289.6" r="3.00"/><circle cx="272.1" cy="287.8" r="3.00"/><circle cx="272.5" cy="290.1" r="3.00"/><circle cx="272.8" cy="287.6" r="3.00"/><circle cx="273.2" cy="291.2" r="3.00"/><circle cx="273.5" cy="291.4" r="3.00"/><circle cx="273.8" cy="287.8" r="3.00"/><circle cx="274.2" cy="292.2" r="3.00"/><circle cx="274.5" cy="289.3" r="3.00"/><circle cx="274.9" cy="292.7" r="3.00"/><circle cx="275.2" cy="292.5" r="3.00"/><circle cx="275.5" cy="290.6" r="3.00"/><circle cx="275.9" cy="289.9" r="3.00"/><circle cx="276.2" cy="291.1" r="3.00"/><circle cx="276.6" cy="289.5" r="3.00"/><circle cx="276.9" cy="289.8" r="3.00"/><circle cx="277.2" cy="293.9" r="3.00"/><circle cx="277.6" cy="292.7" r="3.00"/><circle cx="277.9" cy="292.9" r="3.00"/><circle cx="278.3" cy="294.4" r="3.00"/><circle cx="278.6" cy="292.4" r="3.00"/><circle cx="278.9" cy="291.6" r="3.00"/><circle cx="279.3" cy="292.5" r="3.00"/><circle cx="279.6" cy="292.4" r="3.00"/><circle cx="279.9" cy="295.1" r="3.00"/><circle cx="280.3" cy="293.9" r="3.00"/><circle cx="280.6" cy="295.9" r="3.00"/><circle cx="281.0" cy="293.4" r="3.00"/><circle cx="281.3" cy="292.8" r="3.00"/><circle cx="281.6" cy="295.0" r="3.00"/><circle cx="282.0" cy="295.2" r="3.00"/><circle cx="282.3" cy="294.3" r="3.00"/><circle cx="282.7" cy="293.8" r="3.00"/><circle cx="283.0" cy="297.8" r="3.00"/><circle cx="283.3" cy="294.9" r="3.00"/><circle cx="283.7" cy="294.5" r="3.00"/><circle cx="284.0" cy="297.9" r="3.00"/><circle cx="284.4" cy="297.7" r="3.00"/><circle cx="284.7" cy="297.1" r="3.00"/><circle cx="285.0" cy="296.7" r="3.00"/><circle cx="285.4" cy="297.5" r="3.00"/><circle cx="285.7" cy="297.2" r="3.00"/><circle cx="286.1" cy="298.3" r="3.00"/><circle cx="286.4" cy="298.3" r="3.00"/><circle cx="286.7" cy="299.1" r="3.00"/><circle cx="287.1" cy="297.7" r="3.00"/><circle cx="287.4" cy="296.6" r="3.00"/><circle cx="287.7" cy="296.6" r="3.00"/><circle cx="288.1" cy="299.6" r="3.00"/><circle cx="288.4" cy="301.4" r="3.00"/><circle cx="288.8" cy="298.9" r="3.00"/><circle cx="289.1" cy="297.6" r="3.00"/><circle cx="289.4" cy="297.8" r="3.00"/><circle cx="289.8" cy="299.3" r="3.00"/><circle cx="290.1" cy="301.0" r="3.00"/><circle cx="290.5" cy="302.6" r="3.00"/><circle cx="290.8" cy="301.0" r="3.00"/><circle cx="291.1" cy="300.3" r="3.00"/><circle cx="291.5" cy="300.3" r="3.00"/><circle cx="291.8" cy="300.8" r="3.00"/><circle cx="292.2" cy="300.4" r="3.00"/><circle cx="292.5" cy="303.8" r="3.00"/><circle cx="292.8" cy="302.1" r="3.00"/><circle cx="293.2" cy="302.7" r="3.00"/><circle cx="293.5" cy="302.7" r="3.00"/><circle cx="293.9" cy="303.1" r="3.00"/><circle cx="294.2" cy="302.7" r="3.00"/><circle cx="294.5" cy="305.2" r="3.00"/><circle cx="294.9" cy="305.9" r="3.00"/><circle cx="295.2" cy="304.2" r="3.00"/><circle cx="295.6" cy="303.7" r="3.00"/><circle cx="295.9" cy="304.7" r="3.00"/><circle cx="296.2" cy="304.5" r="3.00"/><circle cx="296.6" cy="305.3" r="3.00"/><circle cx="296.9" cy="303.6" r="3.00"/><circle cx="297.2" cy="303.9" r="3.00"/><circle cx="297.6" cy="307.2" r="3.00"/><circle cx="297.9" cy="305.2" r="3.00"/><circle cx="298.3" cy="305.9" r="3.00"/><circle cx="298.6" cy="308.3" r="3.00"/><circle cx="298.9" cy="308.4" r="3.00"/><circle cx="299.3" cy="305.3" r="3.00"/><circle cx="299.6" cy="306.0" r="3.00"/><circle cx="300.0" cy="308.8" r="3.00"/><circle cx="300.3" cy="307.0" r="3.00"/><circle cx="300.6" cy="305.9" r="3.00"/><circle cx="301.0" cy="307.8" r="3.00"/><circle cx="301.3" cy="307.7" r="3.00"/><circle cx="301.7" cy="307.6" r="3.00"/><circle cx="302.0" cy="308.5" r="3.00"/><circle cx="302.3" cy="307.1" r="3.00"/><circle cx="302.7" cy="310.2" r="3.00"/><circle cx="303.0" cy="310.6" r="3.00"/><circle cx="303.4" cy="311.4" r="3.00"/><circle cx="303.7" cy="310.1" r="3.00"/><circle cx="304.0" cy="310.9" r="3.00"/><circle cx="304.4" cy="310.3" r="3.00"/><circle cx="304.7" cy="312.0" r="3.00"/><circle cx="305.0" cy="310.8" r="3.00"/><circle cx="305.4" cy="311.0" r="3.00"/><circle cx="305.7" cy="312.1" r="3.00"/><circle cx="306.1" cy="310.0" r="3.00"/><circle cx="306.4" cy="311.6" r="3.00"/><circle cx="306.7" cy="311.4" r="3.00"/><circle cx="307.1" cy="310.0" r="3.00"/><circle cx="307.4" cy="310.6" r="3.00"/><circle cx="307.8" cy="311.9" r="3.00"/><circle cx="308.1" cy="315.0" r="3.00"/><circle cx="308.4" cy="312.3" r="3.00"/><circle cx="308.8" cy="314.1" r="3.00"/><circle cx="309.1" cy="314.5" r="3.00"/><circle cx="309.5" cy="313.1" r="3.00"/><circle cx="309.8" cy="315.3" r="3.00"/><circle cx="310.1" cy="312.9" r="3.00"/><circle cx="310.5" cy="312.9" r="3.00"/><circle cx="310.8" cy="316.0" r="3.00"/><circle cx="311.2" cy="316.2" r="3.00"/><circle cx="311.5" cy="312.7" r="3.00"/><circle cx="311.8" cy="317.1" r="3.00"/><circle cx="312.2" cy="313.7" r="3.00"/><circle cx="312.5" cy="314.1" r="3.00"/><circle cx="312.8" cy="314.5" r="3.00"/><circle cx="313.2" cy="317.8" r="3.00"/><circle cx="313.5" cy="313.7" r="3.00"/><circle cx="313.9" cy="317.3" r="3.00"/><circle cx="314.2" cy="314.3" r="3.00"/><circle cx="314.5" cy="316.2" r="3.00"/><circle cx="314.9" cy="317.2" r="3.00"/><circle cx="315.2" cy="318.0" r="3.00"/><circle cx="315.6" cy="318.9" r="3.00"/><circle cx="315.9" cy="318.0" r="3.00"/><circle cx="316.2" cy="318.7" r="3.00"/><circle cx="316.6" cy="319.4" r="3.00"/><circle cx="316.9" cy="316.4" r="3.00"/><circle cx="317.3" cy="315.1" r="3.00"/><circle cx="317.6" cy="317.4" r="3.00"/><circle cx="317.9" cy="316.1" r="3.00"/><circle cx="318.3" cy="315.5" r="3.00"/><circle cx="318.6" cy="319.8" r="3.00"/><circle cx="319.0" cy="318.3" r="3.00"/><circle cx="319.3" cy="318.5" r="3.00"/><circle cx="319.6" cy="319.4" r="3.00"/><circle cx="320.0" cy="317.3" r="3.00"/><circle cx="320.3" cy="318.2" r="3.00"/><circle cx="320.7" cy="320.1" r="3.00"/><circle cx="321.0" cy="316.6" r="3.00"/><circle cx="321.3" cy="320.6" r="3.00"/><circle cx="321.7" cy="321.0" r="3.00"/><circle cx="322.0" cy="317.8" r="3.00"/><circle cx="322.3" cy="319.5" r="3.00"/><circle cx="322.7" cy="318.5" r="3.00"/><circle cx="323.0" cy="321.5" r="3.00"/><circle cx="323.4" cy="321.4" r="3.00"/><circle cx="323.7" cy="320.5" r="3.00"/><circle cx="324.0" cy="320.4" r="3.00"/><circle cx="324.4" cy="319.6" r="3.00"/><circle cx="324.7" cy="320.7" r="3.00"/><circle cx="325.1" cy="321.2" r="3.00"/><circle cx="325.4" cy="317.9" r="3.00"/><circle cx="325.7" cy="321.8" r="3.00"/><circle cx="326.1" cy="320.2" r="3.00"/><circle cx="326.4" cy="321.6" r="3.00"/><circle cx="326.8" cy="319.0" r="3.00"/><circle cx="327.1" cy="320.0" r="3.00"/><circle cx="327.4" cy="320.1" r="3.00"/><circle cx="327.8" cy="321.0" r="3.00"/><circle cx="328.1" cy="321.0" r="3.00"/><circle cx="328.5" cy="318.6" r="3.00"/><circle cx="328.8" cy="321.3" r="3.00"/><circle cx="329.1" cy="320.4" r="3.00"/><circle cx="329.5" cy="323.1" r="3.00"/><circle cx="329.8" cy="321.2" r="3.00"/><circle cx="330.1" cy="320.2" r="3.00"/><circle cx="330.5" cy="321.6" r="3.00"/><circle cx="330.8" cy="320.5" r="3.00"/><circle cx="331.2" cy="320.9" r="3.00"/><circle cx="331.5" cy="323.6" r="3.00"/><circle cx="331.8" cy="322.0" r="3.00"/><circle cx="332.2" cy="324.1" r="3.00"/><circle cx="332.5" cy="324.0" r="3.00"/><circle cx="332.9" cy="321.3" r="3.00"/><circle cx="333.2" cy="323.6" r="3.00"/><circle cx="333.5" cy="324.4" r="3.00"/><circle cx="333.9" cy="322.6" r="3.00"/><circle cx="334.2" cy="321.6" r="3.00"/><circle cx="334.6" cy="323.7" r="3.00"/><circle cx="334.9" cy="324.2" r="3.00"/><circle cx="335.2" cy="324.1" r="3.00"/><circle cx="335.6" cy="325.2" r="3.00"/><circle cx="335.9" cy="325.2" r="3.00"/><circle cx="336.3" cy="323.3" r="3.00"/><circle cx="336.6" cy="324.6" r="3.00"/><circle cx="336.9" cy="323.7" r="3.00"/><circle cx="337.3" cy="321.6" r="3.00"/><circle cx="337.6" cy="322.2" r="3.00"/><circle cx="338.0" cy="322.2" r="3.00"/><circle cx="338.3" cy="321.8" r="3.00"/><circle cx="338.6" cy="323.2" r="3.00"/><circle cx="339.0" cy="324.3" r="3.00"/><circle cx="339.3" cy="326.1" r="3.00"/><circle cx="339.6" cy="323.2" r="3.00"/><circle cx="340.0" cy="326.2" r="3.00"/><circle cx="340.3" cy="325.4" r="3.00"/><circle cx="340.7" cy="325.7" r="3.00"/><circle cx="341.0" cy="322.7" r="3.00"/><circle cx="341.3" cy="323.2" r="3.00"/><circle cx="341.7" cy="326.2" r="3.00"/><circle cx="342.0" cy="325.7" r="3.00"/><circle cx="342.4" cy="325.4" r="3.00"/><circle cx="342.7" cy="327.5" r="3.00"/><circle cx="343.0" cy="327.8" r="3.00"/><circle cx="343.4" cy="325.3" r="3.00"/><circle cx="343.7" cy="325.8" r="3.00"/><circle cx="344.1" cy="325.3" r="3.00"/><circle cx="344.4" cy="324.3" r="3.00"/><circle cx="344.7" cy="327.9" r="3.00"/><circle cx="345.1" cy="324.5" r="3.00"/><circle cx="345.4" cy="327.8" r="3.00"/><circle cx="345.8" cy="324.7" r="3.00"/><circle cx="346.1" cy="328.4" r="3.00"/><circle cx="346.4" cy="327.4" r="3.00"/><circle cx="346.8" cy="326.0" r="3.00"/><circle cx="347.1" cy="328.6" r="3.00"/><circle cx="347.4" cy="329.1" r="3.00"/><circle cx="347.8" cy="328.6" r="3.00"/><circle cx="348.1" cy="328.4" r="3.00"/><circle cx="348.5" cy="326.0" r="3.00"/><circle cx="348.8" cy="329.1" r="3.00"/><circle cx="349.1" cy="327.2" r="3.00"/><circle cx="349.5" cy="326.7" r="3.00"/><circle cx="349.8" cy="330.7" r="3.00"/><circle cx="350.2" cy="329.6" r="3.00"/><circle cx="350.5" cy="326.8" r="3.00"/><circle cx="350.8" cy="328.5" r="3.00"/><circle cx="351.2" cy="330.5" r="3.00"/><circle cx="351.5" cy="329.2" r="3.00"/><circle cx="351.9" cy="329.8" r="3.00"/><circle cx="352.2" cy="327.9" r="3.00"/><circle cx="352.5" cy="328.2" r="3.00"/><circle cx="352.9" cy="330.6" r="3.00"/><circle cx="353.2" cy="327.7" r="3.00"/><circle cx="353.6" cy="332.2" r="3.00"/><circle cx="353.9" cy="328.3" r="3.00"/><circle cx="354.2" cy="332.2" r="3.00"/><circle cx="354.6" cy="330.3" r="3.00"/><circle cx="354.9" cy="331.1" r="3.00"/><circle cx="355.2" cy="329.3" r="3.00"/><circle cx="355.6" cy="331.1" r="3.00"/><circle cx="355.9" cy="332.2" r="3.00"/><circle cx="356.3" cy="330.3" r="3.00"/><circle cx="356.6" cy="332.0" r="3.00"/><circle cx="356.9" cy="332.0" r="3.00"/><circle cx="357.3" cy="330.3" r="3.00"/><circle cx="357.6" cy="332.6" r="3.00"/><circle cx="358.0" cy="331.9" r="3.00"/><circle cx="358.3" cy="330.8" r="3.00"/><circle cx="358.6" cy="330.9" r="3.00"/><circle cx="359.0" cy="331.7" r="3.00"/><circle cx="359.3" cy="331.7" r="3.00"/><circle cx="359.7" cy="334.7" r="3.00"/><circle cx="360.0" cy="332.8" r="3.00"/><circle cx="360.3" cy="332.7" r="3.00"/><circle cx="360.7" cy="335.0" r="3.00"/><circle cx="361.0" cy="331.6" r="3.00"/><circle cx="361.4" cy="332.8" r="3.00"/><circle cx="361.7" cy="335.6" r="3.00"/><circle cx="362.0" cy="335.6" r="3.00"/><circle cx="362.4" cy="335.9" r="3.00"/><circle cx="362.7" cy="335.8" r="3.00"/><circle cx="363.1" cy="333.9" r="3.00"/><circle cx="363.4" cy="336.4" r="3.00"/><circle cx="363.7" cy="335.1" r="3.00"/><circle cx="364.1" cy="335.8" r="3.00"/><circle cx="364.4" cy="334.2" r="3.00"/><circle cx="364.7" cy="334.1" r="3.00"/><circle cx="365.1" cy="334.6" r="3.00"/><circle cx="365.4" cy="334.9" r="3.00"/><circle cx="365.8" cy="335.3" r="3.00"/><circle cx="366.1" cy="334.4" r="3.00"/><circle cx="366.4" cy="335.8" r="3.00"/><circle cx="366.8" cy="337.3" r="3.00"/><circle cx="367.1" cy="337.9" r="3.00"/><circle cx="367.5" cy="335.8" r="3.00"/><circle cx="367.8" cy="335.0" r="3.00"/><circle cx="368.1" cy="335.5" r="3.00"/><circle cx="368.5" cy="335.7" r="3.00"/><circle cx="368.8" cy="335.5" r="3.00"/><circle cx="369.2" cy="338.9" r="3.00"/><circle cx="369.5" cy="335.5" r="3.00"/><circle cx="369.8" cy="339.4" r="3.00"/><circle cx="370.2" cy="337.1" r="3.00"/><circle cx="370.5" cy="337.9" r="3.00"/><circle cx="370.9" cy="339.4" r="3.00"/><circle cx="371.2" cy="337.5" r="3.00"/><circle cx="371.5" cy="339.7" r="3.00"/><circle cx="371.9" cy="340.2" r="3.00"/><circle cx="372.2" cy="337.3" r="3.00"/><circle cx="372.5" cy="336.6" r="3.00"/><circle cx="372.9" cy="338.8" r="3.00"/><circle cx="373.2" cy="337.2" r="3.00"/><circle cx="373.6" cy="336.7" r="3.00"/><circle cx="373.9" cy="337.9" r="3.00"/><circle cx="374.2" cy="339.4" r="3.00"/><circle cx="374.6" cy="337.1" r="3.00"/><circle cx="374.9" cy="340.5" r="3.00"/><circle cx="375.3" cy="340.7" r="3.00"/><circle cx="375.6" cy="338.8" r="3.00"/><circle cx="375.9" cy="338.2" r="3.00"/><circle cx="376.3" cy="341.0" r="3.00"/><circle cx="376.6" cy="340.9" r="3.00"/><circle cx="377.0" cy="342.3" r="3.00"/><circle cx="377.3" cy="342.2" r="3.00"/><circle cx="377.6" cy="341.2" r="3.00"/><circle cx="378.0" cy="342.4" r="3.00"/><circle cx="378.3" cy="342.9" r="3.00"/><circle cx="378.7" cy="339.5" r="3.00"/><circle cx="379.0" cy="339.2" r="3.00"/><circle cx="379.3" cy="342.8" r="3.00"/><circle cx="379.7" cy="341.9" r="3.00"/><circle cx="380.0" cy="343.6" r="3.00"/><circle cx="380.4" cy="341.8" r="3.00"/><circle cx="380.7" cy="343.4" r="3.00"/><circle cx="381.0" cy="341.4" r="3.00"/><circle cx="381.4" cy="341.0" r="3.00"/><circle cx="381.7" cy="341.0" r="3.00"/><circle cx="382.0" cy="343.9" r="3.00"/><circle cx="382.4" cy="340.8" r="3.00"/><circle cx="382.7" cy="340.8" r="3.00"/><circle cx="383.1" cy="343.6" r="3.00"/><circle cx="383.4" cy="340.4" r="3.00"/><circle cx="383.7" cy="343.5" r="3.00"/><circle cx="384.1" cy="344.0" r="3.00"/><circle cx="384.4" cy="344.6" r="3.00"/><circle cx="384.8" cy="341.0" r="3.00"/><circle cx="385.1" cy="341.0" r="3.00"/></g><g fill="#231f20"><circle cx="265.0" cy="272.4" r="3.00"/><circle cx="300.0" cy="297.0" r="3.00"/><circle cx="324.0" cy="306.0" r="3.00"/><circle cx="383.1" cy="331.8" r="3.00"/></g><g fill="#dc2920"><circle cx="242.6" cy="246.4" r="3.00"/><circle cx="243.0" cy="250.1" r="3.00"/><circle cx="243.3" cy="251.6" r="3.00"/><circle cx="243.7" cy="252.0" r="3.00"/><circle cx="244.0" cy="252.9" r="3.00"/><circle cx="244.3" cy="253.9" r="3.00"/><circle cx="244.7" cy="255.5" r="3.00"/><circle cx="245.0" cy="256.1" r="3.00"/><circle cx="245.3" cy="256.2" r="3.00"/><circle cx="245.7" cy="257.6" r="3.00"/><circle cx="246.0" cy="257.1" r="3.00"/><circle cx="246.4" cy="257.5" r="3.00"/><circle cx="246.7" cy="258.1" r="3.00"/><circle cx="247.0" cy="258.9" r="3.00"/><circle cx="247.4" cy="260.6" r="3.00"/><circle cx="247.7" cy="261.1" r="3.00"/><circle cx="248.1" cy="260.3" r="3.00"/><circle cx="248.4" cy="261.5" r="3.00"/><circle cx="248.7" cy="262.8" r="3.00"/><circle cx="249.1" cy="263.5" r="3.00"/><circle cx="249.4" cy="263.8" r="3.00"/><circle cx="249.8" cy="262.9" r="3.00"/><circle cx="250.1" cy="264.5" r="3.00"/><circle cx="250.4" cy="264.1" r="3.00"/><circle cx="250.8" cy="264.2" r="3.00"/><circle cx="251.1" cy="265.8" r="3.00"/><circle cx="251.5" cy="265.1" r="3.00"/><circle cx="251.8" cy="265.6" r="3.00"/><circle cx="252.1" cy="267.6" r="3.00"/><circle cx="252.5" cy="268.0" r="3.00"/><circle cx="252.8" cy="266.8" r="3.00"/><circle cx="253.2" cy="267.3" r="3.00"/><circle cx="253.5" cy="267.8" r="3.00"/><circle cx="253.8" cy="268.5" r="3.00"/><circle cx="254.2" cy="268.2" r="3.00"/><circle cx="254.5" cy="269.8" r="3.00"/><circle cx="254.8" cy="269.3" r="3.00"/><circle cx="255.2" cy="269.7" r="3.00"/><circle cx="255.5" cy="270.9" r="3.00"/><circle cx="255.9" cy="271.6" r="3.00"/><circle cx="256.2" cy="272.4" r="3.00"/><circle cx="256.5" cy="270.6" r="3.00"/><circle cx="256.9" cy="271.3" r="3.00"/><circle cx="257.2" cy="271.8" r="3.00"/><circle cx="257.6" cy="273.4" r="3.00"/><circle cx="257.9" cy="272.2" r="3.00"/><circle cx="258.2" cy="274.2" r="3.00"/><circle cx="258.6" cy="273.3" r="3.00"/><circle cx="258.9" cy="275.0" r="3.00"/><circle cx="259.3" cy="274.5" r="3.00"/><circle cx="259.6" cy="274.3" r="3.00"/><circle cx="259.9" cy="274.3" r="3.00"/><circle cx="260.3" cy="274.0" r="3.00"/><circle cx="260.6" cy="274.1" r="3.00"/><circle cx="261.0" cy="275.0" r="3.00"/><circle cx="261.3" cy="277.5" r="3.00"/><circle cx="261.6" cy="276.7" r="3.00"/><circle cx="262.0" cy="275.9" r="3.00"/><circle cx="262.3" cy="275.8" r="3.00"/><circle cx="262.6" cy="278.6" r="3.00"/><circle cx="263.0" cy="277.8" r="3.00"/><circle cx="263.3" cy="276.4" r="3.00"/><circle cx="263.7" cy="276.7" r="3.00"/><circle cx="264.0" cy="277.1" r="3.00"/><circle cx="264.3" cy="279.6" r="3.00"/><circle cx="264.7" cy="279.4" r="3.00"/><circle cx="265.0" cy="277.8" r="3.00"/><circle cx="265.4" cy="278.1" r="3.00"/><circle cx="265.7" cy="278.2" r="3.00"/><circle cx="266.0" cy="279.3" r="3.00"/><circle cx="266.4" cy="279.5" r="3.00"/><circle cx="266.7" cy="281.1" r="3.00"/><circle cx="267.1" cy="280.0" r="3.00"/><circle cx="267.4" cy="281.6" r="3.00"/><circle cx="267.7" cy="280.1" r="3.00"/><circle cx="268.1" cy="281.1" r="3.00"/><circle cx="268.4" cy="282.3" r="3.00"/><circle cx="268.8" cy="282.9" r="3.00"/><circle cx="269.1" cy="283.2" r="3.00"/><circle cx="269.4" cy="283.4" r="3.00"/><circle cx="269.8" cy="281.3" r="3.00"/><circle cx="270.1" cy="283.2" r="3.00"/><circle cx="270.4" cy="282.8" r="3.00"/><circle cx="270.8" cy="284.3" r="3.00"/><circle cx="271.1" cy="282.3" r="3.00"/><circle cx="271.5" cy="282.2" r="3.00"/><circle cx="271.8" cy="283.9" r="3.00"/><circle cx="272.1" cy="282.8" r="3.00"/><circle cx="272.5" cy="282.9" r="3.00"/><circle cx="272.8" cy="284.0" r="3.00"/><circle cx="273.2" cy="285.9" r="3.00"/><circle cx="273.5" cy="284.5" r="3.00"/><circle cx="273.8" cy="286.2" r="3.00"/><circle cx="274.2" cy="284.2" r="3.00"/><circle cx="274.5" cy="284.4" r="3.00"/><circle cx="274.9" cy="286.8" r="3.00"/><circle cx="275.2" cy="286.4" r="3.00"/><circle cx="275.5" cy="285.6" r="3.00"/><circle cx="275.9" cy="287.1" r="3.00"/><circle cx="276.2" cy="285.5" r="3.00"/><circle cx="276.6" cy="286.7" r="3.00"/><circle cx="276.9" cy="286.5" r="3.00"/><circle cx="277.2" cy="287.2" r="3.00"/><circle cx="277.6" cy="286.3" r="3.00"/><circle cx="277.9" cy="286.6" r="3.00"/><circle cx="278.3" cy="286.7" r="3.00"/><circle cx="278.6" cy="288.2" r="3.00"/><circle cx="278.9" cy="288.4" r="3.00"/><circle cx="279.3" cy="289.0" r="3.00"/><circle cx="279.6" cy="287.1" r="3.00"/><circle cx="279.9" cy="289.7" r="3.00"/><circle cx="280.3" cy="289.2" r="3.00"/><circle cx="280.6" cy="290.3" r="3.00"/><circle cx="281.0" cy="288.6" r="3.00"/><circle cx="281.3" cy="287.9" r="3.00"/><circle cx="281.6" cy="289.3" r="3.00"/><circle cx="282.0" cy="291.0" r="3.00"/><circle cx="282.3" cy="290.2" r="3.00"/><circle cx="282.7" cy="289.5" r="3.00"/><circle cx="283.0" cy="291.2" r="3.00"/><circle cx="283.3" cy="290.3" r="3.00"/><circle cx="283.7" cy="291.0" r="3.00"/><circle cx="284.0" cy="292.1" r="3.00"/><circle cx="284.4" cy="290.0" r="3.00"/><circle cx="284.7" cy="291.7" r="3.00"/><circle cx="285.0" cy="292.2" r="3.00"/><circle cx="285.4" cy="290.9" r="3.00"/><circle cx="285.7" cy="291.8" r="3.00"/><circle cx="286.1" cy="292.3" r="3.00"/><circle cx="286.4" cy="293.2" r="3.00"/><circle cx="286.7" cy="290.6" r="3.00"/><circle cx="287.1" cy="292.0" r="3.00"/><circle cx="287.4" cy="292.7" r="3.00"/><circle cx="287.7" cy="292.4" r="3.00"/><circle cx="288.1" cy="293.0" r="3.00"/><circle cx="288.4" cy="292.2" r="3.00"/><circle cx="288.8" cy="292.1" r="3.00"/><circle cx="289.1" cy="294.0" r="3.00"/><circle cx="289.4" cy="292.3" r="3.00"/><circle cx="289.8" cy="294.4" r="3.00"/><circle cx="290.1" cy="293.6" r="3.00"/><circle cx="290.5" cy="292.8" r="3.00"/><circle cx="290.8" cy="293.7" r="3.00"/><circle cx="291.1" cy="295.9" r="3.00"/><circle cx="291.5" cy="294.4" r="3.00"/><circle cx="291.8" cy="293.8" r="3.00"/><circle cx="292.2" cy="296.5" r="3.00"/><circle cx="292.5" cy="296.2" r="3.00"/><circle cx="292.8" cy="295.8" r="3.00"/><circle cx="293.2" cy="296.0" r="3.00"/><circle cx="293.5" cy="294.4" r="3.00"/><circle cx="293.9" cy="297.3" r="3.00"/><circle cx="294.2" cy="297.2" r="3.00"/><circle cx="294.5" cy="296.0" r="3.00"/><circle cx="294.9" cy="297.8" r="3.00"/><circle cx="295.2" cy="296.5" r="3.00"/><circle cx="295.6" cy="296.6" r="3.00"/><circle cx="295.9" cy="297.1" r="3.00"/><circle cx="296.2" cy="297.7" r="3.00"/><circle cx="296.6" cy="297.7" r="3.00"/><circle cx="296.9" cy="298.2" r="3.00"/><circle cx="297.2" cy="298.4" r="3.00"/><circle cx="297.6" cy="298.7" r="3.00"/><circle cx="297.9" cy="299.0" r="3.00"/><circle cx="298.3" cy="299.6" r="3.00"/><circle cx="298.6" cy="298.6" r="3.00"/><circle cx="298.9" cy="298.7" r="3.00"/><circle cx="299.3" cy="299.1" r="3.00"/><circle cx="299.6" cy="299.4" r="3.00"/><circle cx="300.0" cy="298.6" r="3.00"/><circle cx="300.3" cy="298.5" r="3.00"/><circle cx="300.6" cy="301.3" r="3.00"/><circle cx="301.0" cy="300.5" r="3.00"/><circle cx="301.3" cy="300.5" r="3.00"/><circle cx="301.7" cy="301.8" r="3.00"/><circle cx="302.0" cy="301.3" r="3.00"/><circle cx="302.3" cy="301.2" r="3.00"/><circle cx="302.7" cy="302.6" r="3.00"/><circle cx="303.0" cy="301.6" r="3.00"/><circle cx="303.4" cy="302.8" r="3.00"/><circle cx="303.7" cy="302.1" r="3.00"/><circle cx="304.0" cy="302.9" r="3.00"/><circle cx="304.4" cy="303.4" r="3.00"/><circle cx="304.7" cy="303.7" r="3.00"/><circle cx="305.0" cy="302.5" r="3.00"/><circle cx="305.4" cy="304.3" r="3.00"/><circle cx="305.7" cy="303.3" r="3.00"/><circle cx="306.1" cy="304.5" r="3.00"/><circle cx="306.4" cy="302.8" r="3.00"/><circle cx="306.7" cy="303.1" r="3.00"/><circle cx="307.1" cy="304.8" r="3.00"/><circle cx="307.4" cy="304.4" r="3.00"/><circle cx="307.8" cy="303.5" r="3.00"/><circle cx="308.1" cy="305.5" r="3.00"/><circle cx="308.4" cy="303.6" r="3.00"/><circle cx="308.8" cy="304.3" r="3.00"/><circle cx="309.1" cy="303.6" r="3.00"/><circle cx="309.5" cy="304.8" r="3.00"/><circle cx="309.8" cy="306.7" r="3.00"/><circle cx="310.1" cy="305.8" r="3.00"/><circle cx="310.5" cy="305.2" r="3.00"/><circle cx="310.8" cy="306.0" r="3.00"/><circle cx="311.2" cy="306.5" r="3.00"/><circle cx="311.5" cy="307.1" r="3.00"/><circle cx="311.8" cy="305.9" r="3.00"/><circle cx="312.2" cy="307.7" r="3.00"/><circle cx="312.5" cy="306.1" r="3.00"/><circle cx="312.8" cy="307.7" r="3.00"/><circle cx="313.2" cy="307.0" r="3.00"/><circle cx="313.5" cy="306.1" r="3.00"/><circle cx="313.9" cy="307.3" r="3.00"/><circle cx="314.2" cy="306.7" r="3.00"/><circle cx="314.5" cy="309.2" r="3.00"/><circle cx="314.9" cy="308.1" r="3.00"/><circle cx="315.2" cy="307.9" r="3.00"/><circle cx="315.6" cy="309.5" r="3.00"/><circle cx="315.9" cy="308.1" r="3.00"/><circle cx="316.2" cy="308.4" r="3.00"/><circle cx="316.6" cy="309.2" r="3.00"/><circle cx="316.9" cy="308.3" r="3.00"/><circle cx="317.3" cy="310.9" r="3.00"/><circle cx="317.6" cy="308.3" r="3.00"/><circle cx="317.9" cy="311.0" r="3.00"/><circle cx="318.3" cy="309.1" r="3.00"/><circle cx="318.6" cy="311.2" r="3.00"/><circle cx="319.0" cy="311.8" r="3.00"/><circle cx="319.3" cy="310.2" r="3.00"/><circle cx="319.6" cy="310.5" r="3.00"/><circle cx="320.0" cy="310.1" r="3.00"/><circle cx="320.3" cy="309.9" r="3.00"/><circle cx="320.7" cy="311.3" r="3.00"/><circle cx="321.0" cy="311.3" r="3.00"/><circle cx="321.3" cy="311.3" r="3.00"/><circle cx="321.7" cy="312.2" r="3.00"/><circle cx="322.0" cy="311.0" r="3.00"/><circle cx="322.3" cy="311.3" r="3.00"/><circle cx="322.7" cy="313.3" r="3.00"/><circle cx="323.0" cy="311.8" r="3.00"/><circle cx="323.4" cy="313.5" r="3.00"/><circle cx="323.7" cy="313.4" r="3.00"/><circle cx="324.0" cy="312.7" r="3.00"/><circle cx="324.4" cy="313.3" r="3.00"/><circle cx="324.7" cy="313.1" r="3.00"/><circle cx="325.1" cy="314.3" r="3.00"/><circle cx="325.4" cy="312.9" r="3.00"/><circle cx="325.7" cy="315.0" r="3.00"/><circle cx="326.1" cy="315.5" r="3.00"/><circle cx="326.4" cy="315.1" r="3.00"/><circle cx="326.8" cy="314.4" r="3.00"/><circle cx="327.1" cy="313.5" r="3.00"/><circle cx="327.4" cy="315.2" r="3.00"/><circle cx="327.8" cy="316.2" r="3.00"/><circle cx="328.1" cy="313.6" r="3.00"/><circle cx="328.5" cy="314.7" r="3.00"/><circle cx="328.8" cy="316.1" r="3.00"/><circle cx="329.1" cy="316.5" r="3.00"/><circle cx="329.5" cy="316.9" r="3.00"/><circle cx="329.8" cy="317.2" r="3.00"/><circle cx="330.1" cy="315.6" r="3.00"/><circle cx="330.5" cy="317.7" r="3.00"/><circle cx="330.8" cy="316.2" r="3.00"/><circle cx="331.2" cy="317.3" r="3.00"/><circle cx="331.5" cy="316.9" r="3.00"/><circle cx="331.8" cy="318.0" r="3.00"/><circle cx="332.2" cy="319.0" r="3.00"/><circle cx="332.5" cy="319.7" r="3.00"/><circle cx="332.9" cy="317.4" r="3.00"/><circle cx="333.2" cy="317.7" r="3.00"/><circle cx="333.5" cy="320.1" r="3.00"/><circle cx="333.9" cy="319.9" r="3.00"/><circle cx="334.2" cy="319.6" r="3.00"/><circle cx="334.6" cy="318.4" r="3.00"/><circle cx="334.9" cy="320.4" r="3.00"/><circle cx="335.2" cy="320.1" r="3.00"/><circle cx="335.6" cy="322.0" r="3.00"/><circle cx="335.9" cy="322.2" r="3.00"/><circle cx="336.3" cy="320.4" r="3.00"/><circle cx="336.6" cy="321.3" r="3.00"/><circle cx="336.9" cy="322.9" r="3.00"/><circle cx="337.3" cy="321.2" r="3.00"/><circle cx="337.6" cy="323.0" r="3.00"/><circle cx="338.0" cy="321.2" r="3.00"/><circle cx="338.3" cy="321.1" r="3.00"/><circle cx="338.6" cy="321.5" r="3.00"/><circle cx="339.0" cy="324.1" r="3.00"/><circle cx="339.3" cy="323.1" r="3.00"/><circle cx="339.6" cy="322.5" r="3.00"/><circle cx="340.0" cy="323.5" r="3.00"/><circle cx="340.3" cy="325.5" r="3.00"/><circle cx="340.7" cy="325.1" r="3.00"/><circle cx="341.0" cy="324.1" r="3.00"/><circle cx="341.3" cy="325.2" r="3.00"/><circle cx="341.7" cy="326.1" r="3.00"/><circle cx="342.0" cy="325.2" r="3.00"/><circle cx="342.4" cy="324.5" r="3.00"/><circle cx="342.7" cy="325.3" r="3.00"/><circle cx="343.0" cy="326.8" r="3.00"/><circle cx="343.4" cy="327.2" r="3.00"/><circle cx="343.7" cy="323.6" r="3.00"/><circle cx="344.1" cy="323.2" r="3.00"/><circle cx="344.4" cy="322.4" r="3.00"/><circle cx="344.7" cy="321.5" r="3.00"/><circle cx="345.1" cy="323.6" r="3.00"/><circle cx="345.4" cy="322.3" r="3.00"/><circle cx="345.8" cy="321.8" r="3.00"/><circle cx="346.1" cy="323.7" r="3.00"/><circle cx="346.4" cy="322.6" r="3.00"/><circle cx="346.8" cy="322.0" r="3.00"/><circle cx="347.1" cy="324.4" r="3.00"/><circle cx="347.4" cy="323.6" r="3.00"/><circle cx="347.8" cy="322.7" r="3.00"/><circle cx="348.1" cy="325.1" r="3.00"/><circle cx="348.5" cy="325.3" r="3.00"/><circle cx="348.8" cy="323.7" r="3.00"/><circle cx="349.1" cy="324.0" r="3.00"/><circle cx="349.5" cy="323.1" r="3.00"/><circle cx="349.8" cy="324.0" r="3.00"/><circle cx="350.2" cy="323.4" r="3.00"/><circle cx="350.5" cy="324.6" r="3.00"/><circle cx="350.8" cy="324.4" r="3.00"/><circle cx="351.2" cy="323.9" r="3.00"/><circle cx="351.5" cy="325.3" r="3.00"/><circle cx="351.9" cy="325.4" r="3.00"/><circle cx="352.2" cy="324.6" r="3.00"/><circle cx="352.5" cy="326.6" r="3.00"/><circle cx="352.9" cy="325.5" r="3.00"/><circle cx="353.2" cy="326.6" r="3.00"/><circle cx="353.6" cy="325.7" r="3.00"/><circle cx="353.9" cy="327.2" r="3.00"/><circle cx="354.2" cy="327.2" r="3.00"/><circle cx="354.6" cy="325.8" r="3.00"/><circle cx="354.9" cy="326.6" r="3.00"/><circle cx="355.2" cy="325.4" r="3.00"/><circle cx="355.6" cy="326.0" r="3.00"/><circle cx="355.9" cy="326.3" r="3.00"/><circle cx="356.3" cy="325.3" r="3.00"/><circle cx="356.6" cy="327.8" r="3.00"/><circle cx="356.9" cy="325.2" r="3.00"/><circle cx="357.3" cy="327.9" r="3.00"/><circle cx="357.6" cy="328.1" r="3.00"/><circle cx="358.0" cy="325.4" r="3.00"/><circle cx="358.3" cy="327.9" r="3.00"/><circle cx="358.6" cy="327.1" r="3.00"/><circle cx="359.0" cy="327.5" r="3.00"/><circle cx="359.3" cy="327.9" r="3.00"/><circle cx="359.7" cy="327.2" r="3.00"/><circle cx="360.0" cy="326.2" r="3.00"/><circle cx="360.3" cy="327.7" r="3.00"/><circle cx="360.7" cy="327.1" r="3.00"/><circle cx="361.0" cy="326.2" r="3.00"/><circle cx="361.4" cy="327.9" r="3.00"/><circle cx="361.7" cy="328.3" r="3.00"/><circle cx="362.0" cy="328.0" r="3.00"/><circle cx="362.4" cy="327.1" r="3.00"/><circle cx="362.7" cy="327.5" r="3.00"/><circle cx="363.1" cy="326.8" r="3.00"/><circle cx="363.4" cy="328.8" r="3.00"/><circle cx="363.7" cy="327.0" r="3.00"/><circle cx="364.1" cy="328.8" r="3.00"/><circle cx="364.4" cy="330.0" r="3.00"/><circle cx="364.7" cy="328.2" r="3.00"/><circle cx="365.1" cy="327.4" r="3.00"/><circle cx="365.4" cy="329.6" r="3.00"/><circle cx="365.8" cy="327.7" r="3.00"/><circle cx="366.1" cy="327.9" r="3.00"/><circle cx="366.4" cy="329.6" r="3.00"/><circle cx="366.8" cy="328.3" r="3.00"/><circle cx="367.1" cy="329.8" r="3.00"/><circle cx="367.5" cy="329.0" r="3.00"/><circle cx="367.8" cy="329.4" r="3.00"/><circle cx="368.1" cy="330.4" r="3.00"/><circle cx="368.5" cy="329.8" r="3.00"/><circle cx="368.8" cy="330.0" r="3.00"/><circle cx="369.2" cy="331.1" r="3.00"/><circle cx="369.5" cy="328.7" r="3.00"/><circle cx="369.8" cy="330.6" r="3.00"/><circle cx="370.2" cy="330.6" r="3.00"/><circle cx="370.5" cy="328.8" r="3.00"/><circle cx="370.9" cy="330.5" r="3.00"/><circle cx="371.2" cy="330.6" r="3.00"/><circle cx="371.5" cy="329.4" r="3.00"/><circle cx="371.9" cy="331.0" r="3.00"/><circle cx="372.2" cy="329.2" r="3.00"/><circle cx="372.5" cy="330.8" r="3.00"/><circle cx="372.9" cy="331.1" r="3.00"/><circle cx="373.2" cy="331.4" r="3.00"/><circle cx="373.6" cy="331.5" r="3.00"/><circle cx="373.9" cy="329.6" r="3.00"/><circle cx="374.2" cy="331.2" r="3.00"/><circle cx="374.6" cy="332.5" r="3.00"/><circle cx="374.9" cy="332.6" r="3.00"/><circle cx="375.3" cy="330.6" r="3.00"/><circle cx="375.6" cy="330.3" r="3.00"/><circle cx="375.9" cy="330.2" r="3.00"/><circle cx="376.3" cy="333.0" r="3.00"/><circle cx="376.6" cy="332.5" r="3.00"/><circle cx="377.0" cy="330.9" r="3.00"/><circle cx="377.3" cy="331.0" r="3.00"/><circle cx="377.6" cy="331.1" r="3.00"/><circle cx="378.0" cy="333.1" r="3.00"/><circle cx="378.3" cy="331.4" r="3.00"/><circle cx="378.7" cy="331.6" r="3.00"/><circle cx="379.0" cy="331.2" r="3.00"/><circle cx="379.3" cy="332.6" r="3.00"/><circle cx="379.7" cy="332.1" r="3.00"/><circle cx="380.0" cy="333.6" r="3.00"/><circle cx="380.4" cy="332.0" r="3.00"/><circle cx="380.7" cy="334.3" r="3.00"/><circle cx="381.0" cy="331.8" r="3.00"/></g><g fill="#dc2920"><circle cx="265.0" cy="266.7" r="3.00"/><circle cx="300.0" cy="289.5" r="3.00"/><circle cx="324.0" cy="298.7" r="3.00"/><circle cx="358.8" cy="313.8" r="3.00"/><circle cx="340.6" cy="331.2" r="3.00"/></g></g>
<g clip-path="url(#cp12)"><g fill="#231f20"><circle cx="425.6" cy="246.4" r="3.00"/><circle cx="426.0" cy="251.0" r="3.00"/><circle cx="426.3" cy="252.9" r="3.00"/><circle cx="426.7" cy="253.9" r="3.00"/><circle cx="427.0" cy="254.6" r="3.00"/><circle cx="427.3" cy="255.4" r="3.00"/><circle cx="427.7" cy="256.3" r="3.00"/><circle cx="428.0" cy="257.9" r="3.00"/><circle cx="428.3" cy="259.3" r="3.00"/><circle cx="428.7" cy="260.4" r="3.00"/><circle cx="429.0" cy="260.1" r="3.00"/><circle cx="429.4" cy="261.2" r="3.00"/><circle cx="429.7" cy="262.7" r="3.00"/><circle cx="430.0" cy="262.8" r="3.00"/><circle cx="430.4" cy="263.9" r="3.00"/><circle cx="430.7" cy="263.7" r="3.00"/><circle cx="431.1" cy="266.0" r="3.00"/><circle cx="431.4" cy="266.5" r="3.00"/><circle cx="431.7" cy="267.2" r="3.00"/><circle cx="432.1" cy="267.1" r="3.00"/><circle cx="432.4" cy="268.2" r="3.00"/><circle cx="432.8" cy="268.1" r="3.00"/><circle cx="433.1" cy="269.0" r="3.00"/><circle cx="433.4" cy="270.0" r="3.00"/><circle cx="433.8" cy="269.7" r="3.00"/><circle cx="434.1" cy="270.6" r="3.00"/><circle cx="434.5" cy="272.4" r="3.00"/><circle cx="434.8" cy="272.3" r="3.00"/><circle cx="435.1" cy="272.2" r="3.00"/><circle cx="435.5" cy="272.7" r="3.00"/><circle cx="435.8" cy="273.7" r="3.00"/><circle cx="436.2" cy="275.0" r="3.00"/><circle cx="436.5" cy="273.6" r="3.00"/><circle cx="436.8" cy="275.0" r="3.00"/><circle cx="437.2" cy="275.2" r="3.00"/><circle cx="437.5" cy="274.9" r="3.00"/><circle cx="437.8" cy="278.1" r="3.00"/><circle cx="438.2" cy="278.4" r="3.00"/><circle cx="438.5" cy="276.8" r="3.00"/><circle cx="438.9" cy="279.5" r="3.00"/><circle cx="439.2" cy="280.4" r="3.00"/><circle cx="439.5" cy="277.4" r="3.00"/><circle cx="439.9" cy="281.3" r="3.00"/><circle cx="440.2" cy="278.8" r="3.00"/><circle cx="440.6" cy="278.8" r="3.00"/><circle cx="440.9" cy="281.5" r="3.00"/><circle cx="441.2" cy="281.1" r="3.00"/><circle cx="441.6" cy="283.6" r="3.00"/><circle cx="441.9" cy="280.6" r="3.00"/><circle cx="442.3" cy="281.5" r="3.00"/><circle cx="442.6" cy="284.4" r="3.00"/><circle cx="442.9" cy="285.8" r="3.00"/><circle cx="443.3" cy="283.3" r="3.00"/><circle cx="443.6" cy="282.8" r="3.00"/><circle cx="444.0" cy="287.0" r="3.00"/><circle cx="444.3" cy="284.2" r="3.00"/><circle cx="444.6" cy="284.8" r="3.00"/><circle cx="445.0" cy="288.1" r="3.00"/><circle cx="445.3" cy="288.7" r="3.00"/><circle cx="445.6" cy="289.1" r="3.00"/><circle cx="446.0" cy="289.2" r="3.00"/><circle cx="446.3" cy="289.1" r="3.00"/><circle cx="446.7" cy="290.4" r="3.00"/><circle cx="447.0" cy="290.4" r="3.00"/><circle cx="447.3" cy="289.8" r="3.00"/><circle cx="447.7" cy="290.1" r="3.00"/><circle cx="448.0" cy="288.8" r="3.00"/><circle cx="448.4" cy="292.9" r="3.00"/><circle cx="448.7" cy="290.2" r="3.00"/><circle cx="449.0" cy="293.4" r="3.00"/><circle cx="449.4" cy="294.0" r="3.00"/><circle cx="449.7" cy="291.5" r="3.00"/><circle cx="450.1" cy="293.3" r="3.00"/><circle cx="450.4" cy="293.2" r="3.00"/><circle cx="450.7" cy="292.8" r="3.00"/><circle cx="451.1" cy="293.8" r="3.00"/><circle cx="451.4" cy="294.2" r="3.00"/><circle cx="451.8" cy="296.4" r="3.00"/><circle cx="452.1" cy="296.9" r="3.00"/><circle cx="452.4" cy="296.6" r="3.00"/><circle cx="452.8" cy="297.5" r="3.00"/><circle cx="453.1" cy="298.7" r="3.00"/><circle cx="453.4" cy="296.8" r="3.00"/><circle cx="453.8" cy="297.0" r="3.00"/><circle cx="454.1" cy="296.8" r="3.00"/><circle cx="454.5" cy="298.3" r="3.00"/><circle cx="454.8" cy="299.3" r="3.00"/><circle cx="455.1" cy="300.4" r="3.00"/><circle cx="455.5" cy="300.6" r="3.00"/><circle cx="455.8" cy="299.1" r="3.00"/><circle cx="456.2" cy="299.9" r="3.00"/><circle cx="456.5" cy="303.0" r="3.00"/><circle cx="456.8" cy="301.2" r="3.00"/><circle cx="457.2" cy="300.3" r="3.00"/><circle cx="457.5" cy="300.9" r="3.00"/><circle cx="457.9" cy="303.3" r="3.00"/><circle cx="458.2" cy="301.7" r="3.00"/><circle cx="458.5" cy="302.0" r="3.00"/><circle cx="458.9" cy="303.3" r="3.00"/><circle cx="459.2" cy="302.5" r="3.00"/><circle cx="459.6" cy="306.0" r="3.00"/><circle cx="459.9" cy="303.0" r="3.00"/><circle cx="460.2" cy="303.7" r="3.00"/><circle cx="460.6" cy="305.9" r="3.00"/><circle cx="460.9" cy="304.6" r="3.00"/><circle cx="461.3" cy="306.2" r="3.00"/><circle cx="461.6" cy="305.3" r="3.00"/><circle cx="461.9" cy="307.6" r="3.00"/><circle cx="462.3" cy="306.5" r="3.00"/><circle cx="462.6" cy="309.4" r="3.00"/><circle cx="462.9" cy="305.8" r="3.00"/><circle cx="463.3" cy="307.3" r="3.00"/><circle cx="463.6" cy="306.8" r="3.00"/><circle cx="464.0" cy="308.2" r="3.00"/><circle cx="464.3" cy="308.4" r="3.00"/><circle cx="464.6" cy="307.8" r="3.00"/><circle cx="465.0" cy="307.7" r="3.00"/><circle cx="465.3" cy="310.8" r="3.00"/><circle cx="465.7" cy="311.4" r="3.00"/><circle cx="466.0" cy="309.8" r="3.00"/><circle cx="466.3" cy="311.3" r="3.00"/><circle cx="466.7" cy="309.4" r="3.00"/><circle cx="467.0" cy="311.6" r="3.00"/><circle cx="467.4" cy="313.9" r="3.00"/><circle cx="467.7" cy="314.5" r="3.00"/><circle cx="468.0" cy="311.8" r="3.00"/><circle cx="468.4" cy="313.9" r="3.00"/><circle cx="468.7" cy="314.5" r="3.00"/><circle cx="469.1" cy="313.1" r="3.00"/><circle cx="469.4" cy="315.3" r="3.00"/><circle cx="469.7" cy="315.1" r="3.00"/><circle cx="470.1" cy="315.4" r="3.00"/><circle cx="470.4" cy="314.0" r="3.00"/><circle cx="470.7" cy="314.6" r="3.00"/><circle cx="471.1" cy="314.1" r="3.00"/><circle cx="471.4" cy="317.2" r="3.00"/><circle cx="471.8" cy="314.4" r="3.00"/><circle cx="472.1" cy="316.7" r="3.00"/><circle cx="472.4" cy="317.8" r="3.00"/><circle cx="472.8" cy="315.7" r="3.00"/><circle cx="473.1" cy="319.3" r="3.00"/><circle cx="473.5" cy="316.3" r="3.00"/><circle cx="473.8" cy="320.7" r="3.00"/><circle cx="474.1" cy="320.4" r="3.00"/><circle cx="474.5" cy="319.2" r="3.00"/><circle cx="474.8" cy="320.7" r="3.00"/><circle cx="475.2" cy="319.1" r="3.00"/><circle cx="475.5" cy="320.0" r="3.00"/><circle cx="475.8" cy="321.8" r="3.00"/><circle cx="476.2" cy="321.3" r="3.00"/><circle cx="476.5" cy="323.5" r="3.00"/><circle cx="476.9" cy="320.1" r="3.00"/><circle cx="477.2" cy="324.1" r="3.00"/><circle cx="477.5" cy="323.3" r="3.00"/><circle cx="477.9" cy="321.1" r="3.00"/><circle cx="478.2" cy="323.2" r="3.00"/><circle cx="478.6" cy="323.4" r="3.00"/><circle cx="478.9" cy="323.3" r="3.00"/><circle cx="479.2" cy="323.4" r="3.00"/><circle cx="479.6" cy="325.4" r="3.00"/><circle cx="479.9" cy="326.7" r="3.00"/><circle cx="480.2" cy="324.9" r="3.00"/><circle cx="480.6" cy="325.9" r="3.00"/><circle cx="480.9" cy="325.6" r="3.00"/><circle cx="481.3" cy="324.5" r="3.00"/><circle cx="481.6" cy="326.5" r="3.00"/><circle cx="481.9" cy="328.5" r="3.00"/><circle cx="482.3" cy="328.2" r="3.00"/><circle cx="482.6" cy="326.3" r="3.00"/><circle cx="483.0" cy="329.3" r="3.00"/><circle cx="483.3" cy="329.4" r="3.00"/><circle cx="483.6" cy="327.1" r="3.00"/><circle cx="484.0" cy="329.4" r="3.00"/><circle cx="484.3" cy="328.9" r="3.00"/><circle cx="484.7" cy="328.2" r="3.00"/><circle cx="485.0" cy="328.8" r="3.00"/><circle cx="485.3" cy="332.8" r="3.00"/><circle cx="485.7" cy="331.1" r="3.00"/><circle cx="486.0" cy="330.7" r="3.00"/><circle cx="486.4" cy="333.4" r="3.00"/><circle cx="486.7" cy="333.5" r="3.00"/><circle cx="487.0" cy="331.3" r="3.00"/><circle cx="487.4" cy="331.8" r="3.00"/><circle cx="487.7" cy="331.1" r="3.00"/><circle cx="488.0" cy="335.5" r="3.00"/><circle cx="488.4" cy="335.8" r="3.00"/><circle cx="488.7" cy="332.2" r="3.00"/><circle cx="489.1" cy="333.7" r="3.00"/><circle cx="489.4" cy="336.7" r="3.00"/><circle cx="489.7" cy="334.6" r="3.00"/><circle cx="490.1" cy="335.0" r="3.00"/><circle cx="490.4" cy="335.2" r="3.00"/><circle cx="490.8" cy="334.9" r="3.00"/><circle cx="491.1" cy="335.7" r="3.00"/><circle cx="491.4" cy="336.8" r="3.00"/><circle cx="491.8" cy="337.9" r="3.00"/><circle cx="492.1" cy="339.0" r="3.00"/><circle cx="492.5" cy="336.0" r="3.00"/><circle cx="492.8" cy="338.6" r="3.00"/><circle cx="493.1" cy="339.7" r="3.00"/><circle cx="493.5" cy="338.4" r="3.00"/><circle cx="493.8" cy="338.7" r="3.00"/><circle cx="494.2" cy="339.4" r="3.00"/><circle cx="494.5" cy="338.5" r="3.00"/><circle cx="494.8" cy="340.0" r="3.00"/><circle cx="495.2" cy="341.3" r="3.00"/><circle cx="495.5" cy="342.9" r="3.00"/><circle cx="495.8" cy="343.1" r="3.00"/><circle cx="496.2" cy="341.8" r="3.00"/><circle cx="496.5" cy="343.1" r="3.00"/><circle cx="496.9" cy="344.0" r="3.00"/><circle cx="497.2" cy="341.4" r="3.00"/><circle cx="497.5" cy="343.3" r="3.00"/><circle cx="497.9" cy="342.5" r="3.00"/><circle cx="498.2" cy="342.3" r="3.00"/><circle cx="498.6" cy="346.0" r="3.00"/><circle cx="498.9" cy="342.5" r="3.00"/><circle cx="499.2" cy="344.6" r="3.00"/><circle cx="499.6" cy="345.9" r="3.00"/><circle cx="499.9" cy="345.5" r="3.00"/><circle cx="500.3" cy="347.0" r="3.00"/><circle cx="500.6" cy="346.9" r="3.00"/><circle cx="500.9" cy="346.0" r="3.00"/><circle cx="501.3" cy="348.1" r="3.00"/><circle cx="501.6" cy="347.4" r="3.00"/><circle cx="502.0" cy="348.4" r="3.00"/><circle cx="502.3" cy="346.6" r="3.00"/><circle cx="502.6" cy="349.3" r="3.00"/><circle cx="503.0" cy="347.5" r="3.00"/><circle cx="503.3" cy="350.9" r="3.00"/><circle cx="503.7" cy="349.4" r="3.00"/><circle cx="504.0" cy="349.6" r="3.00"/><circle cx="504.3" cy="350.2" r="3.00"/><circle cx="504.7" cy="350.1" r="3.00"/><circle cx="505.0" cy="349.0" r="3.00"/><circle cx="505.3" cy="350.7" r="3.00"/><circle cx="505.7" cy="349.8" r="3.00"/><circle cx="506.0" cy="350.5" r="3.00"/><circle cx="506.4" cy="353.2" r="3.00"/><circle cx="506.7" cy="353.1" r="3.00"/><circle cx="507.0" cy="354.0" r="3.00"/><circle cx="507.4" cy="351.7" r="3.00"/><circle cx="507.7" cy="355.0" r="3.00"/><circle cx="508.1" cy="352.0" r="3.00"/><circle cx="508.4" cy="353.7" r="3.00"/><circle cx="508.7" cy="354.5" r="3.00"/><circle cx="509.1" cy="354.3" r="3.00"/><circle cx="509.4" cy="354.8" r="3.00"/><circle cx="509.8" cy="354.8" r="3.00"/><circle cx="510.1" cy="355.4" r="3.00"/><circle cx="510.4" cy="356.8" r="3.00"/><circle cx="510.8" cy="354.6" r="3.00"/><circle cx="511.1" cy="356.1" r="3.00"/><circle cx="511.5" cy="354.9" r="3.00"/><circle cx="511.8" cy="358.9" r="3.00"/><circle cx="512.1" cy="355.8" r="3.00"/><circle cx="512.5" cy="357.5" r="3.00"/><circle cx="512.8" cy="357.6" r="3.00"/><circle cx="513.1" cy="356.8" r="3.00"/><circle cx="513.5" cy="360.9" r="3.00"/><circle cx="513.8" cy="360.7" r="3.00"/><circle cx="514.2" cy="359.4" r="3.00"/><circle cx="514.5" cy="360.9" r="3.00"/><circle cx="514.8" cy="362.5" r="3.00"/><circle cx="515.2" cy="361.7" r="3.00"/><circle cx="515.5" cy="360.3" r="3.00"/><circle cx="515.9" cy="360.7" r="3.00"/><circle cx="516.2" cy="363.8" r="3.00"/><circle cx="516.5" cy="362.9" r="3.00"/><circle cx="516.9" cy="361.0" r="3.00"/><circle cx="517.2" cy="362.2" r="3.00"/><circle cx="517.6" cy="362.7" r="3.00"/><circle cx="517.9" cy="361.5" r="3.00"/><circle cx="518.2" cy="364.6" r="3.00"/><circle cx="518.6" cy="366.0" r="3.00"/><circle cx="518.9" cy="364.1" r="3.00"/><circle cx="519.3" cy="364.3" r="3.00"/><circle cx="519.6" cy="365.0" r="3.00"/><circle cx="519.9" cy="363.6" r="3.00"/><circle cx="520.3" cy="365.2" r="3.00"/><circle cx="520.6" cy="368.1" r="3.00"/><circle cx="521.0" cy="366.0" r="3.00"/><circle cx="521.3" cy="368.8" r="3.00"/><circle cx="521.6" cy="367.0" r="3.00"/><circle cx="522.0" cy="367.6" r="3.00"/><circle cx="522.3" cy="370.1" r="3.00"/><circle cx="522.6" cy="369.6" r="3.00"/><circle cx="523.0" cy="369.0" r="3.00"/><circle cx="523.3" cy="369.8" r="3.00"/><circle cx="523.7" cy="370.9" r="3.00"/><circle cx="524.0" cy="369.2" r="3.00"/><circle cx="524.3" cy="368.1" r="3.00"/><circle cx="524.7" cy="372.4" r="3.00"/><circle cx="525.0" cy="369.6" r="3.00"/><circle cx="525.4" cy="371.7" r="3.00"/><circle cx="525.7" cy="372.4" r="3.00"/><circle cx="526.0" cy="370.5" r="3.00"/><circle cx="526.4" cy="370.2" r="3.00"/><circle cx="526.7" cy="370.4" r="3.00"/><circle cx="527.1" cy="370.9" r="3.00"/><circle cx="527.4" cy="374.7" r="3.00"/><circle cx="527.7" cy="375.5" r="3.00"/><circle cx="528.1" cy="372.7" r="3.00"/><circle cx="528.4" cy="373.0" r="3.00"/><circle cx="528.8" cy="375.9" r="3.00"/><circle cx="529.1" cy="374.4" r="3.00"/><circle cx="529.4" cy="374.5" r="3.00"/><circle cx="529.8" cy="375.9" r="3.00"/><circle cx="530.1" cy="377.2" r="3.00"/><circle cx="530.4" cy="376.8" r="3.00"/><circle cx="530.8" cy="377.4" r="3.00"/><circle cx="531.1" cy="378.9" r="3.00"/><circle cx="531.5" cy="378.0" r="3.00"/><circle cx="531.8" cy="378.5" r="3.00"/><circle cx="532.1" cy="377.0" r="3.00"/><circle cx="532.5" cy="377.5" r="3.00"/><circle cx="532.8" cy="377.6" r="3.00"/><circle cx="533.2" cy="379.6" r="3.00"/><circle cx="533.5" cy="378.6" r="3.00"/><circle cx="533.8" cy="381.0" r="3.00"/><circle cx="534.2" cy="378.6" r="3.00"/><circle cx="534.5" cy="378.1" r="3.00"/><circle cx="534.9" cy="379.2" r="3.00"/><circle cx="535.2" cy="379.7" r="3.00"/><circle cx="535.5" cy="380.7" r="3.00"/><circle cx="535.9" cy="380.2" r="3.00"/><circle cx="536.2" cy="381.8" r="3.00"/><circle cx="536.6" cy="383.0" r="3.00"/><circle cx="536.9" cy="381.1" r="3.00"/><circle cx="537.2" cy="382.5" r="3.00"/><circle cx="537.6" cy="381.1" r="3.00"/><circle cx="537.9" cy="382.8" r="3.00"/><circle cx="538.2" cy="383.4" r="3.00"/><circle cx="538.6" cy="385.8" r="3.00"/><circle cx="538.9" cy="385.4" r="3.00"/><circle cx="539.3" cy="383.5" r="3.00"/><circle cx="539.6" cy="385.0" r="3.00"/><circle cx="539.9" cy="383.3" r="3.00"/><circle cx="540.3" cy="384.9" r="3.00"/><circle cx="540.6" cy="386.7" r="3.00"/><circle cx="541.0" cy="387.1" r="3.00"/><circle cx="541.3" cy="387.2" r="3.00"/><circle cx="541.6" cy="387.8" r="3.00"/><circle cx="542.0" cy="386.8" r="3.00"/><circle cx="542.3" cy="389.0" r="3.00"/><circle cx="542.7" cy="387.2" r="3.00"/><circle cx="543.0" cy="388.2" r="3.00"/><circle cx="543.3" cy="386.5" r="3.00"/><circle cx="543.7" cy="386.8" r="3.00"/><circle cx="544.0" cy="389.6" r="3.00"/><circle cx="544.4" cy="390.4" r="3.00"/><circle cx="544.7" cy="389.7" r="3.00"/><circle cx="545.0" cy="389.6" r="3.00"/><circle cx="545.4" cy="389.1" r="3.00"/><circle cx="545.7" cy="388.2" r="3.00"/><circle cx="546.1" cy="388.9" r="3.00"/><circle cx="546.4" cy="391.3" r="3.00"/><circle cx="546.7" cy="390.9" r="3.00"/><circle cx="547.1" cy="391.1" r="3.00"/><circle cx="547.4" cy="390.1" r="3.00"/><circle cx="547.7" cy="393.7" r="3.00"/><circle cx="548.1" cy="391.0" r="3.00"/><circle cx="548.4" cy="393.6" r="3.00"/><circle cx="548.8" cy="394.6" r="3.00"/><circle cx="549.1" cy="391.1" r="3.00"/><circle cx="549.4" cy="394.2" r="3.00"/><circle cx="549.8" cy="392.7" r="3.00"/><circle cx="550.1" cy="394.7" r="3.00"/><circle cx="550.5" cy="395.3" r="3.00"/><circle cx="550.8" cy="394.5" r="3.00"/><circle cx="551.1" cy="396.1" r="3.00"/><circle cx="551.5" cy="396.3" r="3.00"/><circle cx="551.8" cy="397.5" r="3.00"/><circle cx="552.2" cy="394.9" r="3.00"/><circle cx="552.5" cy="394.3" r="3.00"/><circle cx="552.8" cy="398.5" r="3.00"/><circle cx="553.2" cy="397.6" r="3.00"/><circle cx="553.5" cy="395.4" r="3.00"/><circle cx="553.9" cy="396.8" r="3.00"/><circle cx="554.2" cy="399.1" r="3.00"/><circle cx="554.5" cy="398.9" r="3.00"/><circle cx="554.9" cy="399.3" r="3.00"/><circle cx="555.2" cy="400.4" r="3.00"/><circle cx="555.5" cy="400.2" r="3.00"/><circle cx="555.9" cy="400.5" r="3.00"/><circle cx="556.2" cy="399.2" r="3.00"/><circle cx="556.6" cy="398.3" r="3.00"/><circle cx="556.9" cy="399.7" r="3.00"/><circle cx="557.2" cy="399.4" r="3.00"/><circle cx="557.6" cy="398.7" r="3.00"/><circle cx="557.9" cy="399.4" r="3.00"/><circle cx="558.3" cy="402.6" r="3.00"/><circle cx="558.6" cy="403.2" r="3.00"/><circle cx="558.9" cy="399.6" r="3.00"/><circle cx="559.3" cy="402.8" r="3.00"/><circle cx="559.6" cy="400.5" r="3.00"/><circle cx="560.0" cy="403.7" r="3.00"/><circle cx="560.3" cy="401.0" r="3.00"/><circle cx="560.6" cy="403.1" r="3.00"/><circle cx="561.0" cy="405.2" r="3.00"/><circle cx="561.3" cy="401.3" r="3.00"/><circle cx="561.7" cy="405.4" r="3.00"/><circle cx="562.0" cy="406.0" r="3.00"/><circle cx="562.3" cy="403.0" r="3.00"/><circle cx="562.7" cy="405.3" r="3.00"/><circle cx="563.0" cy="406.8" r="3.00"/><circle cx="563.4" cy="407.2" r="3.00"/><circle cx="563.7" cy="405.8" r="3.00"/><circle cx="564.0" cy="407.4" r="3.00"/><circle cx="564.4" cy="406.6" r="3.00"/><circle cx="564.7" cy="405.4" r="3.00"/><circle cx="565.0" cy="404.6" r="3.00"/><circle cx="565.4" cy="407.7" r="3.00"/><circle cx="565.7" cy="406.7" r="3.00"/><circle cx="566.1" cy="406.4" r="3.00"/><circle cx="566.4" cy="406.3" r="3.00"/><circle cx="566.7" cy="407.9" r="3.00"/><circle cx="567.1" cy="406.9" r="3.00"/><circle cx="567.4" cy="408.6" r="3.00"/><circle cx="567.8" cy="407.6" r="3.00"/><circle cx="568.1" cy="408.4" r="3.00"/></g><g fill="#231f20"><circle cx="448.6" cy="280.5" r="3.00"/><circle cx="541.9" cy="381.3" r="3.00"/><circle cx="565.2" cy="400.3" r="3.00"/></g><g fill="#dc2920"><circle cx="425.6" cy="246.7" r="3.00"/><circle cx="426.0" cy="250.3" r="3.00"/><circle cx="426.3" cy="252.5" r="3.00"/><circle cx="426.7" cy="253.8" r="3.00"/><circle cx="427.0" cy="254.8" r="3.00"/><circle cx="427.3" cy="256.3" r="3.00"/><circle cx="427.7" cy="256.6" r="3.00"/><circle cx="428.0" cy="258.1" r="3.00"/><circle cx="428.3" cy="257.9" r="3.00"/><circle cx="428.7" cy="259.3" r="3.00"/><circle cx="429.0" cy="259.3" r="3.00"/><circle cx="429.4" cy="261.1" r="3.00"/><circle cx="429.7" cy="260.9" r="3.00"/><circle cx="430.0" cy="261.8" r="3.00"/><circle cx="430.4" cy="262.5" r="3.00"/><circle cx="430.7" cy="262.6" r="3.00"/><circle cx="431.1" cy="264.5" r="3.00"/><circle cx="431.4" cy="263.7" r="3.00"/><circle cx="431.7" cy="265.4" r="3.00"/><circle cx="432.1" cy="266.0" r="3.00"/><circle cx="432.4" cy="265.8" r="3.00"/><circle cx="432.8" cy="266.9" r="3.00"/><circle cx="433.1" cy="268.0" r="3.00"/><circle cx="433.4" cy="267.7" r="3.00"/><circle cx="433.8" cy="267.7" r="3.00"/><circle cx="434.1" cy="269.9" r="3.00"/><circle cx="434.5" cy="269.6" r="3.00"/><circle cx="434.8" cy="270.6" r="3.00"/><circle cx="435.1" cy="270.0" r="3.00"/><circle cx="435.5" cy="270.4" r="3.00"/><circle cx="435.8" cy="272.2" r="3.00"/><circle cx="436.2" cy="271.2" r="3.00"/><circle cx="436.5" cy="272.9" r="3.00"/><circle cx="436.8" cy="272.4" r="3.00"/><circle cx="437.2" cy="274.3" r="3.00"/><circle cx="437.5" cy="274.0" r="3.00"/><circle cx="437.8" cy="274.0" r="3.00"/><circle cx="438.2" cy="274.8" r="3.00"/><circle cx="438.5" cy="274.8" r="3.00"/><circle cx="438.9" cy="275.1" r="3.00"/><circle cx="439.2" cy="275.1" r="3.00"/><circle cx="439.5" cy="276.3" r="3.00"/><circle cx="439.9" cy="277.9" r="3.00"/><circle cx="440.2" cy="276.8" r="3.00"/><circle cx="440.6" cy="278.1" r="3.00"/><circle cx="440.9" cy="277.8" r="3.00"/><circle cx="441.2" cy="278.3" r="3.00"/><circle cx="441.6" cy="278.1" r="3.00"/><circle cx="441.9" cy="279.4" r="3.00"/><circle cx="442.3" cy="280.8" r="3.00"/><circle cx="442.6" cy="280.7" r="3.00"/><circle cx="442.9" cy="280.5" r="3.00"/><circle cx="443.3" cy="281.1" r="3.00"/><circle cx="443.6" cy="282.6" r="3.00"/><circle cx="444.0" cy="281.2" r="3.00"/><circle cx="444.3" cy="282.3" r="3.00"/><circle cx="444.6" cy="282.7" r="3.00"/><circle cx="445.0" cy="284.3" r="3.00"/><circle cx="445.3" cy="283.8" r="3.00"/><circle cx="445.6" cy="284.9" r="3.00"/><circle cx="446.0" cy="285.1" r="3.00"/><circle cx="446.3" cy="285.5" r="3.00"/><circle cx="446.7" cy="285.1" r="3.00"/><circle cx="447.0" cy="286.2" r="3.00"/><circle cx="447.3" cy="285.0" r="3.00"/><circle cx="447.7" cy="285.8" r="3.00"/><circle cx="448.0" cy="285.5" r="3.00"/><circle cx="448.4" cy="287.1" r="3.00"/><circle cx="448.7" cy="288.0" r="3.00"/><circle cx="449.0" cy="288.5" r="3.00"/><circle cx="449.4" cy="290.0" r="3.00"/><circle cx="449.7" cy="288.4" r="3.00"/><circle cx="450.1" cy="289.9" r="3.00"/><circle cx="450.4" cy="291.2" r="3.00"/><circle cx="450.7" cy="288.9" r="3.00"/><circle cx="451.1" cy="291.3" r="3.00"/><circle cx="451.4" cy="292.1" r="3.00"/><circle cx="451.8" cy="290.6" r="3.00"/><circle cx="452.1" cy="290.8" r="3.00"/><circle cx="452.4" cy="291.2" r="3.00"/><circle cx="452.8" cy="292.0" r="3.00"/><circle cx="453.1" cy="294.2" r="3.00"/><circle cx="453.4" cy="293.0" r="3.00"/><circle cx="453.8" cy="292.1" r="3.00"/><circle cx="454.1" cy="294.0" r="3.00"/><circle cx="454.5" cy="294.8" r="3.00"/><circle cx="454.8" cy="294.3" r="3.00"/><circle cx="455.1" cy="294.4" r="3.00"/><circle cx="455.5" cy="295.8" r="3.00"/><circle cx="455.8" cy="294.7" r="3.00"/><circle cx="456.2" cy="294.8" r="3.00"/><circle cx="456.5" cy="297.6" r="3.00"/><circle cx="456.8" cy="297.7" r="3.00"/><circle cx="457.2" cy="296.7" r="3.00"/><circle cx="457.5" cy="298.4" r="3.00"/><circle cx="457.9" cy="298.3" r="3.00"/><circle cx="458.2" cy="296.5" r="3.00"/><circle cx="458.5" cy="296.4" r="3.00"/><circle cx="458.9" cy="297.2" r="3.00"/><circle cx="459.2" cy="299.5" r="3.00"/><circle cx="459.6" cy="297.8" r="3.00"/><circle cx="459.9" cy="298.8" r="3.00"/><circle cx="460.2" cy="297.8" r="3.00"/><circle cx="460.6" cy="300.2" r="3.00"/><circle cx="460.9" cy="298.6" r="3.00"/><circle cx="461.3" cy="301.6" r="3.00"/><circle cx="461.6" cy="301.2" r="3.00"/><circle cx="461.9" cy="299.4" r="3.00"/><circle cx="462.3" cy="300.9" r="3.00"/><circle cx="462.6" cy="302.1" r="3.00"/><circle cx="462.9" cy="300.8" r="3.00"/><circle cx="463.3" cy="302.2" r="3.00"/><circle cx="463.6" cy="301.7" r="3.00"/><circle cx="464.0" cy="302.5" r="3.00"/><circle cx="464.3" cy="303.7" r="3.00"/><circle cx="464.6" cy="304.1" r="3.00"/><circle cx="465.0" cy="301.7" r="3.00"/><circle cx="465.3" cy="302.1" r="3.00"/><circle cx="465.7" cy="303.6" r="3.00"/><circle cx="466.0" cy="304.6" r="3.00"/><circle cx="466.3" cy="305.1" r="3.00"/><circle cx="466.7" cy="302.9" r="3.00"/><circle cx="467.0" cy="304.4" r="3.00"/><circle cx="467.4" cy="306.3" r="3.00"/><circle cx="467.7" cy="304.7" r="3.00"/><circle cx="468.0" cy="304.5" r="3.00"/><circle cx="468.4" cy="306.2" r="3.00"/><circle cx="468.7" cy="304.4" r="3.00"/><circle cx="469.1" cy="307.4" r="3.00"/><circle cx="469.4" cy="307.5" r="3.00"/><circle cx="469.7" cy="306.3" r="3.00"/><circle cx="470.1" cy="307.0" r="3.00"/><circle cx="470.4" cy="307.6" r="3.00"/><circle cx="470.7" cy="306.8" r="3.00"/><circle cx="471.1" cy="306.4" r="3.00"/><circle cx="471.4" cy="306.9" r="3.00"/><circle cx="471.8" cy="307.5" r="3.00"/><circle cx="472.1" cy="309.1" r="3.00"/><circle cx="472.4" cy="309.4" r="3.00"/><circle cx="472.8" cy="310.0" r="3.00"/><circle cx="473.1" cy="308.2" r="3.00"/><circle cx="473.5" cy="309.1" r="3.00"/><circle cx="473.8" cy="309.6" r="3.00"/><circle cx="474.1" cy="311.5" r="3.00"/><circle cx="474.5" cy="309.4" r="3.00"/><circle cx="474.8" cy="311.8" r="3.00"/><circle cx="475.2" cy="311.0" r="3.00"/><circle cx="475.5" cy="310.0" r="3.00"/><circle cx="475.8" cy="312.0" r="3.00"/><circle cx="476.2" cy="312.0" r="3.00"/><circle cx="476.5" cy="310.8" r="3.00"/><circle cx="476.9" cy="313.1" r="3.00"/><circle cx="477.2" cy="312.9" r="3.00"/><circle cx="477.5" cy="313.4" r="3.00"/><circle cx="477.9" cy="313.6" r="3.00"/><circle cx="478.2" cy="313.8" r="3.00"/><circle cx="478.6" cy="312.4" r="3.00"/><circle cx="478.9" cy="313.3" r="3.00"/><circle cx="479.2" cy="315.9" r="3.00"/><circle cx="479.6" cy="314.5" r="3.00"/><circle cx="479.9" cy="316.6" r="3.00"/><circle cx="480.2" cy="316.7" r="3.00"/><circle cx="480.6" cy="315.4" r="3.00"/><circle cx="480.9" cy="315.6" r="3.00"/><circle cx="481.3" cy="317.3" r="3.00"/><circle cx="481.6" cy="316.9" r="3.00"/><circle cx="481.9" cy="317.3" r="3.00"/><circle cx="482.3" cy="316.6" r="3.00"/><circle cx="482.6" cy="317.8" r="3.00"/><circle cx="483.0" cy="318.2" r="3.00"/><circle cx="483.3" cy="317.1" r="3.00"/><circle cx="483.6" cy="317.9" r="3.00"/><circle cx="484.0" cy="319.9" r="3.00"/><circle cx="484.3" cy="318.9" r="3.00"/><circle cx="484.7" cy="320.2" r="3.00"/><circle cx="485.0" cy="320.4" r="3.00"/><circle cx="485.3" cy="319.6" r="3.00"/><circle cx="485.7" cy="319.2" r="3.00"/><circle cx="486.0" cy="321.0" r="3.00"/><circle cx="486.4" cy="320.8" r="3.00"/><circle cx="486.7" cy="322.5" r="3.00"/><circle cx="487.0" cy="320.7" r="3.00"/><circle cx="487.4" cy="322.8" r="3.00"/><circle cx="487.7" cy="322.5" r="3.00"/><circle cx="488.0" cy="323.2" r="3.00"/><circle cx="488.4" cy="322.7" r="3.00"/><circle cx="488.7" cy="323.7" r="3.00"/><circle cx="489.1" cy="323.5" r="3.00"/><circle cx="489.4" cy="323.9" r="3.00"/><circle cx="489.7" cy="323.7" r="3.00"/><circle cx="490.1" cy="323.8" r="3.00"/><circle cx="490.4" cy="324.6" r="3.00"/><circle cx="490.8" cy="324.2" r="3.00"/><circle cx="491.1" cy="324.1" r="3.00"/><circle cx="491.4" cy="325.7" r="3.00"/><circle cx="491.8" cy="327.3" r="3.00"/><circle cx="492.1" cy="325.4" r="3.00"/><circle cx="492.5" cy="326.6" r="3.00"/><circle cx="492.8" cy="326.0" r="3.00"/><circle cx="493.1" cy="326.0" r="3.00"/><circle cx="493.5" cy="328.7" r="3.00"/><circle cx="493.8" cy="328.0" r="3.00"/><circle cx="494.2" cy="327.3" r="3.00"/><circle cx="494.5" cy="328.5" r="3.00"/><circle cx="494.8" cy="328.8" r="3.00"/><circle cx="495.2" cy="329.0" r="3.00"/><circle cx="495.5" cy="327.7" r="3.00"/><circle cx="495.8" cy="330.3" r="3.00"/><circle cx="496.2" cy="330.8" r="3.00"/><circle cx="496.5" cy="329.3" r="3.00"/><circle cx="496.9" cy="329.4" r="3.00"/><circle cx="497.2" cy="332.1" r="3.00"/><circle cx="497.5" cy="330.6" r="3.00"/><circle cx="497.9" cy="330.2" r="3.00"/><circle cx="498.2" cy="330.9" r="3.00"/><circle cx="498.6" cy="332.9" r="3.00"/><circle cx="498.9" cy="333.1" r="3.00"/><circle cx="499.2" cy="332.6" r="3.00"/><circle cx="499.6" cy="333.1" r="3.00"/><circle cx="499.9" cy="334.0" r="3.00"/><circle cx="500.3" cy="333.2" r="3.00"/><circle cx="500.6" cy="334.5" r="3.00"/><circle cx="500.9" cy="335.1" r="3.00"/><circle cx="501.3" cy="334.1" r="3.00"/><circle cx="501.6" cy="333.0" r="3.00"/><circle cx="502.0" cy="335.7" r="3.00"/><circle cx="502.3" cy="335.8" r="3.00"/><circle cx="502.6" cy="335.1" r="3.00"/><circle cx="503.0" cy="334.1" r="3.00"/><circle cx="503.3" cy="335.8" r="3.00"/><circle cx="503.7" cy="336.8" r="3.00"/><circle cx="504.0" cy="336.0" r="3.00"/><circle cx="504.3" cy="337.0" r="3.00"/><circle cx="504.7" cy="337.9" r="3.00"/><circle cx="505.0" cy="336.6" r="3.00"/><circle cx="505.3" cy="337.5" r="3.00"/><circle cx="505.7" cy="336.2" r="3.00"/><circle cx="506.0" cy="338.2" r="3.00"/><circle cx="506.4" cy="339.1" r="3.00"/><circle cx="506.7" cy="338.9" r="3.00"/><circle cx="507.0" cy="338.7" r="3.00"/><circle cx="507.4" cy="339.5" r="3.00"/><circle cx="507.7" cy="339.3" r="3.00"/><circle cx="508.1" cy="338.7" r="3.00"/><circle cx="508.4" cy="338.8" r="3.00"/><circle cx="508.7" cy="339.6" r="3.00"/><circle cx="509.1" cy="340.2" r="3.00"/><circle cx="509.4" cy="341.6" r="3.00"/><circle cx="509.8" cy="340.1" r="3.00"/><circle cx="510.1" cy="341.7" r="3.00"/><circle cx="510.4" cy="340.4" r="3.00"/><circle cx="510.8" cy="340.0" r="3.00"/><circle cx="511.1" cy="340.6" r="3.00"/><circle cx="511.5" cy="342.6" r="3.00"/><circle cx="511.8" cy="342.2" r="3.00"/><circle cx="512.1" cy="342.5" r="3.00"/><circle cx="512.5" cy="341.8" r="3.00"/><circle cx="512.8" cy="343.1" r="3.00"/><circle cx="513.1" cy="343.6" r="3.00"/><circle cx="513.5" cy="343.1" r="3.00"/><circle cx="513.8" cy="343.4" r="3.00"/><circle cx="514.2" cy="342.8" r="3.00"/><circle cx="514.5" cy="342.8" r="3.00"/><circle cx="514.8" cy="343.2" r="3.00"/><circle cx="515.2" cy="343.1" r="3.00"/><circle cx="515.5" cy="344.6" r="3.00"/><circle cx="515.9" cy="345.3" r="3.00"/><circle cx="516.2" cy="344.7" r="3.00"/><circle cx="516.5" cy="344.4" r="3.00"/><circle cx="516.9" cy="345.1" r="3.00"/><circle cx="517.2" cy="345.8" r="3.00"/><circle cx="517.6" cy="347.3" r="3.00"/><circle cx="517.9" cy="345.8" r="3.00"/><circle cx="518.2" cy="345.5" r="3.00"/><circle cx="518.6" cy="347.1" r="3.00"/><circle cx="518.9" cy="346.0" r="3.00"/><circle cx="519.3" cy="347.1" r="3.00"/><circle cx="519.6" cy="348.3" r="3.00"/><circle cx="519.9" cy="346.4" r="3.00"/><circle cx="520.3" cy="347.4" r="3.00"/><circle cx="520.6" cy="346.9" r="3.00"/><circle cx="521.0" cy="348.2" r="3.00"/><circle cx="521.3" cy="348.0" r="3.00"/><circle cx="521.6" cy="349.7" r="3.00"/><circle cx="522.0" cy="349.1" r="3.00"/><circle cx="522.3" cy="349.8" r="3.00"/><circle cx="522.6" cy="349.1" r="3.00"/><circle cx="523.0" cy="348.6" r="3.00"/><circle cx="523.3" cy="350.0" r="3.00"/><circle cx="523.7" cy="351.9" r="3.00"/><circle cx="524.0" cy="351.1" r="3.00"/><circle cx="524.3" cy="350.7" r="3.00"/><circle cx="524.7" cy="350.1" r="3.00"/><circle cx="525.0" cy="351.0" r="3.00"/><circle cx="525.4" cy="352.4" r="3.00"/><circle cx="525.7" cy="351.4" r="3.00"/><circle cx="526.0" cy="350.8" r="3.00"/><circle cx="526.4" cy="352.1" r="3.00"/><circle cx="526.7" cy="351.3" r="3.00"/><circle cx="527.1" cy="352.4" r="3.00"/><circle cx="527.4" cy="354.1" r="3.00"/><circle cx="527.7" cy="351.6" r="3.00"/><circle cx="528.1" cy="354.6" r="3.00"/><circle cx="528.4" cy="354.1" r="3.00"/><circle cx="528.8" cy="353.2" r="3.00"/><circle cx="529.1" cy="352.9" r="3.00"/><circle cx="529.4" cy="354.9" r="3.00"/><circle cx="529.8" cy="353.1" r="3.00"/><circle cx="530.1" cy="353.9" r="3.00"/><circle cx="530.4" cy="356.0" r="3.00"/><circle cx="530.8" cy="355.1" r="3.00"/><circle cx="531.1" cy="353.9" r="3.00"/><circle cx="531.5" cy="355.5" r="3.00"/><circle cx="531.8" cy="354.4" r="3.00"/><circle cx="532.1" cy="356.6" r="3.00"/><circle cx="532.5" cy="354.8" r="3.00"/><circle cx="532.8" cy="355.6" r="3.00"/><circle cx="533.2" cy="357.8" r="3.00"/><circle cx="533.5" cy="357.8" r="3.00"/><circle cx="533.8" cy="356.1" r="3.00"/><circle cx="534.2" cy="356.0" r="3.00"/><circle cx="534.5" cy="357.6" r="3.00"/><circle cx="534.9" cy="358.1" r="3.00"/><circle cx="535.2" cy="356.2" r="3.00"/><circle cx="535.5" cy="356.8" r="3.00"/><circle cx="535.9" cy="356.5" r="3.00"/><circle cx="536.2" cy="359.2" r="3.00"/><circle cx="536.6" cy="358.4" r="3.00"/><circle cx="536.9" cy="359.9" r="3.00"/><circle cx="537.2" cy="358.3" r="3.00"/><circle cx="537.6" cy="359.4" r="3.00"/><circle cx="537.9" cy="360.5" r="3.00"/><circle cx="538.2" cy="360.5" r="3.00"/><circle cx="538.6" cy="358.4" r="3.00"/><circle cx="538.9" cy="358.7" r="3.00"/><circle cx="539.3" cy="358.7" r="3.00"/><circle cx="539.6" cy="359.1" r="3.00"/><circle cx="539.9" cy="360.4" r="3.00"/><circle cx="540.3" cy="360.7" r="3.00"/><circle cx="540.6" cy="360.6" r="3.00"/><circle cx="541.0" cy="360.3" r="3.00"/><circle cx="541.3" cy="362.2" r="3.00"/><circle cx="541.6" cy="361.7" r="3.00"/><circle cx="542.0" cy="362.0" r="3.00"/><circle cx="542.3" cy="361.0" r="3.00"/><circle cx="542.7" cy="363.5" r="3.00"/><circle cx="543.0" cy="361.9" r="3.00"/><circle cx="543.3" cy="363.8" r="3.00"/><circle cx="543.7" cy="362.6" r="3.00"/><circle cx="544.0" cy="363.8" r="3.00"/><circle cx="544.4" cy="361.7" r="3.00"/><circle cx="544.7" cy="364.4" r="3.00"/><circle cx="545.0" cy="364.1" r="3.00"/><circle cx="545.4" cy="364.6" r="3.00"/><circle cx="545.7" cy="364.6" r="3.00"/><circle cx="546.1" cy="363.6" r="3.00"/><circle cx="546.4" cy="365.6" r="3.00"/><circle cx="546.7" cy="364.1" r="3.00"/><circle cx="547.1" cy="364.6" r="3.00"/><circle cx="547.4" cy="366.3" r="3.00"/><circle cx="547.7" cy="363.7" r="3.00"/><circle cx="548.1" cy="365.3" r="3.00"/><circle cx="548.4" cy="366.8" r="3.00"/><circle cx="548.8" cy="365.6" r="3.00"/><circle cx="549.1" cy="366.2" r="3.00"/><circle cx="549.4" cy="367.3" r="3.00"/><circle cx="549.8" cy="365.4" r="3.00"/><circle cx="550.1" cy="365.3" r="3.00"/><circle cx="550.5" cy="366.1" r="3.00"/><circle cx="550.8" cy="367.0" r="3.00"/><circle cx="551.1" cy="366.1" r="3.00"/><circle cx="551.5" cy="368.7" r="3.00"/><circle cx="551.8" cy="368.3" r="3.00"/><circle cx="552.2" cy="367.4" r="3.00"/><circle cx="552.5" cy="368.8" r="3.00"/><circle cx="552.8" cy="367.5" r="3.00"/><circle cx="553.2" cy="368.3" r="3.00"/><circle cx="553.5" cy="367.4" r="3.00"/><circle cx="553.9" cy="367.1" r="3.00"/><circle cx="554.2" cy="370.1" r="3.00"/><circle cx="554.5" cy="368.3" r="3.00"/><circle cx="554.9" cy="370.5" r="3.00"/><circle cx="555.2" cy="369.3" r="3.00"/><circle cx="555.5" cy="370.0" r="3.00"/><circle cx="555.9" cy="369.8" r="3.00"/><circle cx="556.2" cy="369.2" r="3.00"/><circle cx="556.6" cy="371.6" r="3.00"/><circle cx="556.9" cy="369.9" r="3.00"/><circle cx="557.2" cy="369.4" r="3.00"/><circle cx="557.6" cy="369.5" r="3.00"/><circle cx="557.9" cy="370.9" r="3.00"/><circle cx="558.3" cy="370.6" r="3.00"/><circle cx="558.6" cy="372.3" r="3.00"/><circle cx="558.9" cy="372.3" r="3.00"/><circle cx="559.3" cy="370.2" r="3.00"/><circle cx="559.6" cy="373.2" r="3.00"/><circle cx="560.0" cy="370.8" r="3.00"/><circle cx="560.3" cy="372.9" r="3.00"/><circle cx="560.6" cy="372.3" r="3.00"/><circle cx="561.0" cy="373.4" r="3.00"/><circle cx="561.3" cy="374.0" r="3.00"/><circle cx="561.7" cy="371.8" r="3.00"/><circle cx="562.0" cy="372.7" r="3.00"/><circle cx="562.3" cy="372.1" r="3.00"/><circle cx="562.7" cy="373.1" r="3.00"/><circle cx="563.0" cy="373.0" r="3.00"/><circle cx="563.4" cy="375.0" r="3.00"/><circle cx="563.7" cy="375.5" r="3.00"/><circle cx="564.0" cy="375.5" r="3.00"/><circle cx="564.4" cy="373.3" r="3.00"/><circle cx="564.7" cy="376.0" r="3.00"/><circle cx="565.0" cy="376.0" r="3.00"/><circle cx="565.4" cy="376.1" r="3.00"/><circle cx="565.7" cy="376.4" r="3.00"/><circle cx="566.1" cy="375.8" r="3.00"/><circle cx="566.4" cy="375.2" r="3.00"/><circle cx="566.7" cy="374.4" r="3.00"/><circle cx="567.1" cy="376.8" r="3.00"/><circle cx="567.4" cy="377.4" r="3.00"/><circle cx="567.8" cy="374.8" r="3.00"/><circle cx="568.1" cy="377.4" r="3.00"/><circle cx="568.4" cy="375.8" r="3.00"/><circle cx="568.8" cy="375.4" r="3.00"/><circle cx="569.1" cy="377.1" r="3.00"/><circle cx="569.5" cy="375.6" r="3.00"/><circle cx="569.8" cy="377.8" r="3.00"/><circle cx="570.1" cy="378.4" r="3.00"/><circle cx="570.5" cy="376.5" r="3.00"/><circle cx="570.8" cy="377.3" r="3.00"/><circle cx="571.2" cy="378.5" r="3.00"/><circle cx="571.5" cy="379.5" r="3.00"/></g><g fill="#dc2920"><circle cx="448.0" cy="276.7" r="3.00"/><circle cx="483.0" cy="311.1" r="3.00"/><circle cx="506.9" cy="327.1" r="3.00"/><circle cx="541.5" cy="353.1" r="3.00"/><circle cx="565.4" cy="364.0" r="3.00"/></g></g>
<g clip-path="url(#cp20)"><g fill="#231f20"><circle cx="59.8" cy="429.8" r="3.00"/><circle cx="60.2" cy="433.3" r="3.00"/><circle cx="60.5" cy="435.0" r="3.00"/><circle cx="60.9" cy="436.6" r="3.00"/><circle cx="61.2" cy="437.5" r="3.00"/><circle cx="61.5" cy="438.7" r="3.00"/><circle cx="61.9" cy="440.0" r="3.00"/><circle cx="62.2" cy="440.0" r="3.00"/><circle cx="62.5" cy="441.0" r="3.00"/><circle cx="62.9" cy="441.3" r="3.00"/><circle cx="63.2" cy="442.1" r="3.00"/><circle cx="63.6" cy="443.5" r="3.00"/><circle cx="63.9" cy="443.6" r="3.00"/><circle cx="64.2" cy="444.6" r="3.00"/><circle cx="64.6" cy="444.7" r="3.00"/><circle cx="64.9" cy="446.7" r="3.00"/><circle cx="65.3" cy="447.2" r="3.00"/><circle cx="65.6" cy="447.5" r="3.00"/><circle cx="65.9" cy="448.8" r="3.00"/><circle cx="66.3" cy="448.5" r="3.00"/><circle cx="66.6" cy="449.5" r="3.00"/><circle cx="67.0" cy="449.3" r="3.00"/><circle cx="67.3" cy="449.8" r="3.00"/><circle cx="67.6" cy="451.9" r="3.00"/><circle cx="68.0" cy="450.4" r="3.00"/><circle cx="68.3" cy="451.4" r="3.00"/><circle cx="68.7" cy="452.0" r="3.00"/><circle cx="69.0" cy="453.7" r="3.00"/><circle cx="69.3" cy="454.1" r="3.00"/><circle cx="69.7" cy="453.1" r="3.00"/><circle cx="70.0" cy="455.6" r="3.00"/><circle cx="70.4" cy="455.9" r="3.00"/><circle cx="70.7" cy="455.1" r="3.00"/><circle cx="71.0" cy="456.5" r="3.00"/><circle cx="71.4" cy="456.2" r="3.00"/><circle cx="71.7" cy="456.6" r="3.00"/><circle cx="72.0" cy="457.4" r="3.00"/><circle cx="72.4" cy="456.7" r="3.00"/><circle cx="72.7" cy="458.8" r="3.00"/><circle cx="73.1" cy="457.7" r="3.00"/><circle cx="73.4" cy="459.1" r="3.00"/><circle cx="73.7" cy="458.0" r="3.00"/><circle cx="74.1" cy="460.7" r="3.00"/><circle cx="74.4" cy="460.9" r="3.00"/><circle cx="74.8" cy="461.0" r="3.00"/><circle cx="75.1" cy="461.8" r="3.00"/><circle cx="75.4" cy="461.8" r="3.00"/><circle cx="75.8" cy="462.0" r="3.00"/><circle cx="76.1" cy="461.1" r="3.00"/><circle cx="76.5" cy="461.7" r="3.00"/><circle cx="76.8" cy="461.7" r="3.00"/><circle cx="77.1" cy="462.9" r="3.00"/><circle cx="77.5" cy="464.1" r="3.00"/><circle cx="77.8" cy="465.0" r="3.00"/><circle cx="78.2" cy="462.5" r="3.00"/><circle cx="78.5" cy="464.0" r="3.00"/><circle cx="78.8" cy="465.8" r="3.00"/><circle cx="79.2" cy="465.8" r="3.00"/><circle cx="79.5" cy="465.2" r="3.00"/><circle cx="79.8" cy="465.9" r="3.00"/><circle cx="80.2" cy="467.7" r="3.00"/><circle cx="80.5" cy="467.1" r="3.00"/><circle cx="80.9" cy="466.4" r="3.00"/><circle cx="81.2" cy="465.9" r="3.00"/><circle cx="81.5" cy="468.4" r="3.00"/><circle cx="81.9" cy="468.5" r="3.00"/><circle cx="82.2" cy="468.1" r="3.00"/><circle cx="82.6" cy="468.9" r="3.00"/><circle cx="82.9" cy="467.2" r="3.00"/><circle cx="83.2" cy="468.5" r="3.00"/><circle cx="83.6" cy="470.0" r="3.00"/><circle cx="83.9" cy="469.3" r="3.00"/><circle cx="84.3" cy="469.4" r="3.00"/><circle cx="84.6" cy="470.6" r="3.00"/><circle cx="84.9" cy="469.7" r="3.00"/><circle cx="85.3" cy="469.3" r="3.00"/><circle cx="85.6" cy="471.5" r="3.00"/><circle cx="86.0" cy="471.5" r="3.00"/><circle cx="86.3" cy="472.3" r="3.00"/><circle cx="86.6" cy="471.9" r="3.00"/><circle cx="87.0" cy="470.5" r="3.00"/><circle cx="87.3" cy="470.9" r="3.00"/><circle cx="87.6" cy="470.5" r="3.00"/><circle cx="88.0" cy="472.6" r="3.00"/><circle cx="88.3" cy="473.9" r="3.00"/><circle cx="88.7" cy="473.9" r="3.00"/><circle cx="89.0" cy="472.9" r="3.00"/><circle cx="89.3" cy="474.6" r="3.00"/><circle cx="89.7" cy="472.7" r="3.00"/><circle cx="90.0" cy="474.3" r="3.00"/><circle cx="90.4" cy="473.9" r="3.00"/><circle cx="90.7" cy="474.4" r="3.00"/><circle cx="91.0" cy="474.7" r="3.00"/><circle cx="91.4" cy="473.3" r="3.00"/><circle cx="91.7" cy="476.4" r="3.00"/><circle cx="92.1" cy="473.6" r="3.00"/><circle cx="92.4" cy="476.6" r="3.00"/><circle cx="92.7" cy="476.7" r="3.00"/><circle cx="93.1" cy="476.7" r="3.00"/><circle cx="93.4" cy="474.5" r="3.00"/><circle cx="93.8" cy="474.3" r="3.00"/><circle cx="94.1" cy="477.5" r="3.00"/><circle cx="94.4" cy="476.3" r="3.00"/><circle cx="94.8" cy="476.3" r="3.00"/><circle cx="95.1" cy="478.0" r="3.00"/><circle cx="95.5" cy="476.3" r="3.00"/><circle cx="95.8" cy="477.4" r="3.00"/><circle cx="96.1" cy="478.4" r="3.00"/><circle cx="96.5" cy="478.6" r="3.00"/><circle cx="96.8" cy="477.5" r="3.00"/><circle cx="97.1" cy="479.8" r="3.00"/><circle cx="97.5" cy="477.2" r="3.00"/><circle cx="97.8" cy="477.5" r="3.00"/><circle cx="98.2" cy="478.6" r="3.00"/><circle cx="98.5" cy="480.6" r="3.00"/><circle cx="98.8" cy="478.4" r="3.00"/><circle cx="99.2" cy="479.8" r="3.00"/><circle cx="99.5" cy="481.1" r="3.00"/><circle cx="99.9" cy="480.4" r="3.00"/><circle cx="100.2" cy="480.4" r="3.00"/><circle cx="100.5" cy="481.5" r="3.00"/><circle cx="100.9" cy="478.8" r="3.00"/><circle cx="101.2" cy="480.9" r="3.00"/><circle cx="101.6" cy="479.7" r="3.00"/><circle cx="101.9" cy="480.6" r="3.00"/><circle cx="102.2" cy="481.6" r="3.00"/><circle cx="102.6" cy="481.4" r="3.00"/><circle cx="102.9" cy="481.6" r="3.00"/><circle cx="103.3" cy="482.2" r="3.00"/><circle cx="103.6" cy="483.4" r="3.00"/><circle cx="103.9" cy="481.0" r="3.00"/><circle cx="104.3" cy="482.4" r="3.00"/><circle cx="104.6" cy="482.6" r="3.00"/><circle cx="104.9" cy="483.0" r="3.00"/><circle cx="105.3" cy="483.3" r="3.00"/><circle cx="105.6" cy="481.8" r="3.00"/><circle cx="106.0" cy="481.9" r="3.00"/><circle cx="106.3" cy="482.8" r="3.00"/><circle cx="106.6" cy="485.5" r="3.00"/><circle cx="107.0" cy="484.5" r="3.00"/><circle cx="107.3" cy="483.6" r="3.00"/><circle cx="107.7" cy="484.3" r="3.00"/><circle cx="108.0" cy="483.6" r="3.00"/><circle cx="108.3" cy="485.7" r="3.00"/><circle cx="108.7" cy="483.8" r="3.00"/><circle cx="109.0" cy="486.0" r="3.00"/><circle cx="109.4" cy="485.6" r="3.00"/><circle cx="109.7" cy="486.6" r="3.00"/><circle cx="110.0" cy="485.1" r="3.00"/><circle cx="110.4" cy="487.4" r="3.00"/><circle cx="110.7" cy="485.3" r="3.00"/><circle cx="111.1" cy="485.9" r="3.00"/><circle cx="111.4" cy="487.9" r="3.00"/><circle cx="111.7" cy="486.0" r="3.00"/><circle cx="112.1" cy="488.7" r="3.00"/><circle cx="112.4" cy="487.6" r="3.00"/><circle cx="112.8" cy="486.5" r="3.00"/><circle cx="113.1" cy="488.7" r="3.00"/><circle cx="113.4" cy="487.6" r="3.00"/><circle cx="113.8" cy="488.3" r="3.00"/><circle cx="114.1" cy="490.2" r="3.00"/><circle cx="114.4" cy="488.9" r="3.00"/><circle cx="114.8" cy="487.1" r="3.00"/><circle cx="115.1" cy="490.7" r="3.00"/><circle cx="115.5" cy="490.5" r="3.00"/><circle cx="115.8" cy="491.2" r="3.00"/><circle cx="116.1" cy="489.6" r="3.00"/><circle cx="116.5" cy="490.8" r="3.00"/><circle cx="116.8" cy="491.8" r="3.00"/><circle cx="117.2" cy="491.8" r="3.00"/><circle cx="117.5" cy="492.1" r="3.00"/><circle cx="117.8" cy="490.2" r="3.00"/><circle cx="118.2" cy="492.3" r="3.00"/><circle cx="118.5" cy="489.6" r="3.00"/><circle cx="118.9" cy="491.4" r="3.00"/><circle cx="119.2" cy="492.3" r="3.00"/><circle cx="119.5" cy="490.4" r="3.00"/><circle cx="119.9" cy="491.0" r="3.00"/><circle cx="120.2" cy="492.8" r="3.00"/><circle cx="120.6" cy="492.2" r="3.00"/><circle cx="120.9" cy="492.2" r="3.00"/><circle cx="121.2" cy="491.4" r="3.00"/><circle cx="121.6" cy="491.5" r="3.00"/><circle cx="121.9" cy="492.5" r="3.00"/><circle cx="122.2" cy="494.8" r="3.00"/><circle cx="122.6" cy="493.4" r="3.00"/><circle cx="122.9" cy="495.5" r="3.00"/><circle cx="123.3" cy="494.5" r="3.00"/><circle cx="123.6" cy="493.5" r="3.00"/><circle cx="123.9" cy="493.5" r="3.00"/><circle cx="124.3" cy="495.3" r="3.00"/><circle cx="124.6" cy="495.8" r="3.00"/><circle cx="125.0" cy="494.5" r="3.00"/><circle cx="125.3" cy="494.0" r="3.00"/><circle cx="125.6" cy="494.5" r="3.00"/><circle cx="126.0" cy="495.2" r="3.00"/><circle cx="126.3" cy="496.6" r="3.00"/><circle cx="126.7" cy="497.0" r="3.00"/><circle cx="127.0" cy="495.7" r="3.00"/><circle cx="127.3" cy="496.2" r="3.00"/><circle cx="127.7" cy="498.7" r="3.00"/><circle cx="128.0" cy="497.1" r="3.00"/><circle cx="128.4" cy="495.7" r="3.00"/><circle cx="128.7" cy="498.3" r="3.00"/><circle cx="129.0" cy="496.1" r="3.00"/><circle cx="129.4" cy="496.9" r="3.00"/><circle cx="129.7" cy="498.0" r="3.00"/><circle cx="130.0" cy="499.6" r="3.00"/><circle cx="130.4" cy="498.7" r="3.00"/><circle cx="130.7" cy="497.2" r="3.00"/><circle cx="131.1" cy="500.8" r="3.00"/><circle cx="131.4" cy="499.8" r="3.00"/><circle cx="131.7" cy="500.0" r="3.00"/><circle cx="132.1" cy="498.5" r="3.00"/><circle cx="132.4" cy="501.4" r="3.00"/><circle cx="132.8" cy="500.9" r="3.00"/><circle cx="133.1" cy="498.8" r="3.00"/><circle cx="133.4" cy="499.5" r="3.00"/><circle cx="133.8" cy="501.4" r="3.00"/><circle cx="134.1" cy="499.8" r="3.00"/><circle cx="134.5" cy="499.5" r="3.00"/><circle cx="134.8" cy="499.5" r="3.00"/><circle cx="135.1" cy="499.7" r="3.00"/><circle cx="135.5" cy="501.5" r="3.00"/><circle cx="135.8" cy="503.2" r="3.00"/><circle cx="136.2" cy="501.9" r="3.00"/><circle cx="136.5" cy="503.4" r="3.00"/><circle cx="136.8" cy="502.2" r="3.00"/><circle cx="137.2" cy="504.1" r="3.00"/><circle cx="137.5" cy="502.0" r="3.00"/><circle cx="137.9" cy="504.5" r="3.00"/><circle cx="138.2" cy="503.9" r="3.00"/><circle cx="138.5" cy="502.1" r="3.00"/><circle cx="138.9" cy="504.9" r="3.00"/><circle cx="139.2" cy="504.8" r="3.00"/><circle cx="139.5" cy="504.4" r="3.00"/><circle cx="139.9" cy="504.6" r="3.00"/><circle cx="140.2" cy="503.2" r="3.00"/><circle cx="140.6" cy="506.0" r="3.00"/><circle cx="140.9" cy="504.9" r="3.00"/><circle cx="141.2" cy="503.7" r="3.00"/><circle cx="141.6" cy="504.0" r="3.00"/><circle cx="141.9" cy="503.7" r="3.00"/><circle cx="142.3" cy="507.1" r="3.00"/><circle cx="142.6" cy="503.8" r="3.00"/><circle cx="142.9" cy="506.1" r="3.00"/><circle cx="143.3" cy="504.5" r="3.00"/><circle cx="143.6" cy="504.4" r="3.00"/><circle cx="144.0" cy="506.5" r="3.00"/><circle cx="144.3" cy="506.4" r="3.00"/><circle cx="144.6" cy="506.8" r="3.00"/><circle cx="145.0" cy="505.1" r="3.00"/><circle cx="145.3" cy="507.0" r="3.00"/><circle cx="145.7" cy="506.6" r="3.00"/><circle cx="146.0" cy="507.6" r="3.00"/><circle cx="146.3" cy="506.8" r="3.00"/><circle cx="146.7" cy="507.0" r="3.00"/><circle cx="147.0" cy="507.1" r="3.00"/><circle cx="147.3" cy="507.8" r="3.00"/><circle cx="147.7" cy="508.4" r="3.00"/><circle cx="148.0" cy="509.1" r="3.00"/><circle cx="148.4" cy="508.4" r="3.00"/><circle cx="148.7" cy="508.6" r="3.00"/><circle cx="149.0" cy="508.6" r="3.00"/><circle cx="149.4" cy="510.7" r="3.00"/><circle cx="149.7" cy="510.7" r="3.00"/><circle cx="150.1" cy="508.6" r="3.00"/><circle cx="150.4" cy="508.8" r="3.00"/><circle cx="150.7" cy="511.1" r="3.00"/><circle cx="151.1" cy="509.0" r="3.00"/><circle cx="151.4" cy="508.5" r="3.00"/><circle cx="151.8" cy="508.7" r="3.00"/><circle cx="152.1" cy="510.3" r="3.00"/><circle cx="152.4" cy="511.9" r="3.00"/><circle cx="152.8" cy="509.8" r="3.00"/><circle cx="153.1" cy="510.9" r="3.00"/><circle cx="153.5" cy="509.7" r="3.00"/><circle cx="153.8" cy="511.2" r="3.00"/><circle cx="154.1" cy="512.5" r="3.00"/><circle cx="154.5" cy="513.0" r="3.00"/><circle cx="154.8" cy="513.5" r="3.00"/><circle cx="155.2" cy="510.6" r="3.00"/><circle cx="155.5" cy="510.6" r="3.00"/><circle cx="155.8" cy="513.8" r="3.00"/><circle cx="156.2" cy="511.8" r="3.00"/><circle cx="156.5" cy="513.4" r="3.00"/><circle cx="156.8" cy="511.5" r="3.00"/><circle cx="157.2" cy="511.3" r="3.00"/><circle cx="157.5" cy="513.3" r="3.00"/><circle cx="157.9" cy="513.7" r="3.00"/><circle cx="158.2" cy="512.0" r="3.00"/><circle cx="158.5" cy="514.4" r="3.00"/><circle cx="158.9" cy="512.4" r="3.00"/><circle cx="159.2" cy="512.3" r="3.00"/><circle cx="159.6" cy="515.1" r="3.00"/><circle cx="159.9" cy="514.7" r="3.00"/><circle cx="160.2" cy="513.5" r="3.00"/><circle cx="160.6" cy="515.5" r="3.00"/><circle cx="160.9" cy="514.1" r="3.00"/><circle cx="161.3" cy="515.2" r="3.00"/><circle cx="161.6" cy="513.4" r="3.00"/><circle cx="161.9" cy="514.0" r="3.00"/><circle cx="162.3" cy="513.8" r="3.00"/><circle cx="162.6" cy="515.3" r="3.00"/><circle cx="163.0" cy="514.8" r="3.00"/><circle cx="163.3" cy="516.8" r="3.00"/><circle cx="163.6" cy="515.3" r="3.00"/><circle cx="164.0" cy="517.6" r="3.00"/><circle cx="164.3" cy="517.1" r="3.00"/><circle cx="164.6" cy="515.9" r="3.00"/><circle cx="165.0" cy="515.4" r="3.00"/><circle cx="165.3" cy="518.0" r="3.00"/><circle cx="165.7" cy="517.8" r="3.00"/><circle cx="166.0" cy="518.6" r="3.00"/><circle cx="166.3" cy="519.1" r="3.00"/><circle cx="166.7" cy="518.3" r="3.00"/><circle cx="167.0" cy="517.8" r="3.00"/><circle cx="167.4" cy="519.4" r="3.00"/><circle cx="167.7" cy="519.2" r="3.00"/><circle cx="168.0" cy="517.5" r="3.00"/><circle cx="168.4" cy="517.0" r="3.00"/><circle cx="168.7" cy="520.1" r="3.00"/><circle cx="169.1" cy="517.7" r="3.00"/><circle cx="169.4" cy="519.5" r="3.00"/><circle cx="169.7" cy="519.2" r="3.00"/><circle cx="170.1" cy="517.4" r="3.00"/><circle cx="170.4" cy="519.8" r="3.00"/><circle cx="170.8" cy="520.5" r="3.00"/><circle cx="171.1" cy="518.4" r="3.00"/><circle cx="171.4" cy="520.7" r="3.00"/><circle cx="171.8" cy="519.4" r="3.00"/><circle cx="172.1" cy="519.7" r="3.00"/><circle cx="172.4" cy="521.4" r="3.00"/><circle cx="172.8" cy="519.3" r="3.00"/><circle cx="173.1" cy="520.0" r="3.00"/><circle cx="173.5" cy="522.1" r="3.00"/><circle cx="173.8" cy="520.0" r="3.00"/><circle cx="174.1" cy="521.4" r="3.00"/><circle cx="174.5" cy="521.7" r="3.00"/><circle cx="174.8" cy="520.4" r="3.00"/><circle cx="175.2" cy="523.1" r="3.00"/><circle cx="175.5" cy="520.6" r="3.00"/><circle cx="175.8" cy="521.5" r="3.00"/><circle cx="176.2" cy="521.2" r="3.00"/><circle cx="176.5" cy="521.1" r="3.00"/><circle cx="176.9" cy="520.9" r="3.00"/><circle cx="177.2" cy="521.1" r="3.00"/><circle cx="177.5" cy="523.3" r="3.00"/><circle cx="177.9" cy="522.5" r="3.00"/><circle cx="178.2" cy="522.7" r="3.00"/><circle cx="178.6" cy="522.2" r="3.00"/><circle cx="178.9" cy="522.0" r="3.00"/><circle cx="179.2" cy="523.8" r="3.00"/><circle cx="179.6" cy="523.3" r="3.00"/><circle cx="179.9" cy="523.2" r="3.00"/><circle cx="180.3" cy="525.1" r="3.00"/><circle cx="180.6" cy="522.5" r="3.00"/><circle cx="180.9" cy="523.8" r="3.00"/><circle cx="181.3" cy="525.6" r="3.00"/><circle cx="181.6" cy="525.3" r="3.00"/><circle cx="181.9" cy="526.2" r="3.00"/><circle cx="182.3" cy="525.4" r="3.00"/><circle cx="182.6" cy="526.1" r="3.00"/><circle cx="183.0" cy="523.9" r="3.00"/><circle cx="183.3" cy="524.2" r="3.00"/><circle cx="183.6" cy="526.1" r="3.00"/><circle cx="184.0" cy="525.3" r="3.00"/><circle cx="184.3" cy="526.5" r="3.00"/><circle cx="184.7" cy="527.5" r="3.00"/><circle cx="185.0" cy="526.4" r="3.00"/><circle cx="185.3" cy="525.5" r="3.00"/><circle cx="185.7" cy="525.9" r="3.00"/><circle cx="186.0" cy="526.2" r="3.00"/><circle cx="186.4" cy="526.8" r="3.00"/><circle cx="186.7" cy="525.7" r="3.00"/><circle cx="187.0" cy="525.2" r="3.00"/><circle cx="187.4" cy="528.5" r="3.00"/><circle cx="187.7" cy="528.5" r="3.00"/><circle cx="188.1" cy="526.6" r="3.00"/><circle cx="188.4" cy="526.5" r="3.00"/><circle cx="188.7" cy="527.7" r="3.00"/><circle cx="189.1" cy="529.1" r="3.00"/><circle cx="189.4" cy="528.5" r="3.00"/><circle cx="189.7" cy="528.2" r="3.00"/><circle cx="190.1" cy="527.7" r="3.00"/><circle cx="190.4" cy="528.9" r="3.00"/><circle cx="190.8" cy="528.5" r="3.00"/><circle cx="191.1" cy="527.8" r="3.00"/><circle cx="191.4" cy="528.2" r="3.00"/><circle cx="191.8" cy="529.9" r="3.00"/><circle cx="192.1" cy="530.2" r="3.00"/><circle cx="192.5" cy="529.0" r="3.00"/><circle cx="192.8" cy="528.2" r="3.00"/><circle cx="193.1" cy="527.9" r="3.00"/><circle cx="193.5" cy="531.1" r="3.00"/><circle cx="193.8" cy="529.1" r="3.00"/><circle cx="194.2" cy="530.9" r="3.00"/><circle cx="194.5" cy="531.1" r="3.00"/><circle cx="194.8" cy="530.3" r="3.00"/><circle cx="195.2" cy="529.0" r="3.00"/><circle cx="195.5" cy="531.4" r="3.00"/><circle cx="195.9" cy="532.2" r="3.00"/><circle cx="196.2" cy="531.6" r="3.00"/><circle cx="196.5" cy="531.8" r="3.00"/><circle cx="196.9" cy="529.9" r="3.00"/><circle cx="197.2" cy="530.8" r="3.00"/><circle cx="197.6" cy="530.8" r="3.00"/><circle cx="197.9" cy="532.0" r="3.00"/><circle cx="198.2" cy="531.7" r="3.00"/><circle cx="198.6" cy="531.2" r="3.00"/><circle cx="198.9" cy="533.8" r="3.00"/><circle cx="199.2" cy="531.1" r="3.00"/><circle cx="199.6" cy="531.7" r="3.00"/><circle cx="199.9" cy="534.3" r="3.00"/><circle cx="200.3" cy="532.1" r="3.00"/><circle cx="200.6" cy="533.4" r="3.00"/><circle cx="200.9" cy="534.6" r="3.00"/><circle cx="201.3" cy="532.5" r="3.00"/><circle cx="201.6" cy="532.7" r="3.00"/><circle cx="202.0" cy="533.1" r="3.00"/><circle cx="202.3" cy="534.4" r="3.00"/><circle cx="202.6" cy="535.2" r="3.00"/><circle cx="203.0" cy="535.0" r="3.00"/><circle cx="203.3" cy="534.5" r="3.00"/><circle cx="203.7" cy="535.1" r="3.00"/><circle cx="204.0" cy="534.8" r="3.00"/><circle cx="204.3" cy="535.2" r="3.00"/></g><g fill="#231f20"><circle cx="82.0" cy="457.9" r="3.00"/><circle cx="117.0" cy="482.3" r="3.00"/><circle cx="140.6" cy="493.7" r="3.00"/><circle cx="176.0" cy="511.2" r="3.00"/><circle cx="199.1" cy="521.3" r="3.00"/><circle cx="201.6" cy="586.1" r="3.00"/></g><g fill="#dc2920"><circle cx="59.8" cy="429.2" r="3.00"/><circle cx="60.2" cy="433.4" r="3.00"/><circle cx="60.5" cy="434.6" r="3.00"/><circle cx="60.9" cy="436.6" r="3.00"/><circle cx="61.2" cy="437.0" r="3.00"/><circle cx="61.5" cy="438.0" r="3.00"/><circle cx="61.9" cy="439.0" r="3.00"/><circle cx="62.2" cy="440.1" r="3.00"/><circle cx="62.5" cy="440.3" r="3.00"/><circle cx="62.9" cy="441.3" r="3.00"/><circle cx="63.2" cy="442.3" r="3.00"/><circle cx="63.6" cy="442.4" r="3.00"/><circle cx="63.9" cy="442.9" r="3.00"/><circle cx="64.2" cy="444.0" r="3.00"/><circle cx="64.6" cy="445.1" r="3.00"/><circle cx="64.9" cy="446.0" r="3.00"/><circle cx="65.3" cy="446.4" r="3.00"/><circle cx="65.6" cy="446.0" r="3.00"/><circle cx="65.9" cy="447.1" r="3.00"/><circle cx="66.3" cy="448.1" r="3.00"/><circle cx="66.6" cy="447.8" r="3.00"/><circle cx="67.0" cy="449.0" r="3.00"/><circle cx="67.3" cy="449.1" r="3.00"/><circle cx="67.6" cy="449.1" r="3.00"/><circle cx="68.0" cy="450.1" r="3.00"/><circle cx="68.3" cy="450.5" r="3.00"/><circle cx="68.7" cy="451.8" r="3.00"/><circle cx="69.0" cy="451.2" r="3.00"/><circle cx="69.3" cy="452.6" r="3.00"/><circle cx="69.7" cy="452.4" r="3.00"/><circle cx="70.0" cy="454.1" r="3.00"/><circle cx="70.4" cy="453.8" r="3.00"/><circle cx="70.7" cy="453.6" r="3.00"/><circle cx="71.0" cy="455.1" r="3.00"/><circle cx="71.4" cy="454.8" r="3.00"/><circle cx="71.7" cy="455.1" r="3.00"/><circle cx="72.0" cy="455.3" r="3.00"/><circle cx="72.4" cy="456.0" r="3.00"/><circle cx="72.7" cy="456.6" r="3.00"/><circle cx="73.1" cy="457.3" r="3.00"/><circle cx="73.4" cy="457.2" r="3.00"/><circle cx="73.7" cy="458.6" r="3.00"/><circle cx="74.1" cy="458.6" r="3.00"/><circle cx="74.4" cy="457.4" r="3.00"/><circle cx="74.8" cy="459.7" r="3.00"/><circle cx="75.1" cy="459.2" r="3.00"/><circle cx="75.4" cy="458.5" r="3.00"/><circle cx="75.8" cy="459.0" r="3.00"/><circle cx="76.1" cy="460.8" r="3.00"/><circle cx="76.5" cy="460.7" r="3.00"/><circle cx="76.8" cy="461.4" r="3.00"/><circle cx="77.1" cy="461.9" r="3.00"/><circle cx="77.5" cy="462.0" r="3.00"/><circle cx="77.8" cy="460.7" r="3.00"/><circle cx="78.2" cy="461.2" r="3.00"/><circle cx="78.5" cy="462.3" r="3.00"/><circle cx="78.8" cy="462.6" r="3.00"/><circle cx="79.2" cy="463.2" r="3.00"/><circle cx="79.5" cy="462.8" r="3.00"/><circle cx="79.8" cy="462.8" r="3.00"/><circle cx="80.2" cy="464.1" r="3.00"/><circle cx="80.5" cy="463.5" r="3.00"/><circle cx="80.9" cy="463.2" r="3.00"/><circle cx="81.2" cy="464.3" r="3.00"/><circle cx="81.5" cy="464.4" r="3.00"/><circle cx="81.9" cy="466.6" r="3.00"/><circle cx="82.2" cy="466.4" r="3.00"/><circle cx="82.6" cy="466.4" r="3.00"/><circle cx="82.9" cy="466.5" r="3.00"/><circle cx="83.2" cy="465.7" r="3.00"/><circle cx="83.6" cy="467.6" r="3.00"/><circle cx="83.9" cy="467.7" r="3.00"/><circle cx="84.3" cy="467.3" r="3.00"/><circle cx="84.6" cy="466.5" r="3.00"/><circle cx="84.9" cy="467.8" r="3.00"/><circle cx="85.3" cy="467.2" r="3.00"/><circle cx="85.6" cy="468.7" r="3.00"/><circle cx="86.0" cy="468.7" r="3.00"/><circle cx="86.3" cy="468.8" r="3.00"/><circle cx="86.6" cy="469.9" r="3.00"/><circle cx="87.0" cy="469.6" r="3.00"/><circle cx="87.3" cy="469.9" r="3.00"/><circle cx="87.6" cy="469.4" r="3.00"/><circle cx="88.0" cy="470.9" r="3.00"/><circle cx="88.3" cy="469.3" r="3.00"/><circle cx="88.7" cy="469.6" r="3.00"/><circle cx="89.0" cy="470.0" r="3.00"/><circle cx="89.3" cy="471.3" r="3.00"/><circle cx="89.7" cy="470.0" r="3.00"/><circle cx="90.0" cy="471.7" r="3.00"/><circle cx="90.4" cy="471.9" r="3.00"/><circle cx="90.7" cy="472.6" r="3.00"/><circle cx="91.0" cy="473.2" r="3.00"/><circle cx="91.4" cy="471.7" r="3.00"/><circle cx="91.7" cy="472.4" r="3.00"/><circle cx="92.1" cy="473.3" r="3.00"/><circle cx="92.4" cy="473.1" r="3.00"/><circle cx="92.7" cy="473.1" r="3.00"/><circle cx="93.1" cy="473.9" r="3.00"/><circle cx="93.4" cy="474.1" r="3.00"/><circle cx="93.8" cy="474.8" r="3.00"/><circle cx="94.1" cy="474.7" r="3.00"/><circle cx="94.4" cy="475.4" r="3.00"/><circle cx="94.8" cy="474.6" r="3.00"/><circle cx="95.1" cy="475.4" r="3.00"/><circle cx="95.5" cy="474.7" r="3.00"/><circle cx="95.8" cy="473.6" r="3.00"/><circle cx="96.1" cy="475.2" r="3.00"/><circle cx="96.5" cy="475.6" r="3.00"/><circle cx="96.8" cy="474.3" r="3.00"/><circle cx="97.1" cy="475.5" r="3.00"/><circle cx="97.5" cy="475.8" r="3.00"/><circle cx="97.8" cy="476.8" r="3.00"/><circle cx="98.2" cy="475.3" r="3.00"/><circle cx="98.5" cy="475.1" r="3.00"/><circle cx="98.8" cy="478.0" r="3.00"/><circle cx="99.2" cy="477.4" r="3.00"/><circle cx="99.5" cy="476.2" r="3.00"/><circle cx="99.9" cy="478.3" r="3.00"/><circle cx="100.2" cy="476.9" r="3.00"/><circle cx="100.5" cy="477.1" r="3.00"/><circle cx="100.9" cy="477.6" r="3.00"/><circle cx="101.2" cy="478.7" r="3.00"/><circle cx="101.6" cy="477.9" r="3.00"/><circle cx="101.9" cy="478.2" r="3.00"/><circle cx="102.2" cy="478.2" r="3.00"/><circle cx="102.6" cy="479.3" r="3.00"/><circle cx="102.9" cy="478.8" r="3.00"/><circle cx="103.3" cy="480.8" r="3.00"/><circle cx="103.6" cy="480.9" r="3.00"/><circle cx="103.9" cy="480.7" r="3.00"/><circle cx="104.3" cy="481.2" r="3.00"/><circle cx="104.6" cy="480.3" r="3.00"/><circle cx="104.9" cy="479.8" r="3.00"/><circle cx="105.3" cy="482.0" r="3.00"/><circle cx="105.6" cy="480.6" r="3.00"/><circle cx="106.0" cy="480.2" r="3.00"/><circle cx="106.3" cy="481.3" r="3.00"/><circle cx="106.6" cy="480.8" r="3.00"/><circle cx="107.0" cy="480.6" r="3.00"/><circle cx="107.3" cy="482.1" r="3.00"/><circle cx="107.7" cy="483.3" r="3.00"/><circle cx="108.0" cy="483.1" r="3.00"/><circle cx="108.3" cy="483.8" r="3.00"/><circle cx="108.7" cy="483.3" r="3.00"/><circle cx="109.0" cy="481.9" r="3.00"/><circle cx="109.4" cy="482.7" r="3.00"/><circle cx="109.7" cy="482.5" r="3.00"/><circle cx="110.0" cy="482.6" r="3.00"/><circle cx="110.4" cy="483.2" r="3.00"/><circle cx="110.7" cy="484.4" r="3.00"/><circle cx="111.1" cy="484.3" r="3.00"/><circle cx="111.4" cy="484.8" r="3.00"/><circle cx="111.7" cy="485.3" r="3.00"/><circle cx="112.1" cy="484.1" r="3.00"/><circle cx="112.4" cy="485.9" r="3.00"/><circle cx="112.8" cy="484.4" r="3.00"/><circle cx="113.1" cy="484.9" r="3.00"/><circle cx="113.4" cy="484.4" r="3.00"/><circle cx="113.8" cy="486.0" r="3.00"/><circle cx="114.1" cy="484.9" r="3.00"/><circle cx="114.4" cy="485.2" r="3.00"/><circle cx="114.8" cy="486.3" r="3.00"/><circle cx="115.1" cy="485.9" r="3.00"/><circle cx="115.5" cy="487.0" r="3.00"/><circle cx="115.8" cy="488.2" r="3.00"/><circle cx="116.1" cy="486.8" r="3.00"/><circle cx="116.5" cy="487.8" r="3.00"/><circle cx="116.8" cy="486.7" r="3.00"/><circle cx="117.2" cy="489.1" r="3.00"/><circle cx="117.5" cy="489.0" r="3.00"/><circle cx="117.8" cy="488.7" r="3.00"/><circle cx="118.2" cy="488.5" r="3.00"/><circle cx="118.5" cy="487.8" r="3.00"/><circle cx="118.9" cy="487.5" r="3.00"/><circle cx="119.2" cy="489.0" r="3.00"/><circle cx="119.5" cy="488.1" r="3.00"/><circle cx="119.9" cy="488.8" r="3.00"/><circle cx="120.2" cy="490.5" r="3.00"/><circle cx="120.6" cy="490.6" r="3.00"/><circle cx="120.9" cy="490.4" r="3.00"/><circle cx="121.2" cy="488.9" r="3.00"/><circle cx="121.6" cy="491.6" r="3.00"/><circle cx="121.9" cy="491.8" r="3.00"/><circle cx="122.2" cy="489.6" r="3.00"/><circle cx="122.6" cy="490.0" r="3.00"/><circle cx="122.9" cy="490.0" r="3.00"/><circle cx="123.3" cy="490.6" r="3.00"/><circle cx="123.6" cy="490.5" r="3.00"/><circle cx="123.9" cy="492.7" r="3.00"/><circle cx="124.3" cy="491.5" r="3.00"/><circle cx="124.6" cy="492.3" r="3.00"/><circle cx="125.0" cy="492.0" r="3.00"/><circle cx="125.3" cy="492.8" r="3.00"/><circle cx="125.6" cy="493.3" r="3.00"/><circle cx="126.0" cy="493.6" r="3.00"/><circle cx="126.3" cy="493.9" r="3.00"/><circle cx="126.7" cy="493.4" r="3.00"/><circle cx="127.0" cy="492.2" r="3.00"/><circle cx="127.3" cy="493.2" r="3.00"/><circle cx="127.7" cy="494.1" r="3.00"/><circle cx="128.0" cy="492.6" r="3.00"/><circle cx="128.4" cy="494.3" r="3.00"/><circle cx="128.7" cy="494.2" r="3.00"/><circle cx="129.0" cy="493.4" r="3.00"/><circle cx="129.4" cy="494.7" r="3.00"/><circle cx="129.7" cy="495.3" r="3.00"/><circle cx="130.0" cy="495.1" r="3.00"/><circle cx="130.4" cy="494.8" r="3.00"/><circle cx="130.7" cy="493.9" r="3.00"/><circle cx="131.1" cy="494.5" r="3.00"/><circle cx="131.4" cy="494.3" r="3.00"/><circle cx="131.7" cy="495.6" r="3.00"/><circle cx="132.1" cy="495.9" r="3.00"/><circle cx="132.4" cy="496.2" r="3.00"/><circle cx="132.8" cy="497.1" r="3.00"/><circle cx="133.1" cy="495.4" r="3.00"/><circle cx="133.4" cy="497.6" r="3.00"/><circle cx="133.8" cy="497.2" r="3.00"/><circle cx="134.1" cy="497.5" r="3.00"/><circle cx="134.5" cy="496.7" r="3.00"/><circle cx="134.8" cy="496.8" r="3.00"/><circle cx="135.1" cy="497.9" r="3.00"/><circle cx="135.5" cy="498.3" r="3.00"/><circle cx="135.8" cy="498.3" r="3.00"/><circle cx="136.2" cy="498.2" r="3.00"/><circle cx="136.5" cy="498.2" r="3.00"/><circle cx="136.8" cy="497.2" r="3.00"/><circle cx="137.2" cy="497.0" r="3.00"/><circle cx="137.5" cy="497.9" r="3.00"/><circle cx="137.9" cy="499.7" r="3.00"/><circle cx="138.2" cy="498.7" r="3.00"/><circle cx="138.5" cy="498.9" r="3.00"/><circle cx="138.9" cy="497.8" r="3.00"/><circle cx="139.2" cy="499.6" r="3.00"/><circle cx="139.5" cy="498.6" r="3.00"/><circle cx="139.9" cy="498.5" r="3.00"/><circle cx="140.2" cy="499.5" r="3.00"/><circle cx="140.6" cy="499.7" r="3.00"/><circle cx="140.9" cy="500.9" r="3.00"/><circle cx="141.2" cy="501.2" r="3.00"/><circle cx="141.6" cy="498.8" r="3.00"/><circle cx="141.9" cy="500.1" r="3.00"/><circle cx="142.3" cy="501.1" r="3.00"/><circle cx="142.6" cy="499.7" r="3.00"/><circle cx="142.9" cy="502.0" r="3.00"/><circle cx="143.3" cy="499.6" r="3.00"/><circle cx="143.6" cy="502.0" r="3.00"/><circle cx="144.0" cy="499.8" r="3.00"/><circle cx="144.3" cy="501.9" r="3.00"/><circle cx="144.6" cy="500.3" r="3.00"/><circle cx="145.0" cy="502.9" r="3.00"/><circle cx="145.3" cy="502.8" r="3.00"/><circle cx="145.7" cy="503.2" r="3.00"/><circle cx="146.0" cy="502.6" r="3.00"/><circle cx="146.3" cy="501.5" r="3.00"/><circle cx="146.7" cy="503.3" r="3.00"/><circle cx="147.0" cy="503.5" r="3.00"/><circle cx="147.3" cy="502.0" r="3.00"/><circle cx="147.7" cy="502.6" r="3.00"/><circle cx="148.0" cy="504.2" r="3.00"/><circle cx="148.4" cy="503.7" r="3.00"/><circle cx="148.7" cy="502.5" r="3.00"/><circle cx="149.0" cy="503.2" r="3.00"/><circle cx="149.4" cy="502.2" r="3.00"/><circle cx="149.7" cy="502.9" r="3.00"/><circle cx="150.1" cy="503.1" r="3.00"/><circle cx="150.4" cy="503.1" r="3.00"/><circle cx="150.7" cy="505.3" r="3.00"/><circle cx="151.1" cy="504.7" r="3.00"/><circle cx="151.4" cy="503.5" r="3.00"/><circle cx="151.8" cy="505.1" r="3.00"/><circle cx="152.1" cy="504.8" r="3.00"/><circle cx="152.4" cy="504.5" r="3.00"/><circle cx="152.8" cy="506.1" r="3.00"/><circle cx="153.1" cy="504.6" r="3.00"/><circle cx="153.5" cy="505.6" r="3.00"/><circle cx="153.8" cy="504.3" r="3.00"/><circle cx="154.1" cy="505.6" r="3.00"/><circle cx="154.5" cy="507.1" r="3.00"/><circle cx="154.8" cy="505.1" r="3.00"/><circle cx="155.2" cy="505.5" r="3.00"/><circle cx="155.5" cy="504.9" r="3.00"/><circle cx="155.8" cy="505.4" r="3.00"/><circle cx="156.2" cy="506.3" r="3.00"/><circle cx="156.5" cy="505.8" r="3.00"/><circle cx="156.8" cy="507.6" r="3.00"/><circle cx="157.2" cy="505.8" r="3.00"/><circle cx="157.5" cy="506.3" r="3.00"/><circle cx="157.9" cy="507.2" r="3.00"/><circle cx="158.2" cy="508.7" r="3.00"/><circle cx="158.5" cy="507.8" r="3.00"/><circle cx="158.9" cy="508.1" r="3.00"/><circle cx="159.2" cy="507.4" r="3.00"/><circle cx="159.6" cy="506.6" r="3.00"/><circle cx="159.9" cy="508.7" r="3.00"/><circle cx="160.2" cy="507.0" r="3.00"/><circle cx="160.6" cy="507.9" r="3.00"/><circle cx="160.9" cy="509.6" r="3.00"/><circle cx="161.3" cy="508.2" r="3.00"/><circle cx="161.6" cy="508.7" r="3.00"/><circle cx="161.9" cy="509.7" r="3.00"/><circle cx="162.3" cy="510.3" r="3.00"/><circle cx="162.6" cy="510.3" r="3.00"/><circle cx="163.0" cy="508.5" r="3.00"/><circle cx="163.3" cy="509.7" r="3.00"/><circle cx="163.6" cy="509.6" r="3.00"/><circle cx="164.0" cy="509.3" r="3.00"/><circle cx="164.3" cy="511.0" r="3.00"/><circle cx="164.6" cy="511.0" r="3.00"/><circle cx="165.0" cy="509.7" r="3.00"/><circle cx="165.3" cy="511.2" r="3.00"/><circle cx="165.7" cy="511.8" r="3.00"/><circle cx="166.0" cy="510.0" r="3.00"/><circle cx="166.3" cy="511.6" r="3.00"/><circle cx="166.7" cy="512.3" r="3.00"/><circle cx="167.0" cy="511.0" r="3.00"/><circle cx="167.4" cy="512.2" r="3.00"/><circle cx="167.7" cy="512.7" r="3.00"/><circle cx="168.0" cy="512.6" r="3.00"/><circle cx="168.4" cy="511.7" r="3.00"/><circle cx="168.7" cy="512.8" r="3.00"/><circle cx="169.1" cy="513.5" r="3.00"/><circle cx="169.4" cy="512.5" r="3.00"/><circle cx="169.7" cy="513.3" r="3.00"/><circle cx="170.1" cy="513.8" r="3.00"/><circle cx="170.4" cy="513.0" r="3.00"/><circle cx="170.8" cy="513.6" r="3.00"/><circle cx="171.1" cy="513.1" r="3.00"/><circle cx="171.4" cy="512.8" r="3.00"/><circle cx="171.8" cy="513.7" r="3.00"/><circle cx="172.1" cy="512.8" r="3.00"/><circle cx="172.4" cy="515.3" r="3.00"/><circle cx="172.8" cy="513.5" r="3.00"/><circle cx="173.1" cy="515.5" r="3.00"/><circle cx="173.5" cy="515.6" r="3.00"/><circle cx="173.8" cy="514.2" r="3.00"/><circle cx="174.1" cy="513.8" r="3.00"/><circle cx="174.5" cy="515.6" r="3.00"/><circle cx="174.8" cy="515.1" r="3.00"/><circle cx="175.2" cy="514.5" r="3.00"/><circle cx="175.5" cy="516.3" r="3.00"/><circle cx="175.8" cy="515.9" r="3.00"/><circle cx="176.2" cy="515.5" r="3.00"/><circle cx="176.5" cy="515.1" r="3.00"/><circle cx="176.9" cy="515.9" r="3.00"/><circle cx="177.2" cy="517.3" r="3.00"/><circle cx="177.5" cy="515.5" r="3.00"/><circle cx="177.9" cy="515.7" r="3.00"/><circle cx="178.2" cy="516.1" r="3.00"/><circle cx="178.6" cy="516.3" r="3.00"/><circle cx="178.9" cy="517.2" r="3.00"/><circle cx="179.2" cy="516.8" r="3.00"/><circle cx="179.6" cy="516.0" r="3.00"/><circle cx="179.9" cy="516.3" r="3.00"/><circle cx="180.3" cy="518.7" r="3.00"/><circle cx="180.6" cy="517.6" r="3.00"/><circle cx="180.9" cy="517.1" r="3.00"/><circle cx="181.3" cy="519.5" r="3.00"/><circle cx="181.6" cy="518.2" r="3.00"/><circle cx="181.9" cy="519.7" r="3.00"/><circle cx="182.3" cy="519.7" r="3.00"/><circle cx="182.6" cy="519.4" r="3.00"/><circle cx="183.0" cy="519.0" r="3.00"/><circle cx="183.3" cy="519.2" r="3.00"/><circle cx="183.6" cy="519.5" r="3.00"/><circle cx="184.0" cy="518.3" r="3.00"/><circle cx="184.3" cy="519.8" r="3.00"/><circle cx="184.7" cy="519.3" r="3.00"/><circle cx="185.0" cy="520.6" r="3.00"/><circle cx="185.3" cy="519.6" r="3.00"/><circle cx="185.7" cy="519.8" r="3.00"/><circle cx="186.0" cy="520.2" r="3.00"/><circle cx="186.4" cy="520.1" r="3.00"/><circle cx="186.7" cy="520.8" r="3.00"/><circle cx="187.0" cy="520.2" r="3.00"/><circle cx="187.4" cy="520.4" r="3.00"/><circle cx="187.7" cy="522.7" r="3.00"/><circle cx="188.1" cy="521.8" r="3.00"/><circle cx="188.4" cy="522.9" r="3.00"/><circle cx="188.7" cy="520.7" r="3.00"/><circle cx="189.1" cy="522.4" r="3.00"/><circle cx="189.4" cy="523.2" r="3.00"/><circle cx="189.7" cy="521.6" r="3.00"/><circle cx="190.1" cy="523.9" r="3.00"/><circle cx="190.4" cy="523.9" r="3.00"/><circle cx="190.8" cy="522.5" r="3.00"/><circle cx="191.1" cy="523.2" r="3.00"/><circle cx="191.4" cy="524.0" r="3.00"/><circle cx="191.8" cy="523.3" r="3.00"/><circle cx="192.1" cy="524.6" r="3.00"/><circle cx="192.5" cy="524.4" r="3.00"/><circle cx="192.8" cy="523.7" r="3.00"/><circle cx="193.1" cy="523.1" r="3.00"/><circle cx="193.5" cy="523.8" r="3.00"/><circle cx="193.8" cy="524.1" r="3.00"/><circle cx="194.2" cy="524.0" r="3.00"/><circle cx="194.5" cy="525.2" r="3.00"/><circle cx="194.8" cy="523.7" r="3.00"/><circle cx="195.2" cy="524.9" r="3.00"/><circle cx="195.5" cy="526.1" r="3.00"/><circle cx="195.9" cy="526.9" r="3.00"/><circle cx="196.2" cy="526.8" r="3.00"/><circle cx="196.5" cy="526.7" r="3.00"/><circle cx="196.9" cy="525.4" r="3.00"/><circle cx="197.2" cy="525.3" r="3.00"/><circle cx="197.6" cy="525.2" r="3.00"/><circle cx="197.9" cy="526.1" r="3.00"/><circle cx="198.2" cy="527.3" r="3.00"/><circle cx="198.6" cy="525.9" r="3.00"/><circle cx="198.9" cy="525.7" r="3.00"/><circle cx="199.2" cy="526.6" r="3.00"/></g><g fill="#dc2920"><circle cx="82.0" cy="454.7" r="3.00"/><circle cx="117.0" cy="478.5" r="3.00"/><circle cx="140.6" cy="489.3" r="3.00"/><circle cx="176.0" cy="506.9" r="3.00"/><circle cx="199.1" cy="516.9" r="3.00"/></g></g>
<g clip-path="url(#cp21)"><g fill="#dc2920"><circle cx="242.6" cy="430.0" r="3.00"/><circle cx="243.0" cy="434.1" r="3.00"/><circle cx="243.3" cy="436.1" r="3.00"/><circle cx="243.7" cy="436.8" r="3.00"/><circle cx="244.0" cy="438.2" r="3.00"/><circle cx="244.3" cy="440.1" r="3.00"/><circle cx="244.7" cy="440.5" r="3.00"/><circle cx="245.0" cy="441.1" r="3.00"/><circle cx="245.3" cy="442.5" r="3.00"/><circle cx="245.7" cy="442.9" r="3.00"/><circle cx="246.0" cy="443.8" r="3.00"/><circle cx="246.4" cy="445.1" r="3.00"/><circle cx="246.7" cy="445.9" r="3.00"/><circle cx="247.0" cy="447.1" r="3.00"/><circle cx="247.4" cy="447.6" r="3.00"/><circle cx="247.7" cy="448.5" r="3.00"/><circle cx="248.1" cy="448.3" r="3.00"/><circle cx="248.4" cy="449.3" r="3.00"/><circle cx="248.7" cy="449.5" r="3.00"/><circle cx="249.1" cy="451.0" r="3.00"/><circle cx="249.4" cy="451.2" r="3.00"/><circle cx="249.8" cy="451.7" r="3.00"/><circle cx="250.1" cy="453.7" r="3.00"/><circle cx="250.4" cy="453.9" r="3.00"/><circle cx="250.8" cy="454.3" r="3.00"/><circle cx="251.1" cy="454.0" r="3.00"/><circle cx="251.5" cy="454.8" r="3.00"/><circle cx="251.8" cy="456.9" r="3.00"/><circle cx="252.1" cy="455.8" r="3.00"/><circle cx="252.5" cy="457.1" r="3.00"/><circle cx="252.8" cy="458.8" r="3.00"/><circle cx="253.2" cy="458.2" r="3.00"/><circle cx="253.5" cy="458.5" r="3.00"/><circle cx="253.8" cy="460.3" r="3.00"/><circle cx="254.2" cy="460.8" r="3.00"/><circle cx="254.5" cy="461.5" r="3.00"/><circle cx="254.8" cy="461.2" r="3.00"/><circle cx="255.2" cy="461.7" r="3.00"/><circle cx="255.5" cy="462.2" r="3.00"/><circle cx="255.9" cy="462.5" r="3.00"/><circle cx="256.2" cy="464.8" r="3.00"/><circle cx="256.5" cy="464.1" r="3.00"/><circle cx="256.9" cy="464.9" r="3.00"/><circle cx="257.2" cy="466.4" r="3.00"/><circle cx="257.6" cy="465.2" r="3.00"/><circle cx="257.9" cy="467.1" r="3.00"/><circle cx="258.2" cy="466.5" r="3.00"/><circle cx="258.6" cy="467.0" r="3.00"/><circle cx="258.9" cy="467.8" r="3.00"/><circle cx="259.3" cy="469.5" r="3.00"/><circle cx="259.6" cy="470.6" r="3.00"/><circle cx="259.9" cy="470.4" r="3.00"/><circle cx="260.3" cy="471.4" r="3.00"/><circle cx="260.6" cy="471.9" r="3.00"/><circle cx="261.0" cy="473.2" r="3.00"/><circle cx="261.3" cy="472.1" r="3.00"/><circle cx="261.6" cy="473.0" r="3.00"/><circle cx="262.0" cy="473.3" r="3.00"/><circle cx="262.3" cy="474.8" r="3.00"/><circle cx="262.6" cy="476.7" r="3.00"/><circle cx="263.0" cy="475.1" r="3.00"/><circle cx="263.3" cy="478.0" r="3.00"/><circle cx="263.7" cy="478.4" r="3.00"/><circle cx="264.0" cy="476.7" r="3.00"/><circle cx="264.3" cy="478.5" r="3.00"/><circle cx="264.7" cy="478.8" r="3.00"/><circle cx="265.0" cy="479.0" r="3.00"/><circle cx="265.4" cy="480.0" r="3.00"/><circle cx="265.7" cy="481.3" r="3.00"/><circle cx="266.0" cy="481.6" r="3.00"/><circle cx="266.4" cy="482.7" r="3.00"/><circle cx="266.7" cy="482.8" r="3.00"/><circle cx="267.1" cy="485.1" r="3.00"/><circle cx="267.4" cy="484.3" r="3.00"/><circle cx="267.7" cy="486.3" r="3.00"/><circle cx="268.1" cy="486.7" r="3.00"/><circle cx="268.4" cy="485.2" r="3.00"/><circle cx="268.8" cy="486.4" r="3.00"/><circle cx="269.1" cy="488.4" r="3.00"/><circle cx="269.4" cy="487.4" r="3.00"/><circle cx="269.8" cy="488.8" r="3.00"/><circle cx="270.1" cy="490.4" r="3.00"/><circle cx="270.4" cy="488.7" r="3.00"/><circle cx="270.8" cy="491.7" r="3.00"/><circle cx="271.1" cy="492.6" r="3.00"/><circle cx="271.5" cy="492.5" r="3.00"/><circle cx="271.8" cy="493.6" r="3.00"/><circle cx="272.1" cy="494.5" r="3.00"/><circle cx="272.5" cy="493.3" r="3.00"/><circle cx="272.8" cy="495.4" r="3.00"/><circle cx="273.2" cy="494.8" r="3.00"/><circle cx="273.5" cy="496.3" r="3.00"/><circle cx="273.8" cy="494.9" r="3.00"/><circle cx="274.2" cy="497.6" r="3.00"/><circle cx="274.5" cy="497.3" r="3.00"/><circle cx="274.9" cy="497.3" r="3.00"/><circle cx="275.2" cy="499.1" r="3.00"/><circle cx="275.5" cy="498.3" r="3.00"/><circle cx="275.9" cy="500.4" r="3.00"/><circle cx="276.2" cy="500.7" r="3.00"/><circle cx="276.6" cy="501.2" r="3.00"/><circle cx="276.9" cy="501.8" r="3.00"/><circle cx="277.2" cy="501.9" r="3.00"/><circle cx="277.6" cy="503.6" r="3.00"/><circle cx="277.9" cy="503.9" r="3.00"/><circle cx="278.3" cy="504.8" r="3.00"/><circle cx="278.6" cy="505.2" r="3.00"/><circle cx="278.9" cy="504.4" r="3.00"/><circle cx="279.3" cy="505.4" r="3.00"/><circle cx="279.6" cy="505.0" r="3.00"/><circle cx="279.9" cy="505.6" r="3.00"/><circle cx="280.3" cy="508.3" r="3.00"/><circle cx="280.6" cy="508.9" r="3.00"/><circle cx="281.0" cy="507.4" r="3.00"/><circle cx="281.3" cy="510.2" r="3.00"/><circle cx="281.6" cy="509.0" r="3.00"/><circle cx="282.0" cy="511.2" r="3.00"/><circle cx="282.3" cy="511.9" r="3.00"/><circle cx="282.7" cy="511.6" r="3.00"/><circle cx="283.0" cy="511.4" r="3.00"/><circle cx="283.3" cy="511.5" r="3.00"/><circle cx="283.7" cy="513.9" r="3.00"/><circle cx="284.0" cy="514.8" r="3.00"/><circle cx="284.4" cy="513.3" r="3.00"/><circle cx="284.7" cy="514.9" r="3.00"/><circle cx="285.0" cy="514.9" r="3.00"/><circle cx="285.4" cy="515.5" r="3.00"/><circle cx="285.7" cy="515.6" r="3.00"/><circle cx="286.1" cy="515.5" r="3.00"/><circle cx="286.4" cy="517.0" r="3.00"/><circle cx="286.7" cy="518.3" r="3.00"/><circle cx="287.1" cy="519.4" r="3.00"/><circle cx="287.4" cy="520.1" r="3.00"/><circle cx="287.7" cy="518.9" r="3.00"/><circle cx="288.1" cy="520.7" r="3.00"/><circle cx="288.4" cy="521.2" r="3.00"/><circle cx="288.8" cy="521.2" r="3.00"/><circle cx="289.1" cy="521.5" r="3.00"/><circle cx="289.4" cy="522.3" r="3.00"/><circle cx="289.8" cy="521.3" r="3.00"/><circle cx="290.1" cy="523.6" r="3.00"/><circle cx="290.5" cy="523.3" r="3.00"/><circle cx="290.8" cy="525.4" r="3.00"/><circle cx="291.1" cy="525.8" r="3.00"/><circle cx="291.5" cy="525.9" r="3.00"/><circle cx="291.8" cy="526.2" r="3.00"/><circle cx="292.2" cy="526.1" r="3.00"/><circle cx="292.5" cy="526.3" r="3.00"/><circle cx="292.8" cy="528.0" r="3.00"/><circle cx="293.2" cy="527.3" r="3.00"/><circle cx="293.5" cy="529.2" r="3.00"/><circle cx="293.9" cy="528.8" r="3.00"/><circle cx="294.2" cy="528.1" r="3.00"/><circle cx="294.5" cy="529.5" r="3.00"/><circle cx="294.9" cy="529.4" r="3.00"/><circle cx="295.2" cy="531.2" r="3.00"/><circle cx="295.6" cy="530.3" r="3.00"/><circle cx="295.9" cy="529.9" r="3.00"/><circle cx="296.2" cy="531.3" r="3.00"/><circle cx="296.6" cy="530.9" r="3.00"/><circle cx="296.9" cy="531.8" r="3.00"/><circle cx="297.2" cy="532.4" r="3.00"/><circle cx="297.6" cy="533.7" r="3.00"/><circle cx="297.9" cy="533.9" r="3.00"/><circle cx="298.3" cy="535.3" r="3.00"/><circle cx="298.6" cy="533.9" r="3.00"/><circle cx="298.9" cy="536.8" r="3.00"/><circle cx="299.3" cy="535.0" r="3.00"/><circle cx="299.6" cy="535.1" r="3.00"/><circle cx="300.0" cy="537.3" r="3.00"/><circle cx="300.3" cy="536.4" r="3.00"/><circle cx="300.6" cy="537.9" r="3.00"/><circle cx="301.0" cy="537.1" r="3.00"/><circle cx="301.3" cy="538.2" r="3.00"/><circle cx="301.7" cy="540.2" r="3.00"/><circle cx="302.0" cy="539.7" r="3.00"/><circle cx="302.3" cy="541.2" r="3.00"/><circle cx="302.7" cy="539.5" r="3.00"/><circle cx="303.0" cy="539.6" r="3.00"/><circle cx="303.4" cy="539.7" r="3.00"/><circle cx="303.7" cy="541.4" r="3.00"/><circle cx="304.0" cy="542.2" r="3.00"/><circle cx="304.4" cy="542.3" r="3.00"/><circle cx="304.7" cy="542.9" r="3.00"/><circle cx="305.0" cy="543.8" r="3.00"/><circle cx="305.4" cy="542.4" r="3.00"/><circle cx="305.7" cy="544.3" r="3.00"/><circle cx="306.1" cy="543.3" r="3.00"/><circle cx="306.4" cy="544.6" r="3.00"/><circle cx="306.7" cy="544.2" r="3.00"/><circle cx="307.1" cy="545.1" r="3.00"/><circle cx="307.4" cy="546.1" r="3.00"/><circle cx="307.8" cy="545.8" r="3.00"/><circle cx="308.1" cy="546.1" r="3.00"/><circle cx="308.4" cy="546.1" r="3.00"/><circle cx="308.8" cy="547.7" r="3.00"/><circle cx="309.1" cy="547.8" r="3.00"/><circle cx="309.5" cy="547.6" r="3.00"/><circle cx="309.8" cy="548.6" r="3.00"/><circle cx="310.1" cy="548.7" r="3.00"/><circle cx="310.5" cy="550.2" r="3.00"/><circle cx="310.8" cy="548.5" r="3.00"/><circle cx="311.2" cy="549.8" r="3.00"/><circle cx="311.5" cy="550.1" r="3.00"/><circle cx="311.8" cy="550.2" r="3.00"/><circle cx="312.2" cy="550.5" r="3.00"/><circle cx="312.5" cy="552.8" r="3.00"/><circle cx="312.8" cy="552.4" r="3.00"/><circle cx="313.2" cy="552.1" r="3.00"/><circle cx="313.5" cy="551.3" r="3.00"/><circle cx="313.9" cy="553.1" r="3.00"/><circle cx="314.2" cy="554.9" r="3.00"/><circle cx="314.5" cy="552.5" r="3.00"/><circle cx="314.9" cy="554.0" r="3.00"/><circle cx="315.2" cy="555.8" r="3.00"/><circle cx="315.6" cy="555.3" r="3.00"/><circle cx="315.9" cy="553.9" r="3.00"/><circle cx="316.2" cy="556.1" r="3.00"/><circle cx="316.6" cy="555.8" r="3.00"/><circle cx="316.9" cy="556.8" r="3.00"/><circle cx="317.3" cy="556.3" r="3.00"/><circle cx="317.6" cy="557.0" r="3.00"/><circle cx="317.9" cy="557.8" r="3.00"/><circle cx="318.3" cy="558.8" r="3.00"/><circle cx="318.6" cy="558.6" r="3.00"/><circle cx="319.0" cy="558.0" r="3.00"/><circle cx="319.3" cy="558.6" r="3.00"/><circle cx="319.6" cy="559.2" r="3.00"/><circle cx="320.0" cy="559.1" r="3.00"/><circle cx="320.3" cy="560.0" r="3.00"/><circle cx="320.7" cy="559.9" r="3.00"/><circle cx="321.0" cy="560.1" r="3.00"/><circle cx="321.3" cy="560.0" r="3.00"/><circle cx="321.7" cy="559.7" r="3.00"/><circle cx="322.0" cy="562.1" r="3.00"/><circle cx="322.3" cy="560.3" r="3.00"/><circle cx="322.7" cy="560.6" r="3.00"/><circle cx="323.0" cy="561.4" r="3.00"/><circle cx="323.4" cy="562.0" r="3.00"/><circle cx="323.7" cy="564.2" r="3.00"/><circle cx="324.0" cy="562.5" r="3.00"/><circle cx="324.4" cy="563.3" r="3.00"/><circle cx="324.7" cy="564.6" r="3.00"/><circle cx="325.1" cy="565.0" r="3.00"/><circle cx="325.4" cy="565.0" r="3.00"/><circle cx="325.7" cy="565.4" r="3.00"/><circle cx="326.1" cy="565.5" r="3.00"/><circle cx="326.4" cy="565.4" r="3.00"/><circle cx="326.8" cy="565.0" r="3.00"/><circle cx="327.1" cy="566.5" r="3.00"/><circle cx="327.4" cy="567.8" r="3.00"/><circle cx="327.8" cy="566.3" r="3.00"/><circle cx="328.1" cy="568.6" r="3.00"/><circle cx="328.5" cy="567.5" r="3.00"/><circle cx="328.8" cy="567.3" r="3.00"/><circle cx="329.1" cy="567.8" r="3.00"/><circle cx="329.5" cy="567.5" r="3.00"/><circle cx="329.8" cy="567.4" r="3.00"/><circle cx="330.1" cy="569.5" r="3.00"/><circle cx="330.5" cy="568.7" r="3.00"/><circle cx="330.8" cy="568.6" r="3.00"/><circle cx="331.2" cy="569.0" r="3.00"/><circle cx="331.5" cy="569.5" r="3.00"/><circle cx="331.8" cy="570.6" r="3.00"/><circle cx="332.2" cy="570.1" r="3.00"/><circle cx="332.5" cy="572.0" r="3.00"/><circle cx="332.9" cy="571.6" r="3.00"/><circle cx="333.2" cy="571.8" r="3.00"/><circle cx="333.5" cy="573.2" r="3.00"/><circle cx="333.9" cy="571.5" r="3.00"/><circle cx="334.2" cy="573.0" r="3.00"/><circle cx="334.6" cy="573.5" r="3.00"/><circle cx="334.9" cy="573.3" r="3.00"/><circle cx="335.2" cy="573.6" r="3.00"/><circle cx="335.6" cy="574.6" r="3.00"/><circle cx="335.9" cy="573.9" r="3.00"/><circle cx="336.3" cy="575.3" r="3.00"/><circle cx="336.6" cy="575.0" r="3.00"/><circle cx="336.9" cy="576.8" r="3.00"/><circle cx="337.3" cy="577.0" r="3.00"/><circle cx="337.6" cy="577.2" r="3.00"/><circle cx="338.0" cy="576.0" r="3.00"/><circle cx="338.3" cy="576.6" r="3.00"/><circle cx="338.6" cy="577.4" r="3.00"/><circle cx="339.0" cy="577.7" r="3.00"/><circle cx="339.3" cy="576.5" r="3.00"/><circle cx="339.6" cy="577.3" r="3.00"/><circle cx="340.0" cy="578.9" r="3.00"/><circle cx="340.3" cy="579.0" r="3.00"/><circle cx="340.7" cy="577.6" r="3.00"/><circle cx="341.0" cy="579.6" r="3.00"/><circle cx="341.3" cy="579.5" r="3.00"/><circle cx="341.7" cy="579.2" r="3.00"/><circle cx="342.0" cy="581.0" r="3.00"/><circle cx="342.4" cy="580.1" r="3.00"/><circle cx="342.7" cy="581.6" r="3.00"/><circle cx="343.0" cy="580.1" r="3.00"/><circle cx="343.4" cy="581.7" r="3.00"/><circle cx="343.7" cy="580.4" r="3.00"/><circle cx="344.1" cy="583.4" r="3.00"/><circle cx="344.4" cy="582.3" r="3.00"/><circle cx="344.7" cy="582.9" r="3.00"/><circle cx="345.1" cy="583.7" r="3.00"/><circle cx="345.4" cy="584.5" r="3.00"/><circle cx="345.8" cy="584.9" r="3.00"/><circle cx="346.1" cy="583.1" r="3.00"/><circle cx="346.4" cy="585.3" r="3.00"/><circle cx="346.8" cy="586.0" r="3.00"/><circle cx="347.1" cy="584.8" r="3.00"/><circle cx="347.4" cy="586.1" r="3.00"/><circle cx="347.8" cy="586.0" r="3.00"/><circle cx="348.1" cy="585.1" r="3.00"/><circle cx="348.5" cy="586.0" r="3.00"/><circle cx="348.8" cy="587.6" r="3.00"/><circle cx="349.1" cy="588.0" r="3.00"/><circle cx="349.5" cy="586.9" r="3.00"/><circle cx="349.8" cy="586.5" r="3.00"/><circle cx="350.2" cy="587.9" r="3.00"/><circle cx="350.5" cy="587.7" r="3.00"/><circle cx="350.8" cy="587.6" r="3.00"/><circle cx="351.2" cy="589.7" r="3.00"/><circle cx="351.5" cy="588.6" r="3.00"/><circle cx="351.9" cy="588.0" r="3.00"/><circle cx="352.2" cy="589.2" r="3.00"/><circle cx="352.5" cy="589.4" r="3.00"/><circle cx="352.9" cy="591.4" r="3.00"/><circle cx="353.2" cy="590.4" r="3.00"/><circle cx="353.6" cy="592.0" r="3.00"/></g><g fill="#dc2920"><circle cx="265.6" cy="470.4" r="3.00"/><circle cx="300.0" cy="526.9" r="3.00"/><circle cx="323.7" cy="554.4" r="3.00"/><circle cx="358.8" cy="587.7" r="3.00"/></g></g>
<line x1="80.41" y1="55.10" x2="80.41" y2="57.30" stroke="#000" stroke-width="1.30"/>
<line x1="80.41" y1="224.70" x2="80.41" y2="222.50" stroke="#000" stroke-width="1.30"/>
<line x1="103.03" y1="55.10" x2="103.03" y2="59.50" stroke="#000" stroke-width="1.30"/>
<line x1="103.03" y1="224.70" x2="103.03" y2="220.30" stroke="#000" stroke-width="1.30"/>
<line x1="125.64" y1="55.10" x2="125.64" y2="57.30" stroke="#000" stroke-width="1.30"/>
<line x1="125.64" y1="224.70" x2="125.64" y2="222.50" stroke="#000" stroke-width="1.30"/>
<line x1="148.25" y1="55.10" x2="148.25" y2="59.50" stroke="#000" stroke-width="1.30"/>
<line x1="148.25" y1="224.70" x2="148.25" y2="220.30" stroke="#000" stroke-width="1.30"/>
<line x1="170.87" y1="55.10" x2="170.87" y2="57.30" stroke="#000" stroke-width="1.30"/>
<line x1="170.87" y1="224.70" x2="170.87" y2="222.50" stroke="#000" stroke-width="1.30"/>
<line x1="193.48" y1="55.10" x2="193.48" y2="59.50" stroke="#000" stroke-width="1.30"/>
<line x1="193.48" y1="224.70" x2="193.48" y2="220.30" stroke="#000" stroke-width="1.30"/>
<line x1="216.09" y1="55.10" x2="216.09" y2="57.30" stroke="#000" stroke-width="1.30"/>
<line x1="216.09" y1="224.70" x2="216.09" y2="222.50" stroke="#000" stroke-width="1.30"/>
<line x1="57.80" y1="63.60" x2="62.20" y2="63.60" stroke="#000" stroke-width="1.30"/>
<line x1="227.40" y1="63.60" x2="223.00" y2="63.60" stroke="#000" stroke-width="1.30"/>
<line x1="57.80" y1="85.96" x2="60.00" y2="85.96" stroke="#000" stroke-width="1.30"/>
<line x1="227.40" y1="85.96" x2="225.20" y2="85.96" stroke="#000" stroke-width="1.30"/>
<line x1="57.80" y1="108.32" x2="62.20" y2="108.32" stroke="#000" stroke-width="1.30"/>
<line x1="227.40" y1="108.32" x2="223.00" y2="108.32" stroke="#000" stroke-width="1.30"/>
<line x1="57.80" y1="130.67" x2="60.00" y2="130.67" stroke="#000" stroke-width="1.30"/>
<line x1="227.40" y1="130.67" x2="225.20" y2="130.67" stroke="#000" stroke-width="1.30"/>
<line x1="57.80" y1="153.03" x2="62.20" y2="153.03" stroke="#000" stroke-width="1.30"/>
<line x1="227.40" y1="153.03" x2="223.00" y2="153.03" stroke="#000" stroke-width="1.30"/>
<line x1="57.80" y1="175.39" x2="60.00" y2="175.39" stroke="#000" stroke-width="1.30"/>
<line x1="227.40" y1="175.39" x2="225.20" y2="175.39" stroke="#000" stroke-width="1.30"/>
<line x1="57.80" y1="197.75" x2="62.20" y2="197.75" stroke="#000" stroke-width="1.30"/>
<line x1="227.40" y1="197.75" x2="223.00" y2="197.75" stroke="#000" stroke-width="1.30"/>
<line x1="57.80" y1="220.10" x2="60.00" y2="220.10" stroke="#000" stroke-width="1.30"/>
<line x1="227.40" y1="220.10" x2="225.20" y2="220.10" stroke="#000" stroke-width="1.30"/>
<rect x="57.80" y="55.10" width="169.60" height="169.60" fill="none" stroke="#000" stroke-width="1.4"/>
<line x1="263.21" y1="55.10" x2="263.21" y2="57.30" stroke="#000" stroke-width="1.30"/>
<line x1="263.21" y1="224.70" x2="263.21" y2="222.50" stroke="#000" stroke-width="1.30"/>
<line x1="285.83" y1="55.10" x2="285.83" y2="59.50" stroke="#000" stroke-width="1.30"/>
<line x1="285.83" y1="224.70" x2="285.83" y2="220.30" stroke="#000" stroke-width="1.30"/>
<line x1="308.44" y1="55.10" x2="308.44" y2="57.30" stroke="#000" stroke-width="1.30"/>
<line x1="308.44" y1="224.70" x2="308.44" y2="222.50" stroke="#000" stroke-width="1.30"/>
<line x1="331.05" y1="55.10" x2="331.05" y2="59.50" stroke="#000" stroke-width="1.30"/>
<line x1="331.05" y1="224.70" x2="331.05" y2="220.30" stroke="#000" stroke-width="1.30"/>
<line x1="353.67" y1="55.10" x2="353.67" y2="57.30" stroke="#000" stroke-width="1.30"/>
<line x1="353.67" y1="224.70" x2="353.67" y2="222.50" stroke="#000" stroke-width="1.30"/>
<line x1="376.28" y1="55.10" x2="376.28" y2="59.50" stroke="#000" stroke-width="1.30"/>
<line x1="376.28" y1="224.70" x2="376.28" y2="220.30" stroke="#000" stroke-width="1.30"/>
<line x1="398.89" y1="55.10" x2="398.89" y2="57.30" stroke="#000" stroke-width="1.30"/>
<line x1="398.89" y1="224.70" x2="398.89" y2="222.50" stroke="#000" stroke-width="1.30"/>
<line x1="240.60" y1="63.60" x2="245.00" y2="63.60" stroke="#000" stroke-width="1.30"/>
<line x1="410.20" y1="63.60" x2="405.80" y2="63.60" stroke="#000" stroke-width="1.30"/>
<line x1="240.60" y1="85.96" x2="242.80" y2="85.96" stroke="#000" stroke-width="1.30"/>
<line x1="410.20" y1="85.96" x2="408.00" y2="85.96" stroke="#000" stroke-width="1.30"/>
<line x1="240.60" y1="108.32" x2="245.00" y2="108.32" stroke="#000" stroke-width="1.30"/>
<line x1="410.20" y1="108.32" x2="405.80" y2="108.32" stroke="#000" stroke-width="1.30"/>
<line x1="240.60" y1="130.67" x2="242.80" y2="130.67" stroke="#000" stroke-width="1.30"/>
<line x1="410.20" y1="130.67" x2="408.00" y2="130.67" stroke="#000" stroke-width="1.30"/>
<line x1="240.60" y1="153.03" x2="245.00" y2="153.03" stroke="#000" stroke-width="1.30"/>
<line x1="410.20" y1="153.03" x2="405.80" y2="153.03" stroke="#000" stroke-width="1.30"/>
<line x1="240.60" y1="175.39" x2="242.80" y2="175.39" stroke="#000" stroke-width="1.30"/>
<line x1="410.20" y1="175.39" x2="408.00" y2="175.39" stroke="#000" stroke-width="1.30"/>
<line x1="240.60" y1="197.75" x2="245.00" y2="197.75" stroke="#000" stroke-width="1.30"/>
<line x1="410.20" y1="197.75" x2="405.80" y2="197.75" stroke="#000" stroke-width="1.30"/>
<line x1="240.60" y1="220.10" x2="242.80" y2="220.10" stroke="#000" stroke-width="1.30"/>
<line x1="410.20" y1="220.10" x2="408.00" y2="220.10" stroke="#000" stroke-width="1.30"/>
<rect x="240.60" y="55.10" width="169.60" height="169.60" fill="none" stroke="#000" stroke-width="1.4"/>
<line x1="446.21" y1="55.10" x2="446.21" y2="57.30" stroke="#000" stroke-width="1.30"/>
<line x1="446.21" y1="224.70" x2="446.21" y2="222.50" stroke="#000" stroke-width="1.30"/>
<line x1="468.83" y1="55.10" x2="468.83" y2="59.50" stroke="#000" stroke-width="1.30"/>
<line x1="468.83" y1="224.70" x2="468.83" y2="220.30" stroke="#000" stroke-width="1.30"/>
<line x1="491.44" y1="55.10" x2="491.44" y2="57.30" stroke="#000" stroke-width="1.30"/>
<line x1="491.44" y1="224.70" x2="491.44" y2="222.50" stroke="#000" stroke-width="1.30"/>
<line x1="514.05" y1="55.10" x2="514.05" y2="59.50" stroke="#000" stroke-width="1.30"/>
<line x1="514.05" y1="224.70" x2="514.05" y2="220.30" stroke="#000" stroke-width="1.30"/>
<line x1="536.67" y1="55.10" x2="536.67" y2="57.30" stroke="#000" stroke-width="1.30"/>
<line x1="536.67" y1="224.70" x2="536.67" y2="222.50" stroke="#000" stroke-width="1.30"/>
<line x1="559.28" y1="55.10" x2="559.28" y2="59.50" stroke="#000" stroke-width="1.30"/>
<line x1="559.28" y1="224.70" x2="559.28" y2="220.30" stroke="#000" stroke-width="1.30"/>
<line x1="581.89" y1="55.10" x2="581.89" y2="57.30" stroke="#000" stroke-width="1.30"/>
<line x1="581.89" y1="224.70" x2="581.89" y2="222.50" stroke="#000" stroke-width="1.30"/>
<line x1="423.60" y1="63.60" x2="428.00" y2="63.60" stroke="#000" stroke-width="1.30"/>
<line x1="593.20" y1="63.60" x2="588.80" y2="63.60" stroke="#000" stroke-width="1.30"/>
<line x1="423.60" y1="85.96" x2="425.80" y2="85.96" stroke="#000" stroke-width="1.30"/>
<line x1="593.20" y1="85.96" x2="591.00" y2="85.96" stroke="#000" stroke-width="1.30"/>
<line x1="423.60" y1="108.32" x2="428.00" y2="108.32" stroke="#000" stroke-width="1.30"/>
<line x1="593.20" y1="108.32" x2="588.80" y2="108.32" stroke="#000" stroke-width="1.30"/>
<line x1="423.60" y1="130.67" x2="425.80" y2="130.67" stroke="#000" stroke-width="1.30"/>
<line x1="593.20" y1="130.67" x2="591.00" y2="130.67" stroke="#000" stroke-width="1.30"/>
<line x1="423.60" y1="153.03" x2="428.00" y2="153.03" stroke="#000" stroke-width="1.30"/>
<line x1="593.20" y1="153.03" x2="588.80" y2="153.03" stroke="#000" stroke-width="1.30"/>
<line x1="423.60" y1="175.39" x2="425.80" y2="175.39" stroke="#000" stroke-width="1.30"/>
<line x1="593.20" y1="175.39" x2="591.00" y2="175.39" stroke="#000" stroke-width="1.30"/>
<line x1="423.60" y1="197.75" x2="428.00" y2="197.75" stroke="#000" stroke-width="1.30"/>
<line x1="593.20" y1="197.75" x2="588.80" y2="197.75" stroke="#000" stroke-width="1.30"/>
<line x1="423.60" y1="220.10" x2="425.80" y2="220.10" stroke="#000" stroke-width="1.30"/>
<line x1="593.20" y1="220.10" x2="591.00" y2="220.10" stroke="#000" stroke-width="1.30"/>
<rect x="423.60" y="55.10" width="169.60" height="169.60" fill="none" stroke="#000" stroke-width="1.4"/>
<line x1="80.41" y1="238.20" x2="80.41" y2="240.40" stroke="#000" stroke-width="1.30"/>
<line x1="80.41" y1="407.80" x2="80.41" y2="405.60" stroke="#000" stroke-width="1.30"/>
<line x1="103.03" y1="238.20" x2="103.03" y2="242.60" stroke="#000" stroke-width="1.30"/>
<line x1="103.03" y1="407.80" x2="103.03" y2="403.40" stroke="#000" stroke-width="1.30"/>
<line x1="125.64" y1="238.20" x2="125.64" y2="240.40" stroke="#000" stroke-width="1.30"/>
<line x1="125.64" y1="407.80" x2="125.64" y2="405.60" stroke="#000" stroke-width="1.30"/>
<line x1="148.25" y1="238.20" x2="148.25" y2="242.60" stroke="#000" stroke-width="1.30"/>
<line x1="148.25" y1="407.80" x2="148.25" y2="403.40" stroke="#000" stroke-width="1.30"/>
<line x1="170.87" y1="238.20" x2="170.87" y2="240.40" stroke="#000" stroke-width="1.30"/>
<line x1="170.87" y1="407.80" x2="170.87" y2="405.60" stroke="#000" stroke-width="1.30"/>
<line x1="193.48" y1="238.20" x2="193.48" y2="242.60" stroke="#000" stroke-width="1.30"/>
<line x1="193.48" y1="407.80" x2="193.48" y2="403.40" stroke="#000" stroke-width="1.30"/>
<line x1="216.09" y1="238.20" x2="216.09" y2="240.40" stroke="#000" stroke-width="1.30"/>
<line x1="216.09" y1="407.80" x2="216.09" y2="405.60" stroke="#000" stroke-width="1.30"/>
<line x1="57.80" y1="246.70" x2="62.20" y2="246.70" stroke="#000" stroke-width="1.30"/>
<line x1="227.40" y1="246.70" x2="223.00" y2="246.70" stroke="#000" stroke-width="1.30"/>
<line x1="57.80" y1="269.06" x2="60.00" y2="269.06" stroke="#000" stroke-width="1.30"/>
<line x1="227.40" y1="269.06" x2="225.20" y2="269.06" stroke="#000" stroke-width="1.30"/>
<line x1="57.80" y1="291.42" x2="62.20" y2="291.42" stroke="#000" stroke-width="1.30"/>
<line x1="227.40" y1="291.42" x2="223.00" y2="291.42" stroke="#000" stroke-width="1.30"/>
<line x1="57.80" y1="313.77" x2="60.00" y2="313.77" stroke="#000" stroke-width="1.30"/>
<line x1="227.40" y1="313.77" x2="225.20" y2="313.77" stroke="#000" stroke-width="1.30"/>
<line x1="57.80" y1="336.13" x2="62.20" y2="336.13" stroke="#000" stroke-width="1.30"/>
<line x1="227.40" y1="336.13" x2="223.00" y2="336.13" stroke="#000" stroke-width="1.30"/>
<line x1="57.80" y1="358.49" x2="60.00" y2="358.49" stroke="#000" stroke-width="1.30"/>
<line x1="227.40" y1="358.49" x2="225.20" y2="358.49" stroke="#000" stroke-width="1.30"/>
<line x1="57.80" y1="380.85" x2="62.20" y2="380.85" stroke="#000" stroke-width="1.30"/>
<line x1="227.40" y1="380.85" x2="223.00" y2="380.85" stroke="#000" stroke-width="1.30"/>
<line x1="57.80" y1="403.20" x2="60.00" y2="403.20" stroke="#000" stroke-width="1.30"/>
<line x1="227.40" y1="403.20" x2="225.20" y2="403.20" stroke="#000" stroke-width="1.30"/>
<rect x="57.80" y="238.20" width="169.60" height="169.60" fill="none" stroke="#000" stroke-width="1.4"/>
<line x1="263.21" y1="238.20" x2="263.21" y2="240.40" stroke="#000" stroke-width="1.30"/>
<line x1="263.21" y1="407.80" x2="263.21" y2="405.60" stroke="#000" stroke-width="1.30"/>
<line x1="285.83" y1="238.20" x2="285.83" y2="242.60" stroke="#000" stroke-width="1.30"/>
<line x1="285.83" y1="407.80" x2="285.83" y2="403.40" stroke="#000" stroke-width="1.30"/>
<line x1="308.44" y1="238.20" x2="308.44" y2="240.40" stroke="#000" stroke-width="1.30"/>
<line x1="308.44" y1="407.80" x2="308.44" y2="405.60" stroke="#000" stroke-width="1.30"/>
<line x1="331.05" y1="238.20" x2="331.05" y2="242.60" stroke="#000" stroke-width="1.30"/>
<line x1="331.05" y1="407.80" x2="331.05" y2="403.40" stroke="#000" stroke-width="1.30"/>
<line x1="353.67" y1="238.20" x2="353.67" y2="240.40" stroke="#000" stroke-width="1.30"/>
<line x1="353.67" y1="407.80" x2="353.67" y2="405.60" stroke="#000" stroke-width="1.30"/>
<line x1="376.28" y1="238.20" x2="376.28" y2="242.60" stroke="#000" stroke-width="1.30"/>
<line x1="376.28" y1="407.80" x2="376.28" y2="403.40" stroke="#000" stroke-width="1.30"/>
<line x1="398.89" y1="238.20" x2="398.89" y2="240.40" stroke="#000" stroke-width="1.30"/>
<line x1="398.89" y1="407.80" x2="398.89" y2="405.60" stroke="#000" stroke-width="1.30"/>
<line x1="240.60" y1="246.70" x2="245.00" y2="246.70" stroke="#000" stroke-width="1.30"/>
<line x1="410.20" y1="246.70" x2="405.80" y2="246.70" stroke="#000" stroke-width="1.30"/>
<line x1="240.60" y1="269.06" x2="242.80" y2="269.06" stroke="#000" stroke-width="1.30"/>
<line x1="410.20" y1="269.06" x2="408.00" y2="269.06" stroke="#000" stroke-width="1.30"/>
<line x1="240.60" y1="291.42" x2="245.00" y2="291.42" stroke="#000" stroke-width="1.30"/>
<line x1="410.20" y1="291.42" x2="405.80" y2="291.42" stroke="#000" stroke-width="1.30"/>
<line x1="240.60" y1="313.77" x2="242.80" y2="313.77" stroke="#000" stroke-width="1.30"/>
<line x1="410.20" y1="313.77" x2="408.00" y2="313.77" stroke="#000" stroke-width="1.30"/>
<line x1="240.60" y1="336.13" x2="245.00" y2="336.13" stroke="#000" stroke-width="1.30"/>
<line x1="410.20" y1="336.13" x2="405.80" y2="336.13" stroke="#000" stroke-width="1.30"/>
<line x1="240.60" y1="358.49" x2="242.80" y2="358.49" stroke="#000" stroke-width="1.30"/>
<line x1="410.20" y1="358.49" x2="408.00" y2="358.49" stroke="#000" stroke-width="1.30"/>
<line x1="240.60" y1="380.85" x2="245.00" y2="380.85" stroke="#000" stroke-width="1.30"/>
<line x1="410.20" y1="380.85" x2="405.80" y2="380.85" stroke="#000" stroke-width="1.30"/>
<line x1="240.60" y1="403.20" x2="242.80" y2="403.20" stroke="#000" stroke-width="1.30"/>
<line x1="410.20" y1="403.20" x2="408.00" y2="403.20" stroke="#000" stroke-width="1.30"/>
<rect x="240.60" y="238.20" width="169.60" height="169.60" fill="none" stroke="#000" stroke-width="1.4"/>
<line x1="446.21" y1="238.20" x2="446.21" y2="240.40" stroke="#000" stroke-width="1.30"/>
<line x1="446.21" y1="407.80" x2="446.21" y2="405.60" stroke="#000" stroke-width="1.30"/>
<line x1="468.83" y1="238.20" x2="468.83" y2="242.60" stroke="#000" stroke-width="1.30"/>
<line x1="468.83" y1="407.80" x2="468.83" y2="403.40" stroke="#000" stroke-width="1.30"/>
<line x1="491.44" y1="238.20" x2="491.44" y2="240.40" stroke="#000" stroke-width="1.30"/>
<line x1="491.44" y1="407.80" x2="491.44" y2="405.60" stroke="#000" stroke-width="1.30"/>
<line x1="514.05" y1="238.20" x2="514.05" y2="242.60" stroke="#000" stroke-width="1.30"/>
<line x1="514.05" y1="407.80" x2="514.05" y2="403.40" stroke="#000" stroke-width="1.30"/>
<line x1="536.67" y1="238.20" x2="536.67" y2="240.40" stroke="#000" stroke-width="1.30"/>
<line x1="536.67" y1="407.80" x2="536.67" y2="405.60" stroke="#000" stroke-width="1.30"/>
<line x1="559.28" y1="238.20" x2="559.28" y2="242.60" stroke="#000" stroke-width="1.30"/>
<line x1="559.28" y1="407.80" x2="559.28" y2="403.40" stroke="#000" stroke-width="1.30"/>
<line x1="581.89" y1="238.20" x2="581.89" y2="240.40" stroke="#000" stroke-width="1.30"/>
<line x1="581.89" y1="407.80" x2="581.89" y2="405.60" stroke="#000" stroke-width="1.30"/>
<line x1="423.60" y1="246.70" x2="428.00" y2="246.70" stroke="#000" stroke-width="1.30"/>
<line x1="593.20" y1="246.70" x2="588.80" y2="246.70" stroke="#000" stroke-width="1.30"/>
<line x1="423.60" y1="269.06" x2="425.80" y2="269.06" stroke="#000" stroke-width="1.30"/>
<line x1="593.20" y1="269.06" x2="591.00" y2="269.06" stroke="#000" stroke-width="1.30"/>
<line x1="423.60" y1="291.42" x2="428.00" y2="291.42" stroke="#000" stroke-width="1.30"/>
<line x1="593.20" y1="291.42" x2="588.80" y2="291.42" stroke="#000" stroke-width="1.30"/>
<line x1="423.60" y1="313.77" x2="425.80" y2="313.77" stroke="#000" stroke-width="1.30"/>
<line x1="593.20" y1="313.77" x2="591.00" y2="313.77" stroke="#000" stroke-width="1.30"/>
<line x1="423.60" y1="336.13" x2="428.00" y2="336.13" stroke="#000" stroke-width="1.30"/>
<line x1="593.20" y1="336.13" x2="588.80" y2="336.13" stroke="#000" stroke-width="1.30"/>
<line x1="423.60" y1="358.49" x2="425.80" y2="358.49" stroke="#000" stroke-width="1.30"/>
<line x1="593.20" y1="358.49" x2="591.00" y2="358.49" stroke="#000" stroke-width="1.30"/>
<line x1="423.60" y1="380.85" x2="428.00" y2="380.85" stroke="#000" stroke-width="1.30"/>
<line x1="593.20" y1="380.85" x2="588.80" y2="380.85" stroke="#000" stroke-width="1.30"/>
<line x1="423.60" y1="403.20" x2="425.80" y2="403.20" stroke="#000" stroke-width="1.30"/>
<line x1="593.20" y1="403.20" x2="591.00" y2="403.20" stroke="#000" stroke-width="1.30"/>
<rect x="423.60" y="238.20" width="169.60" height="169.60" fill="none" stroke="#000" stroke-width="1.4"/>
<line x1="80.41" y1="421.10" x2="80.41" y2="423.30" stroke="#000" stroke-width="1.30"/>
<line x1="80.41" y1="590.70" x2="80.41" y2="588.50" stroke="#000" stroke-width="1.30"/>
<line x1="103.03" y1="421.10" x2="103.03" y2="425.50" stroke="#000" stroke-width="1.30"/>
<line x1="103.03" y1="590.70" x2="103.03" y2="586.30" stroke="#000" stroke-width="1.30"/>
<line x1="125.64" y1="421.10" x2="125.64" y2="423.30" stroke="#000" stroke-width="1.30"/>
<line x1="125.64" y1="590.70" x2="125.64" y2="588.50" stroke="#000" stroke-width="1.30"/>
<line x1="148.25" y1="421.10" x2="148.25" y2="425.50" stroke="#000" stroke-width="1.30"/>
<line x1="148.25" y1="590.70" x2="148.25" y2="586.30" stroke="#000" stroke-width="1.30"/>
<line x1="170.87" y1="421.10" x2="170.87" y2="423.30" stroke="#000" stroke-width="1.30"/>
<line x1="170.87" y1="590.70" x2="170.87" y2="588.50" stroke="#000" stroke-width="1.30"/>
<line x1="193.48" y1="421.10" x2="193.48" y2="425.50" stroke="#000" stroke-width="1.30"/>
<line x1="193.48" y1="590.70" x2="193.48" y2="586.30" stroke="#000" stroke-width="1.30"/>
<line x1="216.09" y1="421.10" x2="216.09" y2="423.30" stroke="#000" stroke-width="1.30"/>
<line x1="216.09" y1="590.70" x2="216.09" y2="588.50" stroke="#000" stroke-width="1.30"/>
<line x1="57.80" y1="429.60" x2="62.20" y2="429.60" stroke="#000" stroke-width="1.30"/>
<line x1="227.40" y1="429.60" x2="223.00" y2="429.60" stroke="#000" stroke-width="1.30"/>
<line x1="57.80" y1="451.96" x2="60.00" y2="451.96" stroke="#000" stroke-width="1.30"/>
<line x1="227.40" y1="451.96" x2="225.20" y2="451.96" stroke="#000" stroke-width="1.30"/>
<line x1="57.80" y1="474.32" x2="62.20" y2="474.32" stroke="#000" stroke-width="1.30"/>
<line x1="227.40" y1="474.32" x2="223.00" y2="474.32" stroke="#000" stroke-width="1.30"/>
<line x1="57.80" y1="496.67" x2="60.00" y2="496.67" stroke="#000" stroke-width="1.30"/>
<line x1="227.40" y1="496.67" x2="225.20" y2="496.67" stroke="#000" stroke-width="1.30"/>
<line x1="57.80" y1="519.03" x2="62.20" y2="519.03" stroke="#000" stroke-width="1.30"/>
<line x1="227.40" y1="519.03" x2="223.00" y2="519.03" stroke="#000" stroke-width="1.30"/>
<line x1="57.80" y1="541.39" x2="60.00" y2="541.39" stroke="#000" stroke-width="1.30"/>
<line x1="227.40" y1="541.39" x2="225.20" y2="541.39" stroke="#000" stroke-width="1.30"/>
<line x1="57.80" y1="563.75" x2="62.20" y2="563.75" stroke="#000" stroke-width="1.30"/>
<line x1="227.40" y1="563.75" x2="223.00" y2="563.75" stroke="#000" stroke-width="1.30"/>
<line x1="57.80" y1="586.10" x2="60.00" y2="586.10" stroke="#000" stroke-width="1.30"/>
<line x1="227.40" y1="586.10" x2="225.20" y2="586.10" stroke="#000" stroke-width="1.30"/>
<rect x="57.80" y="421.10" width="169.60" height="169.60" fill="none" stroke="#000" stroke-width="1.4"/>
<line x1="263.21" y1="421.10" x2="263.21" y2="423.30" stroke="#000" stroke-width="1.30"/>
<line x1="263.21" y1="590.70" x2="263.21" y2="588.50" stroke="#000" stroke-width="1.30"/>
<line x1="285.83" y1="421.10" x2="285.83" y2="425.50" stroke="#000" stroke-width="1.30"/>
<line x1="285.83" y1="590.70" x2="285.83" y2="586.30" stroke="#000" stroke-width="1.30"/>
<line x1="308.44" y1="421.10" x2="308.44" y2="423.30" stroke="#000" stroke-width="1.30"/>
<line x1="308.44" y1="590.70" x2="308.44" y2="588.50" stroke="#000" stroke-width="1.30"/>
<line x1="331.05" y1="421.10" x2="331.05" y2="425.50" stroke="#000" stroke-width="1.30"/>
<line x1="331.05" y1="590.70" x2="331.05" y2="586.30" stroke="#000" stroke-width="1.30"/>
<line x1="353.67" y1="421.10" x2="353.67" y2="423.30" stroke="#000" stroke-width="1.30"/>
<line x1="353.67" y1="590.70" x2="353.67" y2="588.50" stroke="#000" stroke-width="1.30"/>
<line x1="376.28" y1="421.10" x2="376.28" y2="425.50" stroke="#000" stroke-width="1.30"/>
<line x1="376.28" y1="590.70" x2="376.28" y2="586.30" stroke="#000" stroke-width="1.30"/>
<line x1="398.89" y1="421.10" x2="398.89" y2="423.30" stroke="#000" stroke-width="1.30"/>
<line x1="398.89" y1="590.70" x2="398.89" y2="588.50" stroke="#000" stroke-width="1.30"/>
<line x1="240.60" y1="429.60" x2="245.00" y2="429.60" stroke="#000" stroke-width="1.30"/>
<line x1="410.20" y1="429.60" x2="405.80" y2="429.60" stroke="#000" stroke-width="1.30"/>
<line x1="240.60" y1="451.96" x2="242.80" y2="451.96" stroke="#000" stroke-width="1.30"/>
<line x1="410.20" y1="451.96" x2="408.00" y2="451.96" stroke="#000" stroke-width="1.30"/>
<line x1="240.60" y1="474.32" x2="245.00" y2="474.32" stroke="#000" stroke-width="1.30"/>
<line x1="410.20" y1="474.32" x2="405.80" y2="474.32" stroke="#000" stroke-width="1.30"/>
<line x1="240.60" y1="496.67" x2="242.80" y2="496.67" stroke="#000" stroke-width="1.30"/>
<line x1="410.20" y1="496.67" x2="408.00" y2="496.67" stroke="#000" stroke-width="1.30"/>
<line x1="240.60" y1="519.03" x2="245.00" y2="519.03" stroke="#000" stroke-width="1.30"/>
<line x1="410.20" y1="519.03" x2="405.80" y2="519.03" stroke="#000" stroke-width="1.30"/>
<line x1="240.60" y1="541.39" x2="242.80" y2="541.39" stroke="#000" stroke-width="1.30"/>
<line x1="410.20" y1="541.39" x2="408.00" y2="541.39" stroke="#000" stroke-width="1.30"/>
<line x1="240.60" y1="563.75" x2="245.00" y2="563.75" stroke="#000" stroke-width="1.30"/>
<line x1="410.20" y1="563.75" x2="405.80" y2="563.75" stroke="#000" stroke-width="1.30"/>
<line x1="240.60" y1="586.10" x2="242.80" y2="586.10" stroke="#000" stroke-width="1.30"/>
<line x1="410.20" y1="586.10" x2="408.00" y2="586.10" stroke="#000" stroke-width="1.30"/>
<rect x="240.60" y="421.10" width="169.60" height="169.60" fill="none" stroke="#000" stroke-width="1.4"/>
<rect x="423.60" y="421.10" width="169.60" height="169.60" fill="none" stroke="#000" stroke-width="1.4"/>
<text x="51.70" y="69.50" font-size="15.20" text-anchor="end" >1.00</text>
<text x="51.70" y="114.22" font-size="15.20" text-anchor="end" >0.95</text>
<text x="51.70" y="158.93" font-size="15.20" text-anchor="end" >0.90</text>
<text x="51.70" y="203.65" font-size="15.20" text-anchor="end" >0.85</text>
<text x="13.30" y="140.40" font-size="15.30" text-anchor="middle" style="stroke-width:0.3px" transform="rotate(-90 13.3 140.40)">Norm. capacity</text>
<text x="51.70" y="252.60" font-size="15.20" text-anchor="end" >1.00</text>
<text x="51.70" y="297.31" font-size="15.20" text-anchor="end" >0.95</text>
<text x="51.70" y="342.03" font-size="15.20" text-anchor="end" >0.90</text>
<text x="51.70" y="386.75" font-size="15.20" text-anchor="end" >0.85</text>
<text x="13.30" y="323.50" font-size="15.30" text-anchor="middle" style="stroke-width:0.3px" transform="rotate(-90 13.3 323.50)">Norm. capacity</text>
<text x="51.70" y="435.50" font-size="15.20" text-anchor="end" >1.00</text>
<text x="51.70" y="480.22" font-size="15.20" text-anchor="end" >0.95</text>
<text x="51.70" y="524.93" font-size="15.20" text-anchor="end" >0.90</text>
<text x="51.70" y="569.64" font-size="15.20" text-anchor="end" >0.85</text>
<text x="13.30" y="506.40" font-size="15.30" text-anchor="middle" style="stroke-width:0.3px" transform="rotate(-90 13.3 506.40)">Norm. capacity</text>
<text x="58.00" y="607.30" font-size="15.20" text-anchor="middle" >0</text>
<text x="103.23" y="607.30" font-size="15.20" text-anchor="middle" >200</text>
<text x="148.45" y="607.30" font-size="15.20" text-anchor="middle" >400</text>
<text x="193.68" y="607.30" font-size="15.20" text-anchor="middle" >600</text>
<text x="143.00" y="627.80" font-size="15.30" text-anchor="middle" >Cycle number</text>
<text x="240.80" y="607.30" font-size="15.20" text-anchor="middle" >0</text>
<text x="286.03" y="607.30" font-size="15.20" text-anchor="middle" >200</text>
<text x="331.25" y="607.30" font-size="15.20" text-anchor="middle" >400</text>
<text x="376.48" y="607.30" font-size="15.20" text-anchor="middle" >600</text>
<text x="325.80" y="627.80" font-size="15.30" text-anchor="middle" >Cycle number</text>
<text x="325.45" y="14.90" font-size="18.50" text-anchor="middle" font-weight="bold" textLength="114.5" lengthAdjust="spacingAndGlyphs">40°C, C/3:C/3</text>
<text x="65.50" y="72.40" font-size="13.40" text-anchor="start" font-weight="bold" >a</text>
<text x="248.30" y="72.40" font-size="13.40" text-anchor="start" font-weight="bold" >b</text>
<text x="431.30" y="72.40" font-size="13.40" text-anchor="start" font-weight="bold" >c</text>
<text x="65.50" y="255.50" font-size="13.40" text-anchor="start" font-weight="bold" >d</text>
<text x="248.30" y="255.50" font-size="13.40" text-anchor="start" font-weight="bold" >e</text>
<text x="431.30" y="255.50" font-size="13.40" text-anchor="start" font-weight="bold" >f</text>
<text x="65.50" y="438.40" font-size="13.40" text-anchor="start" font-weight="bold" >g</text>
<text x="248.30" y="438.40" font-size="13.40" text-anchor="start" font-weight="bold" >h</text>
<text x="431.30" y="438.40" font-size="13.40" text-anchor="start" font-weight="bold" >i</text>
<text x="180.60" y="75.50" font-size="13.80" text-anchor="start" font-weight="bold" textLength="35.9">CTRL</text>
<text x="376.70" y="75.60" font-size="13.80" text-anchor="start" font-weight="bold" textLength="26.3">2VC</text>
<text x="545.90" y="75.60" font-size="13.80" text-anchor="start" font-weight="bold" textLength="35.0">2FEC</text>
<text x="180.80" y="258.60" font-size="13.80" text-anchor="start" font-weight="bold" textLength="34.4">1LFO</text>
<text x="329.20" y="258.50" font-size="13.80" text-anchor="start" font-weight="bold" textLength="70.9">2VC+1DTD</text>
<text x="505.50" y="258.40" font-size="13.80" text-anchor="start" font-weight="bold" textLength="78.2">2FEC+1LFO</text>
<text x="146.20" y="443.70" font-size="13.80" text-anchor="start" font-weight="bold" textLength="70.6">2VC+1DTD</text>
<text x="146.20" y="458.40" font-size="13.80" text-anchor="start" font-weight="bold" textLength="44.8">+20MA</text>
<text x="322.50" y="443.60" font-size="13.80" text-anchor="start" font-weight="bold" textLength="79.1">2FEC+1LFO</text>
<text x="322.50" y="457.90" font-size="13.80" text-anchor="start" font-weight="bold" textLength="44.2">+20MA</text>
<rect x="435.20" y="441.45" width="14.8" height="149.25" fill="#231f20"/>
<rect x="440.20" y="495.30" width="4.8" height="95.40" fill="#dc2920"/>
<rect x="454.02" y="544.91" width="14.8" height="45.79" fill="#231f20"/>
<rect x="459.02" y="547.45" width="4.8" height="43.25" fill="#dc2920"/>
<rect x="472.84" y="530.92" width="14.8" height="59.78" fill="#231f20"/>
<rect x="477.84" y="543.64" width="4.8" height="47.06" fill="#dc2920"/>
<rect x="491.66" y="500.81" width="14.8" height="89.89" fill="#231f20"/>
<rect x="496.66" y="530.49" width="4.8" height="60.21" fill="#dc2920"/>
<rect x="510.48" y="547.45" width="14.8" height="43.25" fill="#231f20"/>
<rect x="515.48" y="550.84" width="4.8" height="39.86" fill="#dc2920"/>
<rect x="529.30" y="515.65" width="14.8" height="75.05" fill="#231f20"/>
<rect x="534.30" y="531.76" width="4.8" height="58.94" fill="#dc2920"/>
<rect x="548.12" y="543.64" width="14.8" height="47.06" fill="#231f20"/>
<rect x="553.12" y="545.33" width="4.8" height="45.37" fill="#dc2920"/>
<rect x="571.94" y="505.90" width="4.8" height="84.80" fill="#dc2920"/>
<line x1="442.60" y1="421.10" x2="442.60" y2="425.50" stroke="#000" stroke-width="1.30"/>
<text x="442.60" y="607.40" font-size="14.20" text-anchor="middle" font-weight="bold" >a</text>
<line x1="461.42" y1="421.10" x2="461.42" y2="425.50" stroke="#000" stroke-width="1.30"/>
<text x="461.42" y="607.40" font-size="14.20" text-anchor="middle" font-weight="bold" >b</text>
<line x1="480.24" y1="421.10" x2="480.24" y2="425.50" stroke="#000" stroke-width="1.30"/>
<text x="480.24" y="607.40" font-size="14.20" text-anchor="middle" font-weight="bold" >c</text>
<line x1="499.06" y1="421.10" x2="499.06" y2="425.50" stroke="#000" stroke-width="1.30"/>
<text x="499.06" y="607.40" font-size="14.20" text-anchor="middle" font-weight="bold" >d</text>
<line x1="517.88" y1="421.10" x2="517.88" y2="425.50" stroke="#000" stroke-width="1.30"/>
<text x="517.88" y="607.40" font-size="14.20" text-anchor="middle" font-weight="bold" >e</text>
<line x1="536.70" y1="421.10" x2="536.70" y2="425.50" stroke="#000" stroke-width="1.30"/>
<text x="536.70" y="607.40" font-size="14.20" text-anchor="middle" font-weight="bold" >f</text>
<line x1="555.52" y1="421.10" x2="555.52" y2="425.50" stroke="#000" stroke-width="1.30"/>
<text x="555.52" y="607.40" font-size="14.20" text-anchor="middle" font-weight="bold" >g</text>
<line x1="574.34" y1="421.10" x2="574.34" y2="425.50" stroke="#000" stroke-width="1.30"/>
<text x="574.34" y="607.40" font-size="14.20" text-anchor="middle" font-weight="bold" >h</text>
<line x1="423.60" y1="569.50" x2="425.80" y2="569.50" stroke="#000" stroke-width="1.30"/>
<line x1="593.20" y1="569.50" x2="591.00" y2="569.50" stroke="#000" stroke-width="1.30"/>
<line x1="423.60" y1="548.30" x2="428.00" y2="548.30" stroke="#000" stroke-width="1.30"/>
<line x1="593.20" y1="548.30" x2="588.80" y2="548.30" stroke="#000" stroke-width="1.30"/>
<line x1="423.60" y1="527.10" x2="425.80" y2="527.10" stroke="#000" stroke-width="1.30"/>
<line x1="593.20" y1="527.10" x2="591.00" y2="527.10" stroke="#000" stroke-width="1.30"/>
<line x1="423.60" y1="505.90" x2="428.00" y2="505.90" stroke="#000" stroke-width="1.30"/>
<line x1="593.20" y1="505.90" x2="588.80" y2="505.90" stroke="#000" stroke-width="1.30"/>
<line x1="423.60" y1="484.70" x2="425.80" y2="484.70" stroke="#000" stroke-width="1.30"/>
<line x1="593.20" y1="484.70" x2="591.00" y2="484.70" stroke="#000" stroke-width="1.30"/>
<line x1="423.60" y1="463.50" x2="428.00" y2="463.50" stroke="#000" stroke-width="1.30"/>
<line x1="593.20" y1="463.50" x2="588.80" y2="463.50" stroke="#000" stroke-width="1.30"/>
<line x1="423.60" y1="442.30" x2="425.80" y2="442.30" stroke="#000" stroke-width="1.30"/>
<line x1="593.20" y1="442.30" x2="591.00" y2="442.30" stroke="#000" stroke-width="1.30"/>
<rect x="423.60" y="421.10" width="169.60" height="169.60" fill="none" stroke="#000" stroke-width="1.4"/>
<text x="598.60" y="596.60" font-size="15.20" text-anchor="start" >0</text>
<text x="598.60" y="554.20" font-size="15.20" text-anchor="start" >10</text>
<text x="598.60" y="511.80" font-size="15.20" text-anchor="start" >20</text>
<text x="598.60" y="469.40" font-size="15.20" text-anchor="start" >30</text>
<text x="598.60" y="427.00" font-size="15.20" text-anchor="start" >40</text>
<text x="632.80" y="505.90" font-size="15.50" text-anchor="middle" style="stroke-width:0.3px" transform="rotate(-90 632.8 505.90)">Capacity loss / %</text>
<circle cx="514" cy="441.6" r="3" fill="#231f20"/>
<circle cx="514" cy="459.2" r="3" fill="#dc2920"/>
<text x="535.40" y="445.90" font-size="15.20" text-anchor="start" textLength="41.6" lengthAdjust="spacingAndGlyphs">100°C</text>
<text x="535.40" y="463.10" font-size="15.20" text-anchor="start" textLength="41.6" lengthAdjust="spacingAndGlyphs">120°C</text>
</svg></body></html>
